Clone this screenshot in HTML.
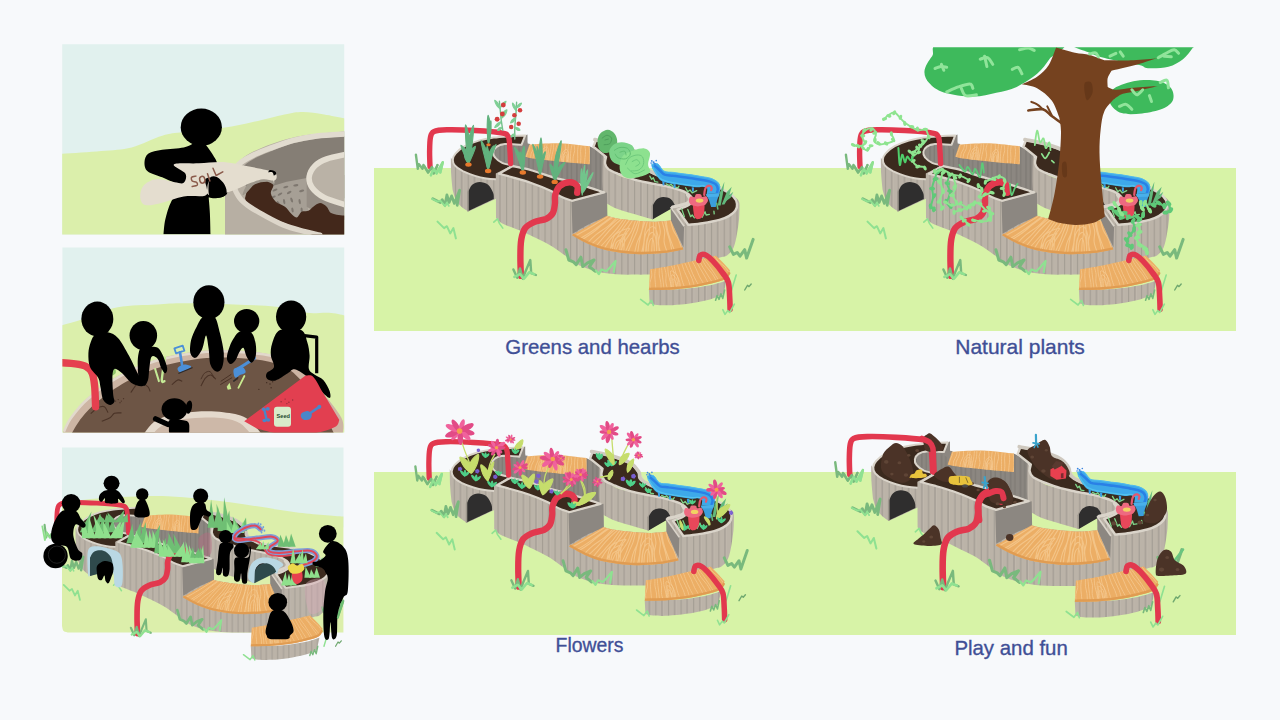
<!DOCTYPE html>
<html><head><meta charset="utf-8"><title>Planter concepts</title>
<style>
html,body{margin:0;padding:0;background:#f7f9fb;}
body{width:1280px;height:720px;overflow:hidden;font-family:"Liberation Sans",sans-serif;}
svg{display:block}
text{font-family:"Liberation Sans",sans-serif;fill:#3f4f96;stroke:#3f4f96;stroke-width:0.35px;}
</style></head><body>
<svg width="1280" height="720" viewBox="0 0 1280 720">
<defs>

<pattern id="st" width="12.8" height="40" patternUnits="userSpaceOnUse">
<rect width="12.8" height="40" fill="#bbb3a8"/>
<rect x="0.5" width="1.0" height="40" fill="#979189"/>
<rect x="1.5" width="1.0" height="40" fill="#cdc6bb" opacity="0.35"/>
<rect x="7" width="1.0" height="40" fill="#979189" opacity="0.75"/>
</pattern>
<pattern id="std" width="9.6" height="40" patternUnits="userSpaceOnUse">
<rect width="9.6" height="40" fill="#8c8781"/>
<rect x="0.4" width="1" height="40" fill="#79756f"/>
<rect x="4.6" width="0.8" height="40" fill="#79756f"/>
</pattern>
<pattern id="wg" width="60" height="60" patternUnits="userSpaceOnUse">
</pattern>

<g id="base0">
<path d="M415.9 154.7L417.8 168.8L418.8 164.1L422.5 168.8L423.4 165.0L428.1 172.5L431.9 166.9L433.8 173.4L437.5 165.0" fill="none" stroke="#79b97d" stroke-width="2.4" stroke-linejoin="round" stroke-linecap="round"/>
<path d="M430.9 175.3L433.8 168.8L436.6 173.4L442.8 162.2L440.3 172.5" fill="none" stroke="#8fe191" stroke-width="2.4" stroke-linejoin="round" stroke-linecap="round"/>
<path d="M450.8 157.5C450.9 160.3 450.9 168.9 451.2 174.4C451.5 179.8 452.4 187.7 452.7 190.3C453.3 192.0 454.7 197.8 456.2 200.6C457.8 203.4 459.8 205.4 461.9 207.2C463.9 209.0 467.3 210.8 468.4 211.5L496.6 198.4L496.6 178.1C493.0 177.2 481.7 175.0 475.0 172.5C468.3 170.0 460.3 165.6 456.2 163.1C452.2 160.6 451.7 158.4 450.8 157.5Z" fill="url(#st)"/>
<path d="M468.4 210.9L468.4 191.2C469.1 190.2 470.3 186.3 472.2 184.7C474.1 183.1 477.0 181.9 479.7 181.9C482.3 181.9 485.9 182.8 488.1 184.7C490.4 186.6 492.3 190.7 493.2 193.1C494.1 195.5 493.7 198.1 493.8 199.1Z" fill="#2f2e2e"/>
<path d="M467.1 211.5L467.1 192.2L468.6 187.5L468.6 211.5Z" fill="#9d978d"/>
<path d="M492.8 146.2L527.5 142.5L527.5 146.2L520.0 150.0L514.4 166.9L497.5 164.1L492.8 155.6Z" fill="url(#std)"/>
<path d="M519.2 145.9L527.9 143.6L530.1 144.0L526.0 157.5L519.2 152.8Z" fill="#8c8781"/>
<path d="M520.9 136.9L527.5 134.6L527.5 144.8L520.0 146.6Z" fill="#8c8781"/>
<path d="M520.0 146.2L529.4 153.8L589.4 161.2L589.4 146.2L603.4 152.8L603.4 192.2L512.5 165.9Z" fill="url(#std)"/>
<path d="M525.2 135.4C523.1 135.5 517.8 135.7 512.5 136.1C507.2 136.5 499.4 136.9 493.8 137.6C488.1 138.4 483.6 139.2 478.8 140.6C473.9 142.1 468.5 144.1 464.7 146.2C460.8 148.4 457.7 151.2 455.7 153.4C453.7 155.6 453.0 157.4 452.9 159.4C452.7 161.4 453.1 163.4 454.8 165.4C456.4 167.3 459.4 169.4 462.8 171.2C466.2 172.9 471.1 174.7 475.0 175.9C478.9 177.1 482.6 177.9 486.2 178.5C489.9 179.1 495.2 179.3 496.9 179.4C497.8 178.3 499.6 174.8 502.2 172.5C504.8 170.2 510.8 166.6 512.5 165.4C510.8 164.9 505.1 164.1 502.2 162.8C499.3 161.4 496.5 159.3 495.1 157.5C493.6 155.7 493.1 153.7 493.4 151.9C493.7 150.1 495.0 147.9 496.9 146.6C498.9 145.3 500.9 144.3 505.0 144.0C509.1 143.7 518.8 144.6 521.5 144.8L525.2 135.4Z" fill="#3b2a1e" stroke="#dad4ca" stroke-width="2" stroke-linejoin="round"/>
<clipPath id="cb1"><path d="M529.4 144.4C534.4 144.2 549.3 142.9 559.4 143.2C569.4 143.6 584.7 145.8 589.8 146.2L589.8 164.2C586.2 163.9 575.4 163.0 568.8 162.4C562.1 161.8 556.2 161.2 550.0 160.5C543.8 159.8 535.4 158.9 531.2 158.2C527.1 157.6 526.2 157.0 525.2 156.8L529.4 144.4Z"/></clipPath><path d="M529.4 144.4C534.4 144.2 549.3 142.9 559.4 143.2C569.4 143.6 584.7 145.8 589.8 146.2L589.8 164.2C586.2 163.9 575.4 163.0 568.8 162.4C562.1 161.8 556.2 161.2 550.0 160.5C543.8 159.8 535.4 158.9 531.2 158.2C527.1 157.6 526.2 157.0 525.2 156.8L529.4 144.4Z" fill="#ecae65"/>
<g clip-path="url(#cb1)"><path d="M530.5 144.3C530.3 145.0 529.8 147.1 529.3 148.5C528.8 149.9 528.0 151.3 527.6 152.7C527.1 154.1 526.6 156.3 526.5 157.1M534.6 144.2C534.5 144.9 534.2 147.2 533.6 148.8C533.0 150.3 531.7 151.8 531.2 153.4C530.7 154.9 530.8 157.3 530.7 158.1M536.8 144.1C536.7 144.9 536.7 147.3 536.2 148.8C535.7 150.4 534.4 152.0 533.8 153.6C533.3 155.2 533.2 157.6 533.0 158.5M540.6 144.0C540.6 144.8 540.8 147.3 540.4 148.9C540.0 150.6 538.8 152.2 538.2 153.9C537.7 155.5 537.3 158.1 537.1 159.0M545.2 143.8C545.0 144.7 544.4 147.3 544.1 149.0C543.8 150.7 543.7 152.4 543.3 154.2C543.0 155.9 542.2 158.6 542.0 159.5M547.2 143.7C547.0 144.6 546.6 147.2 546.4 149.0C546.2 150.8 546.3 152.5 545.9 154.3C545.5 156.1 544.4 158.9 544.1 159.8M551.3 143.6C551.2 144.5 551.1 147.2 550.8 149.1C550.6 150.9 550.2 152.7 549.8 154.6C549.4 156.5 548.7 159.4 548.5 160.3M553.7 143.5C553.6 144.4 553.6 147.2 553.4 149.1C553.1 151.0 552.5 152.9 552.1 154.8C551.8 156.7 551.2 159.6 551.1 160.6M557.5 143.3C557.3 144.3 556.0 147.2 555.8 149.2C555.7 151.1 556.8 153.0 556.7 155.0C556.6 157.0 555.4 160.0 555.2 161.0M561.2 143.4C561.2 144.4 561.1 147.4 561.0 149.4C560.9 151.3 560.9 153.3 560.6 155.3C560.3 157.3 559.4 160.4 559.1 161.4M565.1 143.8C565.1 144.8 565.6 147.8 565.3 149.8C565.1 151.7 564.0 153.7 563.7 155.7C563.3 157.7 563.3 160.8 563.2 161.8M568.6 144.2C568.5 145.2 568.0 148.1 568.0 150.1C567.9 152.1 568.6 154.1 568.4 156.1C568.3 158.1 567.3 161.2 567.0 162.2M572.1 144.5C571.9 145.5 571.1 148.5 570.9 150.5C570.6 152.5 570.5 154.4 570.5 156.4C570.5 158.4 570.7 161.5 570.8 162.6M574.1 144.7C574.2 145.7 574.8 148.7 574.7 150.7C574.5 152.6 573.5 154.6 573.2 156.6C572.9 158.6 573.0 161.7 573.0 162.8M578.3 145.1C578.2 146.1 577.7 149.1 577.6 151.1C577.5 153.1 577.8 155.0 577.7 157.0C577.7 159.0 577.5 162.1 577.4 163.2M581.2 145.4C581.1 146.4 580.7 149.4 580.6 151.3C580.6 153.3 580.9 155.3 580.9 157.3C580.9 159.3 580.6 162.4 580.5 163.4M584.9 145.8C585.0 146.8 585.6 149.7 585.6 151.7C585.6 153.7 585.2 155.6 585.0 157.7C584.8 159.7 584.6 162.8 584.5 163.8M588.9 146.2C589.1 147.2 589.5 150.1 589.6 152.1C589.8 154.1 590.0 156.0 589.9 158.1C589.8 160.1 589.0 163.2 588.9 164.2M540.0 159.3C540.2 157.9 540.5 152.7 541.7 150.6C542.9 148.6 545.8 146.9 546.9 146.9C548.0 147.0 548.1 148.7 548.5 151.0C548.8 153.2 548.9 158.8 549.0 160.4M541.3 159.5C541.5 158.3 541.7 154.3 542.6 152.7C543.4 151.1 545.6 149.7 546.4 149.8C547.2 149.8 547.1 151.2 547.3 152.9C547.5 154.6 547.6 159.0 547.6 160.2M542.7 159.6C542.8 158.8 542.9 155.9 543.5 154.7C544.0 153.5 545.4 152.6 545.8 152.6C546.3 152.6 546.1 153.6 546.2 154.8C546.2 156.1 546.3 159.2 546.3 160.1M561.3 161.6C561.5 160.2 561.7 155.1 562.5 153.1C563.4 151.0 565.4 149.4 566.3 149.4C567.3 149.4 567.9 151.1 568.4 153.3C568.8 155.5 568.9 160.9 569.0 162.4M562.4 161.7C562.6 160.6 562.7 156.6 563.3 155.0C564.0 153.5 565.4 152.1 566.1 152.2C566.8 152.2 567.1 153.5 567.4 155.2C567.7 156.9 567.8 161.1 567.9 162.3M563.6 161.9C563.7 161.1 563.8 158.2 564.2 157.0C564.5 155.9 565.4 154.9 565.8 155.0C566.2 155.0 566.3 155.9 566.5 157.1C566.6 158.3 566.7 161.3 566.7 162.2" fill="none" stroke="#f6cd96" stroke-width="0.9" opacity="0.75" stroke-linecap="round"/></g>
<path d="M602.8 155.0C602.7 160.0 602.0 177.1 602.4 185.0C602.8 192.9 604.6 199.4 605.0 202.2C606.9 203.3 611.2 206.4 616.2 208.4C621.2 210.4 628.9 212.4 635.0 214.2C641.1 216.1 649.8 218.5 652.8 219.3C656.1 217.3 666.1 210.7 672.5 207.5C678.9 204.3 688.4 202.5 691.2 200.0C694.1 197.5 689.7 193.8 689.4 192.5C686.6 191.7 678.4 189.2 672.5 187.8C666.6 186.4 660.0 185.3 653.8 184.1C647.5 182.8 641.2 182.0 635.0 180.3C628.8 178.6 621.6 178.0 616.2 173.8C610.9 169.5 605.0 158.1 602.8 155.0Z" fill="url(#st)"/>
<path d="M652.8 219.3L652.8 205.6C653.4 204.6 654.8 201.1 656.6 199.6C658.3 198.2 660.8 197.1 663.1 197.0C665.5 196.9 668.7 197.6 670.6 198.9C672.6 200.2 674.1 203.7 674.8 204.7L672.5 207.9Z" fill="#2f2e2e"/>
<path d="M651.5 218.9L651.5 206.0L653.0 202.8L653.0 219.5Z" fill="#9d978d"/>
<path d="M495.8 173.6L496.0 217.8C496.6 218.4 497.9 220.4 499.4 221.6C500.9 222.7 501.6 223.2 505.0 224.8C508.4 226.2 515.6 228.7 520.0 230.6C524.4 232.4 526.2 233.4 531.2 235.8C536.2 238.2 545.0 242.4 550.0 245.2C555.0 248.0 558.1 250.5 561.2 252.7C564.4 254.9 565.6 256.1 568.8 258.3C571.9 260.5 575.3 263.6 580.0 265.8C584.7 268.0 590.9 270.0 596.9 271.4C602.8 272.8 609.3 273.7 615.6 274.2C622.0 274.8 629.3 274.6 635.0 274.6C640.7 274.7 647.5 274.6 650.0 274.6C653.8 274.7 665.0 275.6 672.5 275.0C680.0 274.4 687.5 274.0 695.0 271.2C702.5 268.5 712.2 261.1 717.5 258.5C722.8 255.9 723.8 257.4 726.5 255.7C729.2 253.9 731.7 251.7 733.4 248.0C735.2 244.3 736.1 238.6 737.0 233.8C737.9 228.9 738.6 223.4 739.1 218.8C739.5 214.1 739.5 207.8 739.6 205.6C739.4 204.7 739.9 202.2 738.1 200.0C736.3 197.8 730.3 193.8 728.8 192.5L672.5 207.5L671.0 220.6C668.1 220.8 659.8 221.8 653.8 221.8C647.8 221.8 641.2 221.2 635.0 220.6C628.8 220.0 620.9 219.0 616.2 218.2C611.6 217.4 608.4 216.2 606.9 215.8L607.0 192.4L512.5 165.0Z" fill="url(#st)"/>
<path d="M571.6 201.9L607.0 192.4L607.4 216.5C604.4 217.8 595.2 221.1 589.4 224.0C583.6 226.9 575.3 232.1 572.5 233.8Z" fill="#8c8781"/>
<path d="M499.0 173.8L512.5 166.1C515.6 166.8 525.0 168.5 531.2 170.2C537.5 172.0 543.8 174.6 550.0 176.4C556.2 178.3 562.5 179.6 568.8 181.3C575.0 183.1 581.6 185.1 587.5 186.9C593.4 188.8 601.2 191.5 604.0 192.4L572.1 200.8C570.3 200.1 564.9 198.4 561.2 196.7C557.6 195.0 555.0 192.8 550.0 190.5C545.0 188.2 537.5 185.2 531.2 183.0C525.0 180.8 517.9 178.9 512.5 177.4C507.1 175.8 501.2 174.4 499.0 173.8Z" fill="#3b2a1e" stroke="#dad4ca" stroke-width="2.2" stroke-linejoin="round"/>
<path d="M596.0 140.0C599.4 140.8 609.8 142.7 616.2 144.7C622.8 146.7 630.6 149.5 635.0 152.2C639.4 154.8 640.3 157.7 642.5 160.6C644.7 163.6 645.6 167.7 648.1 170.0C650.6 172.3 653.4 173.4 657.5 174.7C661.6 175.9 666.9 176.7 672.5 177.5C678.1 178.3 685.0 178.7 691.2 179.8C697.5 180.8 704.7 182.4 710.0 184.1C715.3 185.7 719.2 187.6 723.1 189.7C727.0 191.8 731.1 194.3 733.4 196.6C735.8 199.0 736.7 201.4 737.0 203.8C737.3 206.1 736.7 208.6 735.3 210.7C733.9 212.8 731.4 214.6 728.8 216.1C726.1 217.7 723.8 218.7 719.4 219.9C715.0 221.1 707.7 222.4 702.5 223.2C697.3 224.1 690.6 224.5 688.2 224.8L677.6 209.6C679.2 208.9 685.1 207.0 687.5 205.6C689.9 204.3 691.2 203.0 691.8 201.5C692.4 200.0 692.3 198.2 691.2 196.6C690.2 195.1 687.8 193.4 685.2 192.1C682.8 190.8 679.6 189.8 676.2 188.8C672.9 187.7 668.8 186.8 665.0 185.9C661.2 185.1 658.8 184.9 653.8 183.9C648.8 182.8 640.9 181.4 635.0 179.8C629.1 178.1 622.6 175.5 618.1 173.8C613.7 172.0 610.6 170.8 608.4 169.1C606.2 167.3 605.4 165.5 605.0 163.4C604.6 161.4 605.9 158.0 606.1 156.9L593.4 146.8Z" fill="#3b2a1e" stroke="#dad4ca" stroke-width="2.4" stroke-linejoin="round"/>
<path d="M594.9 139.6C598.4 140.4 609.6 142.2 616.2 144.1C622.9 146.1 630.6 148.8 635.0 151.4C639.4 154.1 641.4 157.4 642.9 159.9C644.4 162.3 643.1 164.5 644.0 166.2C644.9 168.0 646.2 168.9 648.5 170.4C650.8 171.8 656.3 174.1 657.9 174.9" fill="none" stroke="#cfc9bf" stroke-width="3.6" stroke-linecap="round"/>
<path d="M672.5 207.1C674.1 206.7 679.3 205.7 681.9 204.9C684.5 204.1 686.9 203.4 688.2 202.4C689.6 201.4 690.2 200.2 690.1 198.9C690.0 197.6 687.9 195.4 687.5 194.8" fill="none" stroke="#dad4ca" stroke-width="3.2" stroke-linecap="round"/>
<path d="M670.6 207.1L684.1 226.2L683.4 247.2L671.0 221.0Z" fill="#8c8781"/>
<path d="M670.6 207.1L684.1 226.2" stroke="#dad4ca" stroke-width="1.6" fill="none"/>
<clipPath id="cb2"><path d="M606.9 215.8C608.4 216.2 611.6 217.4 616.2 218.2C620.9 219.0 628.8 220.0 635.0 220.6C641.2 221.2 647.8 221.8 653.8 221.8C659.8 221.8 668.1 220.8 671.0 220.6L683.0 249.3C679.7 249.9 671.1 252.3 663.1 253.1C655.1 253.8 644.4 254.5 635.0 254.0C625.6 253.5 614.7 252.0 606.9 250.2C599.1 248.5 593.9 246.2 588.1 243.7C582.3 241.2 574.7 236.5 572.0 235.1L606.9 215.8Z"/></clipPath><path d="M606.9 215.8C608.4 216.2 611.6 217.4 616.2 218.2C620.9 219.0 628.8 220.0 635.0 220.6C641.2 221.2 647.8 221.8 653.8 221.8C659.8 221.8 668.1 220.8 671.0 220.6L683.0 249.3C679.7 249.9 671.1 252.3 663.1 253.1C655.1 253.8 644.4 254.5 635.0 254.0C625.6 253.5 614.7 252.0 606.9 250.2C599.1 248.5 593.9 246.2 588.1 243.7C582.3 241.2 574.7 236.5 572.0 235.1L606.9 215.8Z" fill="#ecae65"/>
<g clip-path="url(#cb2)"><path d="M608.4 216.1C606.6 217.3 601.4 220.6 597.8 222.8C594.3 225.0 590.7 227.2 586.8 229.5C582.9 231.7 576.5 235.2 574.4 236.4M611.5 216.9C609.8 218.2 604.9 221.8 601.6 224.2C598.3 226.7 595.2 229.1 591.5 231.5C587.8 234.0 581.5 237.8 579.5 239.0M612.7 217.3C610.9 218.5 605.5 222.3 602.2 224.8C599.0 227.3 596.7 229.8 593.2 232.3C589.8 234.9 583.3 238.8 581.4 240.1M616.2 218.2C614.8 219.6 611.1 223.7 607.8 226.4C604.4 229.2 599.4 231.9 596.0 234.7C592.5 237.5 588.6 241.8 587.1 243.2M618.6 218.5C617.0 219.9 611.8 224.3 608.8 227.2C605.8 230.0 603.5 232.9 600.6 235.8C597.6 238.7 592.7 243.2 591.1 244.7M621.5 218.9C619.8 220.4 614.6 224.9 611.7 228.0C608.7 231.0 606.4 234.0 603.8 237.0C601.2 240.1 597.2 244.9 595.9 246.4M623.7 219.2C622.5 220.7 619.4 225.4 616.9 228.6C614.4 231.7 611.4 234.8 608.5 238.0C605.7 241.2 601.1 246.1 599.6 247.7M626.1 219.5C625.1 221.1 622.2 226.0 619.6 229.3C617.0 232.5 613.0 235.8 610.4 239.1C607.8 242.4 604.9 247.5 603.8 249.2M629.5 219.9C628.3 221.6 624.4 226.7 622.0 230.0C619.5 233.4 617.1 236.8 615.1 240.2C613.0 243.6 610.6 248.9 609.7 250.6M632.6 220.3C631.5 222.0 628.1 227.1 626.1 230.6C624.0 234.0 622.1 237.3 620.3 240.8C618.5 244.3 616.0 249.6 615.2 251.4M635.5 220.6C634.8 222.4 633.3 227.6 631.5 231.0C629.7 234.5 626.7 237.9 624.8 241.4C623.0 244.9 621.0 250.3 620.3 252.0M638.1 220.8C637.4 222.6 635.3 227.8 633.9 231.3C632.5 234.8 631.4 238.3 629.9 241.8C628.4 245.4 625.8 250.9 624.9 252.7M639.6 220.9C639.1 222.7 638.1 228.0 636.9 231.5C635.6 235.0 633.7 238.5 632.2 242.1C630.6 245.7 628.3 251.2 627.5 253.0M643.5 221.1C643.2 222.9 642.7 228.3 641.6 232.0C640.5 235.6 638.2 239.1 637.0 242.8C635.8 246.4 634.9 252.1 634.4 253.9M645.2 221.2C644.7 223.0 642.8 228.4 641.7 232.0C640.7 235.6 639.8 239.2 639.1 242.8C638.4 246.5 637.8 252.1 637.5 253.9M647.4 221.4C647.0 223.2 645.5 228.5 644.9 232.1C644.3 235.6 644.3 239.1 643.8 242.8C643.2 246.4 641.8 251.9 641.4 253.8M650.0 221.5C649.9 223.3 649.7 228.6 649.2 232.1C648.7 235.7 647.5 239.1 646.9 242.7C646.4 246.3 646.2 251.8 646.0 253.6M653.2 221.7C653.3 223.5 653.8 228.7 653.6 232.2C653.4 235.7 652.5 239.1 652.2 242.7C651.8 246.2 651.8 251.6 651.7 253.4M655.9 221.6C655.9 223.4 655.9 228.6 656.1 232.1C656.2 235.5 656.8 239.0 656.9 242.5C656.9 246.0 656.6 251.5 656.5 253.3M658.2 221.5C658.5 223.2 660.3 228.4 660.3 231.9C660.3 235.4 658.4 238.8 658.4 242.4C658.4 245.9 660.2 251.4 660.5 253.1M662.0 221.2C662.4 222.9 664.3 228.0 664.7 231.5C665.0 234.9 663.7 238.2 664.1 241.7C664.5 245.2 666.7 250.5 667.2 252.3M664.7 221.0C665.1 222.7 665.9 227.7 666.8 231.0C667.6 234.4 668.9 237.7 669.8 241.1C670.7 244.4 671.7 249.7 672.1 251.4M666.2 220.9C666.4 222.6 666.9 227.5 667.7 230.8C668.4 234.1 669.7 237.4 670.8 240.7C672.0 244.1 673.9 249.2 674.6 250.9M670.4 220.7C670.9 222.2 672.0 227.0 673.3 230.2C674.7 233.4 677.3 236.5 678.7 239.7C680.2 242.9 681.4 247.9 681.9 249.5M610.1 250.7C610.9 248.1 611.7 238.7 614.9 235.0C618.1 231.2 627.7 228.1 629.4 228.2C631.1 228.3 626.1 231.5 625.1 235.5C624.2 239.6 624.0 249.7 623.7 252.5M612.1 250.9C612.7 248.9 613.3 241.6 615.7 238.6C618.2 235.7 625.5 233.3 626.7 233.4C627.8 233.4 623.7 235.9 622.9 239.0C622.1 242.2 621.9 250.0 621.7 252.2M614.2 251.2C614.6 249.7 615.0 244.4 616.6 242.3C618.2 240.2 623.2 238.5 623.9 238.5C624.6 238.5 621.4 240.3 620.7 242.5C620.0 244.8 619.8 250.4 619.6 251.9M643.1 253.7C643.5 250.5 643.9 239.2 645.5 234.6C647.1 230.1 650.7 226.5 652.7 226.5C654.7 226.4 656.5 230.0 657.6 234.5C658.7 238.9 659.0 250.1 659.2 253.2M645.6 253.6C645.8 251.2 646.1 242.3 647.3 238.8C648.4 235.2 650.9 232.4 652.3 232.4C653.8 232.4 655.0 235.2 655.7 238.7C656.4 242.1 656.6 250.8 656.8 253.3M648.0 253.6C648.1 251.8 648.3 245.4 649.0 242.9C649.7 240.4 651.2 238.4 652.0 238.3C652.8 238.3 653.4 240.3 653.8 242.8C654.2 245.3 654.3 251.6 654.4 253.4" fill="none" stroke="#f6cd96" stroke-width="1.1" opacity="0.7" stroke-linecap="round"/></g>
<path d="M683.0 248.4C679.7 249.0 671.1 251.2 663.1 251.9C655.1 252.7 644.4 253.3 635.0 252.9C625.6 252.4 614.7 250.8 606.9 249.1C599.1 247.4 593.8 245.0 588.1 242.6C582.4 240.1 575.3 235.8 572.8 234.5" fill="none" stroke="#e09c52" stroke-width="2.4"/>
<path d="M648.9 289.2L649.6 303.5C650.9 303.8 653.7 304.7 657.5 305.0C661.3 305.3 666.9 305.5 672.5 305.2C678.1 304.9 685.0 304.2 691.2 303.3C697.5 302.4 704.6 301.1 710.0 299.6C715.4 298.0 721.2 295.0 723.5 294.1L726.5 280.6C723.8 281.4 717.4 283.9 710.0 285.3C702.6 286.7 692.0 288.4 681.9 289.1C671.8 289.7 654.7 289.2 649.2 289.2Z" fill="url(#st)"/>
<clipPath id="cb3"><path d="M650.0 269.4C653.8 268.8 664.7 267.2 672.5 265.6C680.3 264.1 689.6 261.7 696.9 260.0C704.1 258.3 712.8 256.4 716.0 255.7C717.2 256.9 720.8 260.3 723.1 262.8C725.5 265.3 728.9 269.2 730.1 270.5C729.3 271.9 728.7 276.9 725.4 279.1C722.0 281.3 715.7 282.4 710.0 283.8C704.3 285.2 697.5 286.6 691.2 287.6C685.0 288.5 679.6 289.0 672.5 289.4C665.4 289.8 652.8 289.9 648.9 290.0L650.0 269.4Z"/></clipPath><path d="M650.0 269.4C653.8 268.8 664.7 267.2 672.5 265.6C680.3 264.1 689.6 261.7 696.9 260.0C704.1 258.3 712.8 256.4 716.0 255.7C717.2 256.9 720.8 260.3 723.1 262.8C725.5 265.3 728.9 269.2 730.1 270.5C729.3 271.9 728.7 276.9 725.4 279.1C722.0 281.3 715.7 282.4 710.0 283.8C704.3 285.2 697.5 286.6 691.2 287.6C685.0 288.5 679.6 289.0 672.5 289.4C665.4 289.8 652.8 289.9 648.9 290.0L650.0 269.4Z" fill="#ecae65"/>
<g clip-path="url(#cb3)"><path d="M651.1 269.2C651.2 270.3 652.0 273.8 651.8 276.0C651.6 278.3 650.1 280.6 649.9 282.9C649.6 285.2 650.3 288.8 650.3 290.0M655.4 268.5C655.3 269.7 654.8 273.2 654.8 275.5C654.7 277.9 655.1 280.2 655.3 282.6C655.5 285.0 655.9 288.6 656.0 289.8M659.3 267.8C659.3 269.0 659.1 272.6 659.3 275.0C659.6 277.5 660.5 279.8 660.8 282.3C661.1 284.7 661.1 288.5 661.1 289.7M661.6 267.4C661.7 268.7 662.0 272.3 662.3 274.8C662.6 277.2 662.9 279.6 663.2 282.1C663.5 284.6 663.9 288.4 664.1 289.6M664.4 267.0C664.6 268.2 665.9 271.9 666.1 274.4C666.4 276.9 665.5 279.4 665.8 281.9C666.0 284.4 667.4 288.3 667.7 289.6M667.8 266.4C667.8 267.7 667.9 271.5 668.3 274.0C668.7 276.5 669.6 279.0 670.2 281.6C670.9 284.2 671.9 288.1 672.2 289.4M671.4 265.8C671.9 267.1 673.5 270.9 674.1 273.5C674.7 276.0 674.4 278.5 674.9 281.1C675.4 283.7 676.7 287.7 677.0 289.0M674.2 265.2C674.4 266.5 674.9 270.4 675.8 273.0C676.7 275.5 678.6 278.1 679.4 280.7C680.2 283.3 680.4 287.3 680.6 288.6M677.3 264.5C677.8 265.8 679.3 269.7 680.1 272.3C680.8 274.9 681.2 277.5 682.0 280.1C682.8 282.8 684.4 286.9 684.8 288.2M681.8 263.5C682.2 264.8 683.4 268.8 684.4 271.4C685.5 274.1 687.0 276.7 688.1 279.4C689.1 282.1 690.3 286.2 690.8 287.6M684.8 262.8C685.4 264.1 687.1 268.1 688.3 270.7C689.5 273.4 691.0 276.0 692.1 278.7C693.1 281.4 694.2 285.5 694.6 286.9M688.2 262.0C688.7 263.3 690.0 267.3 691.1 269.9C692.2 272.6 693.2 275.1 694.6 277.8C695.9 280.5 698.4 284.6 699.1 286.0M692.2 261.1C692.9 262.4 695.0 266.3 696.2 268.9C697.4 271.6 698.3 274.2 699.6 276.8C701.0 279.5 703.6 283.6 704.4 284.9M695.5 260.3C696.3 261.6 698.5 265.5 700.0 268.2C701.5 270.8 703.2 273.3 704.6 276.0C706.1 278.7 708.0 282.7 708.7 284.1M698.7 259.6C699.4 260.9 701.4 264.7 702.9 267.3C704.4 269.9 706.0 272.4 707.6 275.0C709.3 277.6 711.9 281.7 712.7 283.0M701.9 258.9C702.6 260.1 704.4 263.9 706.1 266.4C707.9 268.9 710.5 271.4 712.3 273.9C714.1 276.5 716.1 280.4 716.9 281.7M703.7 258.5C704.6 259.7 707.4 263.4 709.2 265.9C710.9 268.4 712.6 270.8 714.3 273.4C715.9 275.9 718.3 279.8 719.1 281.0M708.7 257.3C709.7 258.5 713.0 262.1 714.9 264.5C716.7 266.9 718.0 269.3 719.7 271.7C721.5 274.1 724.5 277.8 725.4 279.1M710.5 256.9C711.2 258.0 713.3 261.3 715.1 263.5C716.9 265.7 719.2 267.9 721.1 270.2C723.1 272.4 725.6 275.8 726.6 277.0M714.4 256.1C715.0 257.0 716.6 259.7 718.4 261.4C720.1 263.2 723.1 265.0 724.9 266.8C726.6 268.7 728.3 271.5 729.0 272.4M670.7 289.5C670.8 287.3 670.8 279.5 670.8 276.3C670.8 273.2 669.9 270.7 671.0 270.7C672.1 270.6 675.9 273.1 677.3 276.1C678.8 279.1 679.1 286.6 679.5 288.7M672.1 289.5C672.0 287.7 672.0 281.6 672.0 279.2C672.0 276.7 671.1 274.8 671.9 274.7C672.7 274.7 675.5 276.6 676.6 279.0C677.6 281.3 677.9 287.2 678.2 288.9M673.4 289.4C673.3 288.1 673.3 283.7 673.2 282.0C673.1 280.2 672.4 278.8 672.8 278.8C673.2 278.8 675.2 280.2 675.8 281.9C676.5 283.6 676.7 287.8 676.8 289.0" fill="none" stroke="#f6cd96" stroke-width="0.9" opacity="0.75" stroke-linecap="round"/></g>
<path d="M729.7 272.2C728.9 273.2 728.3 276.2 725.0 278.0C721.7 279.8 715.6 281.3 710.0 282.7C704.4 284.1 697.5 285.5 691.2 286.4C685.0 287.4 679.5 287.9 672.5 288.3C665.5 288.7 653.1 288.8 649.2 288.9" fill="none" stroke="#e09c52" stroke-width="2.4"/>
<path d="M432.8 198.8L440.3 202.5L442.2 199.7L445.0 205.3L446.9 195.0L449.1 202.5L451.6 195.9L454.4 203.4L459.6 190.3L457.2 205.3" fill="none" stroke="#79b97d" stroke-width="2.8" stroke-linejoin="round" stroke-linecap="round"/>
<path d="M431.9 198.8L437.5 201.6L440.3 200.6L445.0 206.2L446.9 202.5L448.8 205.9" fill="none" stroke="#8fe191" stroke-width="1.8" stroke-linejoin="round" stroke-linecap="round"/>
<path d="M437.5 221.6L444.1 228.1L446.9 226.2L450.2 233.4L453.4 228.1L455.9 238.4" fill="none" stroke="#8fe191" stroke-width="2.0" stroke-linejoin="round" stroke-linecap="round"/>
<path d="M493.8 222.1L497.5 218.8L499.4 223.4L502.8 228.1" fill="none" stroke="#8fe191" stroke-width="1.6" stroke-linejoin="round" stroke-linecap="round"/>
<path d="M565.9 249.7L568.8 260.0L573.4 261.9L576.2 264.7L580.9 257.2L582.8 266.6L587.5 262.8L594.1 260.0L589.4 266.6L595.0 271.2" fill="none" stroke="#79b97d" stroke-width="3.0" stroke-linejoin="round" stroke-linecap="round"/>
<path d="M595.9 270.3L598.8 274.1L601.6 269.4L606.2 271.2L610.0 267.5L615.6 260.9L613.8 272.2" fill="none" stroke="#8fe191" stroke-width="2.2" stroke-linejoin="round" stroke-linecap="round"/>
<path d="M729.7 246.9L733.4 254.4L737.2 252.5L740.0 256.2L744.7 249.7L746.6 258.1L753.1 239.4" fill="none" stroke="#79b97d" stroke-width="3.0" stroke-linejoin="round" stroke-linecap="round"/>
<path d="M640.6 299.4L648.1 305.0L651.5 300.3L653.4 305.4" fill="none" stroke="#8fe191" stroke-width="1.6" stroke-linejoin="round" stroke-linecap="round"/>
<path d="M744.7 290.0L747.5 285.3L749.0 286.6L751.2 284.0" fill="none" stroke="#6fa86f" stroke-width="1.4" stroke-linejoin="round" stroke-linecap="round"/>
<path d="M715.6 300.3L717.1 295.6L719.0 299.4L720.9 293.8L722.8 298.4L724.6 290.0" fill="none" stroke="#79b97d" stroke-width="1.6" stroke-linejoin="round" stroke-linecap="round"/>
<path d="M731.6 290.0L736.2 275.0" fill="none" stroke="#8fe191" stroke-width="1.6" stroke-linejoin="round" stroke-linecap="round"/>
<path d="M430.0 166.5C429.9 164.1 429.6 156.7 429.6 151.9C429.7 147.1 429.7 141.2 430.4 137.8C431.1 134.4 431.0 133.0 433.8 131.6C436.5 130.3 440.0 129.9 446.9 129.8C453.8 129.6 465.9 130.0 475.0 130.5C484.1 131.0 495.7 131.7 501.2 132.8C506.8 133.8 506.9 134.0 508.4 136.9C509.8 139.8 509.5 145.6 509.9 150.0C510.3 154.4 510.5 161.2 510.6 163.5" fill="none" stroke="#e2384e" stroke-width="5.4" stroke-linecap="round" stroke-linejoin="round"/>
<path d="M577.2 192.8C577.2 191.6 578.4 187.8 577.2 186.0C575.9 184.2 572.6 182.2 569.7 182.2C566.8 182.2 562.2 183.9 559.8 186.0C557.3 188.1 556.1 192.0 555.2 195.0C554.4 198.0 555.3 200.7 554.9 203.8C554.5 206.8 554.2 210.6 552.8 213.1C551.4 215.6 549.4 217.2 546.2 218.8C543.1 220.2 537.6 220.6 534.1 222.1C530.6 223.7 527.4 225.2 525.2 228.1C523.1 231.0 522.1 234.7 521.3 239.4C520.5 244.1 520.4 250.2 520.4 256.2C520.3 262.3 520.8 272.7 520.9 275.9" fill="none" stroke="#e2384e" stroke-width="6.4" stroke-linecap="round" stroke-linejoin="round"/>
<path d="M424.4 165.9L428.1 172.5L431.9 166.9L433.8 173.4L437.5 165.0" fill="none" stroke="#79b97d" stroke-width="2.0" stroke-linejoin="round" stroke-linecap="round"/>
<path d="M430.9 175.3L433.8 168.8L436.6 173.4L442.8 162.2L440.3 172.5" fill="none" stroke="#8fe191" stroke-width="2.2" stroke-linejoin="round" stroke-linecap="round"/>
<path d="M513.4 269.4L517.2 277.8L520.0 268.4L522.8 278.8L525.6 271.2L530.3 260.0L531.2 273.1L535.9 275.0" fill="none" stroke="#79b97d" stroke-width="2.4" stroke-linejoin="round" stroke-linecap="round"/>
<path d="M514.4 276.9L520.0 274.1L523.8 278.8L529.4 272.2L534.1 274.1" fill="none" stroke="#8fe191" stroke-width="2.6" stroke-linejoin="round" stroke-linecap="round"/>
</g>
<g id="chan">
<path d="M649.8 176.1L651.7 179.4L653.3 177.8L655.0 181.7L657.8 182.2" fill="none" stroke="#7fd58a" stroke-width="1.3" stroke-linejoin="round" stroke-linecap="round"/>
<path d="M666.1 183.9L669.4 185.6L671.1 184.2L673.3 186.7L677.8 187.8L678.9 186.1" fill="none" stroke="#7fd58a" stroke-width="1.3" stroke-linejoin="round" stroke-linecap="round"/>
<path d="M685.6 187.8L687.8 191.7L690.0 190.0L692.2 192.8L696.7 190.6" fill="none" stroke="#7fd58a" stroke-width="1.3" stroke-linejoin="round" stroke-linecap="round"/>
<path d="M681.7 208.9L684.4 216.7" fill="none" stroke="#7fd58a" stroke-width="1.3" stroke-linejoin="round" stroke-linecap="round"/>
<path d="M687.8 209.4L690.6 216.7L692.2 215.0L694.4 217.8" fill="none" stroke="#7fd58a" stroke-width="1.3" stroke-linejoin="round" stroke-linecap="round"/>
<path d="M702.2 217.2L705.0 211.7L706.1 215.0L709.4 214.4" fill="none" stroke="#7fd58a" stroke-width="1.3" stroke-linejoin="round" stroke-linecap="round"/>
<path d="M713.9 211.1L714.2 213.9" fill="none" stroke="#7fd58a" stroke-width="1.3" stroke-linejoin="round" stroke-linecap="round"/>
<path d="M651.1 164.2C652.2 164.1 655.6 162.7 657.8 163.8C659.9 164.9 661.3 169.5 663.9 170.9C666.5 172.3 669.9 171.7 673.3 172.2C676.8 172.7 681.1 173.3 684.4 173.8C687.8 174.2 690.4 174.4 693.3 174.9C696.3 175.3 699.3 175.9 702.2 176.4C705.2 177.0 708.5 177.3 711.1 178.2C713.7 179.1 716.3 180.6 717.8 182.0C719.3 183.4 719.9 184.7 720.2 186.7C720.5 188.6 719.7 192.4 719.6 193.6L706.7 194.0C706.7 193.1 707.7 189.5 707.1 188.3C706.6 187.1 704.9 187.1 703.3 186.9C701.8 186.7 700.2 187.4 697.8 187.3C695.4 187.2 692.0 186.7 688.9 186.2C685.7 185.8 682.2 185.2 678.9 184.7C675.6 184.2 671.9 184.0 668.9 183.3C665.9 182.7 663.1 181.9 661.1 180.7C659.1 179.4 658.2 177.9 656.7 175.8C655.2 173.6 652.8 169.1 652.0 167.8L651.1 164.2Z" fill="#3ea9e9"/>
<path d="M654.2 165.6C655.1 166.3 657.7 168.5 659.4 170.0C661.2 171.5 662.4 173.7 664.7 174.7C667.0 175.6 670.0 175.3 673.3 175.8C676.6 176.2 681.1 176.9 684.4 177.3C687.8 177.8 690.4 178.0 693.3 178.4C696.3 178.9 699.4 179.5 702.2 180.0C705.0 180.5 707.8 180.9 710.0 181.6C712.2 182.3 714.3 183.0 715.6 184.2C716.9 185.4 717.6 187.3 717.8 188.9C718.0 190.4 716.9 192.8 716.7 193.6" fill="none" stroke="#2a80e6" stroke-width="2.5" stroke-linejoin="round"/>
<path d="M652.4 167.3C653.3 168.7 656.0 173.3 657.6 175.3C659.2 177.4 659.9 178.4 662.0 179.6C664.1 180.7 667.2 181.6 670.0 182.2C672.8 182.9 675.7 183.1 678.9 183.6C682.0 184.0 685.7 184.7 688.9 185.1C692.0 185.6 695.3 186.1 697.8 186.2C700.3 186.3 702.3 185.6 703.9 185.8C705.5 186.0 706.8 187.3 707.3 187.6" fill="none" stroke="#52c2ee" stroke-width="1.3"/>
<path d="M652.0 164.2C653.0 164.2 655.8 162.9 657.8 164.0C659.8 165.1 661.3 169.7 663.9 171.1C666.5 172.5 669.9 172.0 673.3 172.4C676.8 172.9 681.1 173.6 684.4 174.0C687.8 174.4 690.4 174.7 693.3 175.1C696.3 175.6 699.3 176.1 702.2 176.7C705.2 177.2 708.6 177.5 711.1 178.4C713.7 179.4 716.1 180.8 717.6 182.2C719.0 183.6 719.6 186.1 720.0 186.9" fill="none" stroke="#4fbbee" stroke-width="1.0"/>
<path d="M691.7 187.2L694.1 187.6L693.7 191.7L692.1 191.4Z" fill="#3aa0e6"/>
<path d="M673.3 183.9L675.8 184.2L675.3 188.3L673.8 188.1Z" fill="#3aa0e6"/>
<path d="M662.2 181.1L664.7 181.4L664.2 185.6L662.7 185.3Z" fill="#3aa0e6"/>
<circle cx="651.78" cy="160.89" r="0.9" fill="#3a86e0"/>
<circle cx="653.56" cy="162.22" r="1.0" fill="#3a86e0"/>
<circle cx="656.22" cy="160.67" r="0.8" fill="#3a86e0"/>
<circle cx="654.67" cy="163.78" r="1.1" fill="#3a86e0"/>
<circle cx="651.11" cy="163.11" r="0.8" fill="#3a86e0"/>
<path d="M706.0 194.2L719.6 193.3L717.1 200.2L715.8 206.9L711.1 207.1L709.1 200.2Z" fill="#3b9fdc"/>
<path d="M706.0 194.2L719.6 193.3L718.4 196.7L706.9 197.1Z" fill="#49b0ea"/>
<path d="M704.2 195.0C704.3 194.2 704.5 191.4 704.9 190.0C705.3 188.6 705.9 187.4 706.7 186.7C707.5 186.0 708.9 185.6 709.8 185.8C710.6 186.0 711.6 187.0 711.8 187.8C712.0 188.5 711.2 189.8 711.1 190.2" fill="none" stroke="#e4586f" stroke-width="2.2" stroke-linecap="round"/>
<path d="M693.8 202.2C695.4 200.6 701.6 200.9 703.3 202.2C705.1 203.5 704.6 207.6 704.4 210.0C704.3 212.4 703.5 215.2 702.4 216.7C701.4 218.2 699.6 218.9 698.3 219.1C697.1 219.3 695.8 218.9 695.0 217.8C694.2 216.6 693.8 214.8 693.6 212.2C693.4 209.6 692.2 203.9 693.8 202.2Z" fill="#e8475a"/>
<path d="M688.9 200.6C688.9 199.3 689.3 197.2 690.2 196.7C691.1 196.1 693.5 197.6 694.4 197.2C695.4 196.8 695.0 194.7 696.1 194.2C697.2 193.8 699.9 194.0 700.9 194.4C701.9 194.9 701.3 196.6 702.2 196.9C703.1 197.2 705.5 195.8 706.4 196.4C707.4 197.1 708.1 199.2 708.0 200.6C707.9 201.9 706.5 203.6 705.6 204.4C704.6 205.3 703.5 205.2 702.2 205.6C700.9 205.9 699.3 206.4 697.8 206.4C696.3 206.4 694.6 205.9 693.3 205.6C692.1 205.2 691.0 205.1 690.2 204.2C689.5 203.4 688.9 201.8 688.9 200.6Z" fill="#ee6a80"/>
<ellipse cx="699.56" cy="200.56" rx="3.8" ry="2.1" fill="#f1d262"/>
<path d="M717.8 205.6L720.0 192.2L724.4 181.7L722.8 194.4L720.6 205.6Z" fill="#62b97c"/>
<path d="M721.7 204.4L726.7 192.2L731.7 186.7L728.9 196.7L724.4 204.4Z" fill="#62b97c"/>
<path d="M724.4 202.2L730.0 194.4L733.3 191.7L730.6 197.8Z" fill="#62b97c"/>
<path d="M716.7 203.3L717.8 208.9" fill="none" stroke="#62b97c" stroke-width="1.6" stroke-linejoin="round" stroke-linecap="round"/>
</g>
<g id="h3">
<path d="M698.8 260.4C699.0 259.5 699.2 256.2 700.2 255.3C701.3 254.4 703.2 253.8 705.3 254.8C707.4 255.7 709.8 257.8 712.8 260.9C715.8 264.1 720.5 269.9 723.1 273.5C725.7 277.1 727.3 278.5 728.4 282.5C729.5 286.5 729.4 293.1 729.7 297.5C730.0 301.9 730.0 307.2 730.1 309.1" fill="none" stroke="#e2384e" stroke-width="5.6" stroke-linecap="round" stroke-linejoin="round"/>
<path d="M722.8 309.7L725.0 314.4L727.8 310.6L729.7 312.5L734.4 304.1" fill="none" stroke="#8fe191" stroke-width="1.6" stroke-linejoin="round" stroke-linecap="round"/>
</g>
<g id="base"><use href="#base0"/><use href="#chan"/><use href="#h3"/></g>
</defs>
<rect width="1280" height="720" fill="#f7f9fb"/>
<rect x="374" y="168" width="862" height="163" fill="#d7f3a7"/>
<rect x="374" y="472" width="862" height="163" fill="#d7f3a7"/>

<use href="#base"/>
<use href="#base" transform="translate(430,0)"/>
<use href="#base" transform="translate(6.0,313.0) scale(0.9843,0.992)"/>
<use href="#base" transform="translate(407.7,302.8) scale(1.028,1.031)"/>
<clipPath id="cp1"><rect x="62.2" y="44.2" width="282" height="190.2"/></clipPath>
<g clip-path="url(#cp1)">
<rect x="62" y="44" width="283" height="191" fill="#e1f1ee"/>
<path d="M58.3 154.1C65.5 153.6 88.9 152.2 101.1 151.0C113.4 149.9 121.5 149.9 131.7 147.4C141.9 144.8 153.6 138.3 162.2 135.8C170.9 133.2 173.5 133.4 183.7 132.1C193.8 130.8 211.7 129.5 223.4 127.8C235.1 126.1 243.8 123.9 253.9 121.7C264.1 119.5 276.4 116.0 284.5 114.4C292.7 112.7 296.2 111.9 302.9 111.9C309.5 111.9 316.6 113.1 324.2 114.4C331.9 115.6 344.6 118.4 348.7 119.2L348.7 243.9L58.3 243.9Z" fill="#dbefab"/>
<path d="M225.0 236.7L225.0 193.3C226.4 189.4 229.2 176.7 233.3 170.0C237.5 163.3 240.0 158.7 250.0 153.3C260.0 147.9 277.5 141.2 293.3 137.5C309.2 133.8 336.4 132.4 345.0 131.3L345.0 236.7Z" fill="#b7afa3"/>
<path d="M345.0 136.3C340.3 136.7 325.3 137.5 316.7 138.7C308.1 139.8 301.1 141.2 293.3 143.3C285.6 145.5 276.7 149.0 270.0 151.7C263.3 154.3 257.9 156.5 253.3 159.2C248.7 161.8 244.4 164.6 242.5 167.5C240.6 170.4 240.4 172.9 241.7 176.7C242.9 180.4 245.3 186.4 250.0 190.0C254.7 193.6 266.7 196.9 270.0 198.3L345.0 198.3Z" fill="#857e75"/>
<path d="M345.0 134.0C340.3 134.3 325.3 134.9 316.7 136.0C308.1 137.1 301.1 138.3 293.3 140.3C285.6 142.4 276.9 145.7 270.0 148.3C263.1 150.9 256.9 153.3 251.7 156.0C246.4 158.7 241.6 161.7 238.7 164.3C235.8 166.9 234.9 170.4 234.2 171.7" fill="none" stroke="#e1dbcf" stroke-width="5.4" stroke-linecap="round"/>
<path d="M270.0 186.7L286.7 181.7L306.7 178.0L308.3 213.3L293.3 220.0L271.7 198.3Z" fill="#a69f95"/>
<ellipse cx="275.0" cy="190.0" rx="2.6" ry="1.1" fill="#7e776f" transform="rotate(-20 275.0 190.0)"/>
<ellipse cx="285.83" cy="187.0" rx="2.6" ry="1.1" fill="#7e776f" transform="rotate(-15 285.83 187.0)"/>
<ellipse cx="295.83" cy="185.33" rx="2.6" ry="1.1" fill="#7e776f" transform="rotate(-10 295.83 185.33)"/>
<ellipse cx="301.67" cy="190.83" rx="2.6" ry="1.1" fill="#7e776f" transform="rotate(-15 301.67 190.83)"/>
<ellipse cx="289.17" cy="192.5" rx="2.6" ry="1.1" fill="#7e776f" transform="rotate(-30 289.17 192.5)"/>
<ellipse cx="280.0" cy="194.17" rx="2.6" ry="1.1" fill="#7e776f" transform="rotate(-30 280.0 194.17)"/>
<ellipse cx="273.33" cy="197.0" rx="2.6" ry="1.1" fill="#7e776f" transform="rotate(-20 273.33 197.0)"/>
<ellipse cx="284.17" cy="201.67" rx="2.6" ry="1.1" fill="#7e776f" transform="rotate(80 284.17 201.67)"/>
<ellipse cx="291.67" cy="200.0" rx="2.6" ry="1.1" fill="#7e776f" transform="rotate(70 291.67 200.0)"/>
<ellipse cx="299.67" cy="201.67" rx="2.6" ry="1.1" fill="#7e776f" transform="rotate(80 299.67 201.67)"/>
<ellipse cx="292.5" cy="210.0" rx="2.6" ry="1.1" fill="#7e776f" transform="rotate(80 292.5 210.0)"/>
<ellipse cx="301.67" cy="210.0" rx="2.6" ry="1.1" fill="#7e776f" transform="rotate(85 301.67 210.0)"/>
<ellipse cx="278.33" cy="203.33" rx="2.6" ry="1.1" fill="#7e776f" transform="rotate(60 278.33 203.33)"/>
<path d="M306.7 175.0L306.7 206.7C308.9 207.8 313.6 211.1 320.0 213.3C326.4 215.6 340.8 218.9 345.0 220.0L345.0 175.0Z" fill="#958d84"/>
<path d="M346.7 154.2C343.3 155.0 331.9 157.1 326.7 159.0C321.4 160.9 317.9 162.9 315.0 165.8C312.1 168.8 309.7 173.1 309.2 176.7C308.7 180.3 309.5 184.0 312.0 187.5C314.5 191.0 318.4 194.5 324.2 197.5C329.9 200.5 342.9 204.0 346.7 205.3" fill="#bab2a6" stroke="#e4ded2" stroke-width="5.6"/>
<path d="M245.0 198.3C245.6 196.7 246.4 191.0 248.3 188.3C250.3 185.7 253.6 183.7 256.7 182.5C259.7 181.3 263.9 180.9 266.7 181.3C269.4 181.8 272.6 183.3 273.3 185.3C274.0 187.3 270.4 190.6 270.8 193.3C271.2 196.1 273.5 199.4 275.8 201.7C278.2 203.9 282.5 204.7 285.0 206.7C287.5 208.6 288.9 211.5 290.8 213.3C292.8 215.1 294.9 217.8 296.7 217.5C298.5 217.2 299.7 212.8 301.7 211.7C303.6 210.6 306.4 211.7 308.3 210.8C310.3 210.0 311.4 208.0 313.3 206.7C315.3 205.4 317.8 203.0 320.0 203.0C322.2 203.0 324.7 204.9 326.7 206.7C328.6 208.4 328.6 211.8 331.7 213.3C334.7 214.9 342.8 215.4 345.0 215.8L345.0 236.7L316.7 236.7C312.8 235.0 301.1 230.0 293.3 226.7C285.6 223.3 277.2 220.0 270.0 216.7C262.8 213.3 254.2 209.7 250.0 206.7C245.8 203.6 245.8 199.7 245.0 198.3Z" fill="#43281b"/>
<path d="M234.2 171.7C234.2 174.2 233.2 182.2 234.2 186.7C235.1 191.1 237.4 194.9 240.0 198.3C242.6 201.7 245.6 203.9 250.0 207.0C254.4 210.1 261.1 213.7 266.7 216.7C272.2 219.7 277.8 222.7 283.3 225.0C288.9 227.3 293.9 228.7 300.0 230.3C306.1 232.0 316.7 234.2 320.0 235.0" fill="none" stroke="#ddd6ca" stroke-width="5.2" stroke-linecap="round"/>
<path d="M242.5 195.0C242.6 193.6 245.1 186.5 248.3 183.3C251.5 180.1 257.8 176.8 261.7 175.8C265.6 174.9 269.6 176.1 271.7 177.5C273.8 178.9 275.0 183.5 274.2 184.2C273.3 184.9 269.9 181.7 266.7 181.7C263.5 181.7 258.2 182.5 255.0 184.2C251.8 185.8 249.6 189.9 247.5 191.7C245.4 193.5 242.4 196.4 242.5 195.0Z" fill="#9d968b"/>
<ellipse cx="201.3" cy="127.2" rx="20.6" ry="18.6" fill="#000"/>
<path d="M192.8 143.7C191.3 144.3 188.7 146.3 183.7 147.4C178.6 148.4 168.1 148.8 162.2 149.8C156.4 150.8 151.5 151.4 148.5 153.5C145.5 155.5 144.7 159.1 144.5 162.0C144.4 165.0 144.6 168.7 147.6 171.2C150.5 173.7 157.8 175.4 162.2 177.3C166.7 179.3 170.9 181.5 174.5 182.8C178.0 184.1 182.1 184.9 183.7 185.3C181.6 187.9 174.5 195.5 171.4 201.2C168.4 206.9 166.6 214.0 165.3 219.5C164.0 225.0 163.8 231.7 163.5 234.2L210.5 234.2C210.4 230.7 210.2 219.5 209.9 213.4C209.6 207.3 208.9 200.1 208.7 197.5C210.6 197.5 217.3 198.2 220.3 197.5C223.4 196.8 226.2 195.7 227.1 193.5C227.9 191.3 226.8 187.2 225.2 184.3C223.6 181.5 219.6 178.1 217.3 176.7C214.9 175.3 212.2 176.2 211.2 176.1C212.2 174.2 217.3 168.5 217.3 164.5C217.3 160.5 213.2 155.7 211.2 152.2C209.1 148.8 206.1 145.1 205.0 143.7Z" fill="#000"/>
<path d="M173.9 164.5C176.1 162.7 190.7 163.7 198.9 163.3C207.2 162.9 215.2 161.5 223.4 162.0C231.5 162.5 240.7 165.0 247.8 166.3C255.0 167.6 261.5 168.8 266.2 170.0C270.9 171.2 274.5 171.9 275.9 173.7C277.4 175.4 276.9 179.5 274.7 180.4C272.6 181.3 267.1 178.7 263.1 179.2C259.1 179.6 255.5 181.1 250.9 182.8C246.3 184.6 240.2 187.8 235.6 189.5C231.0 191.3 227.9 192.3 223.4 193.2C218.9 194.1 211.4 196.3 208.7 195.0C206.1 193.8 207.3 188.7 207.5 185.9C207.7 183.0 210.3 178.9 209.9 177.9C209.5 176.9 205.5 177.9 205.0 179.8C204.5 181.6 206.9 186.3 206.9 188.9C206.9 191.6 208.9 194.4 205.0 195.7C201.2 196.9 190.8 195.4 183.7 196.6C176.5 197.7 168.6 201.3 162.2 202.7C155.9 204.1 149.1 206.0 145.4 205.1C141.8 204.3 140.6 200.7 140.2 197.5C139.9 194.3 140.7 188.9 143.3 185.9C145.9 182.8 150.9 179.8 156.1 179.2C161.3 178.5 169.9 181.6 174.5 182.2C179.1 182.8 181.8 184.2 183.7 182.8C185.5 181.4 187.1 176.7 185.5 173.7C183.8 170.6 171.6 166.2 173.9 164.5Z" fill="#e4ddcf"/>
<path d="M208.7 182.8C208.9 179.5 209.7 177.6 211.2 176.7C212.6 175.8 215.0 176.0 217.3 177.3C219.5 178.6 223.1 182.0 224.6 184.7C226.1 187.3 227.2 191.1 226.4 193.2C225.7 195.4 223.1 196.9 220.3 197.5C217.6 198.1 211.9 199.3 209.9 196.9C208.0 194.4 208.5 186.2 208.7 182.8Z" fill="#000"/>
<ellipse cx="272.28" cy="172.73" rx="4" ry="2.4" fill="#000" transform="rotate(20 272.28 172.73)"/>
<path d="M263.3 175.0C263.1 174.1 268.3 172.2 270.0 172.0C271.7 171.8 272.6 171.8 273.3 173.7C274.0 175.6 274.4 182.7 274.2 183.3C273.9 184.0 273.5 178.9 271.7 177.5C269.9 176.1 263.6 175.9 263.3 175.0Z" fill="#e4ddcf"/>
<path d="M195.9 176.1C195.2 176.3 192.2 176.5 191.6 177.3C191.0 178.1 191.4 180.2 192.2 181.0C193.0 181.8 195.7 181.5 196.5 182.2C197.3 182.9 197.8 184.5 197.1 185.3C196.4 186.0 193.0 186.3 192.2 186.5" fill="none" stroke="#8b5b4c" stroke-width="1.5" stroke-linecap="round" stroke-linejoin="round"/>
<ellipse cx="202.29" cy="179.76" rx="2.6" ry="3.4" fill="none" stroke="#8b5b4c" stroke-width="1.5" transform="rotate(-15 202.29 179.76)"/>
<path d="M207.5 173.7L209.9 181.0" stroke="#8b5b4c" stroke-width="1.5" stroke-linecap="round" fill="none"/>
<path d="M213.0 168.2L216.1 175.5L222.8 171.8" stroke="#8b5b4c" stroke-width="1.5" stroke-linecap="round" stroke-linejoin="round" fill="none"/>
</g>
<clipPath id="cp2"><rect x="62.4" y="247.5" width="281.8" height="185"/></clipPath>
<g clip-path="url(#cp2)">
<rect x="62" y="247" width="283" height="186" fill="#e1f1ee"/>
<path d="M56.7 326.7C60.8 325.5 71.5 322.7 81.7 319.4C91.9 316.2 105.3 309.7 117.8 307.2C130.3 304.7 145.6 305.1 156.7 304.4C167.8 303.8 171.5 303.3 184.4 303.3C197.4 303.3 219.2 303.9 234.4 304.4C249.7 305.0 264.1 305.3 276.1 306.7C288.1 308.1 297.9 311.8 306.7 312.8C315.5 313.8 322.4 312.3 328.9 312.8C335.4 313.2 342.8 315.1 345.6 315.6L345.6 440.0L56.7 440.0Z" fill="#dbefab"/>
<path d="M62.2 434.4C63.6 431.7 66.4 423.8 70.6 417.8C74.7 411.8 79.3 405.3 87.2 398.3C95.1 391.4 106.2 382.6 117.8 376.1C129.4 369.6 141.9 363.7 156.7 359.4C171.5 355.2 190.9 351.9 206.7 350.6C222.4 349.3 238.1 350.4 251.1 351.7C264.1 352.9 275.6 354.9 284.4 358.1C293.2 361.2 297.9 365.2 303.9 370.6C309.9 375.9 314.3 382.1 320.6 390.0C326.8 397.9 337.7 410.4 341.4 417.8C345.1 425.2 342.5 431.7 342.8 434.4L62.2 434.4Z" fill="#cdb5a4"/>
<path d="M63.9 431.7C65.1 429.4 67.1 423.2 71.1 417.8C75.1 412.3 79.9 405.6 87.8 398.9C95.7 392.1 106.8 383.6 118.3 377.2C129.9 370.8 142.5 364.8 157.2 360.6C171.9 356.3 191.0 353.0 206.7 351.7C222.3 350.4 238.2 351.6 251.1 352.8C264.0 354.0 275.2 355.7 283.9 358.9C292.6 362.0 300.1 369.5 303.3 371.7" fill="none" stroke="#e2d9cc" stroke-width="2.6"/>
<path d="M71.1 434.4C72.9 431.7 77.1 423.3 81.7 417.8C86.2 412.2 90.9 407.1 98.3 401.1C105.7 395.1 115.5 387.5 126.1 381.7C136.8 375.9 148.8 370.3 162.2 366.4C175.6 362.5 191.9 359.3 206.7 358.1C221.5 356.8 238.6 357.6 251.1 358.9C263.6 360.1 273.6 362.2 281.7 365.6C289.8 368.9 293.7 373.0 299.7 378.9C305.7 384.8 312.0 391.9 317.8 401.1C323.6 410.4 331.7 428.9 334.4 434.4L71.1 434.4Z" fill="#6d5545"/>
<path d="M107.8 368.9C108.5 367.6 113.1 367.0 114.4 367.8C115.7 368.5 116.3 372.0 115.6 373.3C114.8 374.6 111.3 376.3 110.0 375.6C108.7 374.8 107.0 370.2 107.8 368.9Z" fill="#8fc46a"/>
<path d="M143.3 434.4C145.1 432.4 149.4 425.2 153.9 421.9C158.4 418.7 163.6 416.7 170.6 415.0C177.5 413.3 186.8 412.1 195.6 411.7C204.4 411.2 215.0 411.2 223.3 412.2C231.7 413.2 239.1 414.1 245.6 417.8C252.0 421.5 259.4 431.7 262.2 434.4L143.3 434.4Z" fill="#e4d9cc"/>
<path d="M152.5 434.4C154.1 433.0 157.8 428.0 162.2 425.6C166.6 423.2 172.4 421.3 178.9 420.0C185.4 418.7 193.7 418.1 201.1 417.8C208.5 417.5 216.8 417.4 223.3 418.3C229.8 419.3 235.4 420.6 240.0 423.3C244.6 426.0 249.3 432.6 251.1 434.4L152.5 434.4Z" fill="#cdb8a8"/>
<path d="M131.1 392.2C132.0 390.9 135.0 386.0 136.7 384.4C138.3 382.8 139.3 382.3 141.1 382.7C143.0 383.0 146.3 385.3 147.8 386.7C149.3 388.1 149.6 390.4 150.0 391.1" fill="none" stroke="#4a3327" stroke-width="1.1" stroke-linecap="round" stroke-linejoin="round" />
<path d="M172.2 384.4C173.1 383.7 176.2 380.6 177.8 380.0C179.4 379.4 181.1 380.9 181.8 381.1" fill="none" stroke="#4a3327" stroke-width="1.1" stroke-linecap="round" stroke-linejoin="round" />
<path d="M201.1 385.6C201.9 384.3 203.9 379.5 205.6 377.8C207.2 376.0 209.4 374.9 211.1 375.1C212.8 375.3 214.8 378.3 215.6 378.9" fill="none" stroke="#4a3327" stroke-width="1.1" stroke-linecap="round" stroke-linejoin="round" />
<path d="M91.1 413.3C92.2 412.4 95.6 408.9 97.8 407.8C100.0 406.7 102.8 405.9 104.4 406.7C106.1 407.4 107.2 411.3 107.8 412.2" fill="none" stroke="#4a3327" stroke-width="1.1" stroke-linecap="round" stroke-linejoin="round" />
<path d="M102.2 421.1C103.5 420.6 108.0 419.1 110.0 417.8C112.0 416.5 112.6 414.1 114.4 413.3C116.3 412.5 120.0 413.0 121.1 412.9" fill="none" stroke="#4a3327" stroke-width="1.1" stroke-linecap="round" stroke-linejoin="round" />
<path d="M201.1 378.9C201.7 378.0 203.0 374.6 204.4 373.3C205.9 372.1 208.4 370.8 210.0 371.6C211.6 372.3 213.3 376.7 214.0 377.8" fill="none" stroke="#4a3327" stroke-width="1.0" stroke-linecap="round" stroke-linejoin="round" />
<path d="M221.1 381.1L231.1 374.4" fill="none" stroke="#4a3327" stroke-width="1.0" stroke-linecap="round" stroke-linejoin="round" />
<path d="M220.7 384.4L231.8 377.8" fill="none" stroke="#4a3327" stroke-width="1.0" stroke-linecap="round" stroke-linejoin="round" />
<path d="M234.4 381.1L237.8 378.9" fill="none" stroke="#4a3327" stroke-width="1.0" stroke-linecap="round" stroke-linejoin="round" />
<ellipse cx="115.56" cy="401.11" rx="0.67" ry="0.67" fill="#4a3327"/>
<ellipse cx="118.22" cy="399.56" rx="0.67" ry="0.67" fill="#4a3327"/>
<ellipse cx="121.33" cy="401.11" rx="0.67" ry="0.67" fill="#4a3327"/>
<ellipse cx="123.56" cy="398.67" rx="0.67" ry="0.67" fill="#4a3327"/>
<ellipse cx="120.0" cy="402.67" rx="0.67" ry="0.67" fill="#4a3327"/>
<ellipse cx="266.67" cy="382.67" rx="0.67" ry="0.67" fill="#3f2a20"/>
<ellipse cx="270.0" cy="384.0" rx="0.67" ry="0.67" fill="#3f2a20"/>
<ellipse cx="272.67" cy="381.78" rx="0.67" ry="0.67" fill="#3f2a20"/>
<ellipse cx="258.89" cy="389.33" rx="0.67" ry="0.67" fill="#3f2a20"/>
<ellipse cx="271.11" cy="387.78" rx="0.67" ry="0.67" fill="#3f2a20"/>
<path d="M60.0 362.7C62.2 362.8 69.1 363.0 73.3 363.6C77.6 364.2 82.4 364.6 85.6 366.2C88.7 367.8 90.7 369.9 92.2 373.3C93.7 376.7 94.1 381.1 94.7 386.7C95.2 392.2 95.4 403.3 95.6 406.7" fill="none" stroke="#e5404f" stroke-width="7.4" stroke-linecap="round" stroke-linejoin="round" />
<path d="M155.1 368.9L158.9 381.1" fill="none" stroke="#c4ea96" stroke-width="2.0" stroke-linecap="round" stroke-linejoin="round" />
<path d="M164.9 357.8C164.4 361.5 161.9 376.1 161.8 380.0C161.7 383.9 164.0 380.9 164.4 381.1" fill="none" stroke="#c4ea96" stroke-width="2.4" stroke-linecap="round" stroke-linejoin="round" />
<path d="M226.7 386.7L229.6 382.7L231.3 388.9L227.8 389.8Z" fill="#c8ea8f"/>
<path d="M238.4 387.8L244.4 376.0" fill="none" stroke="#c8ea8f" stroke-width="1.8" stroke-linecap="round" stroke-linejoin="round" />
<path d="M174.4 348.4L182.7 345.6L184.4 350.7L176.0 353.3Z" fill="none" stroke="#4b8fd8" stroke-width="1.8" stroke-linejoin="round"/>
<path d="M180.0 352.2L182.2 365.6" fill="none" stroke="#4b8fd8" stroke-width="2.6" stroke-linecap="round" stroke-linejoin="round" />
<path d="M177.8 367.8C178.5 366.5 182.2 364.7 184.4 364.4C186.7 364.2 190.6 365.4 191.1 366.2C191.7 367.0 189.6 368.3 187.8 369.3C185.9 370.3 181.7 372.5 180.0 372.2C178.3 372.0 177.0 369.1 177.8 367.8Z" fill="#4b8fd8"/>
<path d="M178.9 373.3L192.2 367.8" fill="none" stroke="#2f2a2a" stroke-width="1.2" stroke-linecap="round" stroke-linejoin="round" />
<path d="M254.4 358.2C253.0 359.2 248.3 362.2 245.6 364.0C242.8 365.8 239.1 368.1 237.8 368.9" fill="none" stroke="#4b8fd8" stroke-width="3.0" stroke-linecap="round" stroke-linejoin="round" />
<path d="M234.4 368.4C235.9 367.4 240.4 366.5 242.2 367.1C244.1 367.7 245.9 370.9 245.6 372.2C245.2 373.6 241.7 374.2 240.0 375.1C238.3 376.0 236.6 378.1 235.6 377.8C234.5 377.5 233.7 374.9 233.6 373.3C233.4 371.8 233.0 369.5 234.4 368.4Z" fill="#4b8fd8"/>
<path d="M233.6 381.1L237.8 377.8" fill="none" stroke="#2f2a2a" stroke-width="1.4" stroke-linecap="round" stroke-linejoin="round" />
<ellipse cx="97.33" cy="318.89" rx="16.0" ry="17.33" fill="#000"/>
<path d="M95.6 334.4C98.4 332.8 104.0 331.6 107.8 332.2C111.6 332.9 114.7 334.3 118.2 338.2C121.7 342.1 125.4 349.3 128.9 355.6C132.3 361.8 136.1 371.0 138.9 375.6C141.7 380.1 145.2 380.9 145.6 382.7C145.9 384.4 143.5 386.2 141.1 386.2C138.7 386.2 134.3 384.8 131.1 382.7C128.0 380.5 125.0 375.6 122.2 373.3C119.4 371.0 116.1 368.1 114.4 368.9C112.8 369.6 112.6 373.3 112.4 377.8C112.3 382.2 113.0 391.6 113.3 395.6C113.7 399.6 115.0 400.2 114.4 401.8C113.9 403.3 111.9 405.2 110.0 404.9C108.1 404.6 104.9 403.0 103.3 400.0C101.7 397.0 101.3 390.4 100.4 386.7C99.6 383.0 100.0 381.0 98.2 377.8C96.5 374.5 91.6 371.2 90.0 367.1C88.4 363.0 88.3 357.5 88.4 353.3C88.6 349.2 89.5 345.4 90.7 342.2C91.9 339.1 92.7 336.1 95.6 334.4Z" fill="#000"/>
<ellipse cx="143.33" cy="335.56" rx="13.78" ry="14.44" fill="#000"/>
<path d="M141.1 347.8C143.1 346.3 147.2 346.7 150.0 346.7C152.8 346.7 155.7 346.4 157.8 347.8C159.9 349.2 161.1 351.8 162.7 355.1C164.2 358.4 166.7 364.7 167.1 367.8C167.6 370.8 166.3 373.3 165.3 373.3C164.3 373.3 162.4 370.2 161.1 367.8C159.9 365.4 159.4 360.7 157.8 358.9C156.2 357.0 153.0 355.0 151.6 356.7C150.2 358.3 149.9 365.0 149.3 368.9C148.7 372.8 148.9 377.2 148.0 380.0C147.1 382.8 145.5 385.9 144.0 385.8C142.5 385.7 140.1 382.7 139.1 379.6C138.1 376.4 137.9 370.7 137.8 366.7C137.6 362.7 137.7 358.7 138.2 355.6C138.8 352.4 139.1 349.3 141.1 347.8Z" fill="#000"/>
<ellipse cx="208.89" cy="302.22" rx="15.56" ry="16.89" fill="#000"/>
<path d="M203.3 316.7C206.3 315.0 211.7 313.9 214.4 316.7C217.2 319.4 218.4 327.2 220.0 333.3C221.6 339.4 223.4 347.6 223.8 353.3C224.1 359.1 223.3 364.7 222.0 367.8C220.7 370.8 218.1 372.1 216.2 371.6C214.3 371.0 211.7 368.2 210.4 364.4C209.2 360.7 209.4 353.7 208.7 348.9C207.9 344.1 207.1 335.6 206.0 335.6C204.9 335.6 204.0 345.2 202.2 348.9C200.5 352.6 197.5 357.0 195.6 357.8C193.6 358.5 191.2 356.3 190.4 353.3C189.7 350.4 190.1 344.4 191.1 340.0C192.1 335.6 194.6 330.6 196.7 326.7C198.7 322.8 200.4 318.3 203.3 316.7Z" fill="#000"/>
<ellipse cx="246.67" cy="321.11" rx="12.67" ry="12.22" fill="#000"/>
<path d="M240.0 331.6C242.8 330.7 248.5 330.5 251.1 332.4C253.7 334.4 254.8 339.5 255.6 343.3C256.3 347.2 256.4 352.3 255.8 355.6C255.2 358.8 253.3 362.5 251.8 362.7C250.3 362.9 248.1 359.2 246.7 356.7C245.3 354.2 244.6 348.5 243.3 347.8C242.1 347.0 240.6 350.2 239.3 352.2C238.0 354.3 237.0 358.0 235.6 360.0C234.1 362.0 231.9 364.3 230.4 364.0C229.0 363.7 227.0 361.1 226.9 358.2C226.7 355.3 228.3 350.2 229.6 346.7C230.8 343.2 232.7 339.8 234.4 337.3C236.2 334.8 237.2 332.4 240.0 331.6Z" fill="#000"/>
<ellipse cx="291.11" cy="316.67" rx="15.11" ry="16.22" fill="#000"/>
<path d="M280.0 330.0C284.8 327.8 296.6 328.0 301.1 330.0C305.7 332.0 305.9 338.0 307.3 342.2C308.7 346.5 309.3 351.1 309.6 355.6C309.8 360.0 308.1 365.7 308.9 368.9C309.7 372.0 312.0 372.6 314.4 374.4C316.8 376.3 320.8 377.2 323.3 380.0C325.8 382.8 328.6 388.1 329.6 391.1C330.5 394.1 331.4 398.9 328.9 397.8C326.4 396.7 318.3 388.1 314.4 384.4C310.6 380.7 308.9 378.1 305.6 375.6C302.2 373.0 297.4 369.7 294.4 369.3C291.5 369.0 290.9 371.5 287.8 373.3C284.6 375.2 279.0 379.5 275.6 380.4C272.2 381.4 268.8 380.1 267.3 378.9C265.8 377.7 265.6 375.3 266.7 373.3C267.8 371.4 273.3 370.1 274.0 367.1C274.7 364.1 271.2 359.5 270.9 355.6C270.6 351.6 270.7 347.6 272.2 343.3C273.7 339.1 275.2 332.2 280.0 330.0Z" fill="#000"/>
<path d="M304.4 335.6L316.7 337.1L316.7 373.3" fill="none" stroke="#000" stroke-width="3.2" stroke-linejoin="round"/>
<ellipse cx="174.44" cy="409.33" rx="12.89" ry="11.11" fill="#000"/>
<ellipse cx="188.89" cy="407.11" rx="3.11" ry="6.67" fill="#000" transform="rotate(10 188.89 407.11)"/>
<path d="M170.0 420.0C173.0 418.9 183.4 419.6 186.7 421.1C189.9 422.6 189.3 426.7 189.3 428.9C189.3 431.1 189.7 433.5 186.7 434.4C183.6 435.4 174.1 435.6 171.1 434.4C168.1 433.3 169.1 430.2 168.9 427.8C168.7 425.4 167.0 421.1 170.0 420.0Z" fill="#000"/>
<path d="M155.6 418.9L167.8 424.4" fill="none" stroke="#000" stroke-width="5.4" stroke-linecap="round" stroke-linejoin="round" />
<path d="M244.2 421.3L305.6 375.6C306.9 375.8 310.4 373.9 313.3 376.9C316.3 379.9 319.0 386.1 323.3 393.3C327.7 400.5 336.7 415.6 339.3 420.0C338.6 421.2 339.0 424.9 334.9 427.1C330.7 429.3 322.7 432.0 314.4 433.3C306.2 434.6 295.2 435.7 285.6 434.9C275.9 434.1 261.5 429.5 256.7 428.4Z" fill="#e23f50"/>
<rect x="274.0" y="406.67" width="17" height="20" rx="3" fill="#d8ebc9"/>
<text x="276.6" y="418.27000000000004" font-size="5.6" font-weight="bold" style="fill:#234a2e;stroke:none">Seed</text>
<ellipse cx="281.11" cy="401.78" rx="0.67" ry="0.67" fill="#8e2f38"/>
<ellipse cx="285.11" cy="399.11" rx="0.67" ry="0.67" fill="#8e2f38"/>
<ellipse cx="288.89" cy="402.22" rx="0.67" ry="0.67" fill="#8e2f38"/>
<ellipse cx="292.67" cy="400.0" rx="0.67" ry="0.67" fill="#8e2f38"/>
<ellipse cx="286.89" cy="403.56" rx="0.67" ry="0.67" fill="#8e2f38"/>
<path d="M264.4 410.0L266.7 420.0" fill="none" stroke="#4a86c8" stroke-width="2.4" stroke-linecap="round" stroke-linejoin="round" />
<ellipse cx="263.78" cy="409.33" rx="2.0" ry="1.78" fill="#4a86c8"/>
<ellipse cx="267.78" cy="408.89" rx="2.0" ry="1.78" fill="#4a86c8"/>
<ellipse cx="264.44" cy="420.44" rx="2.0" ry="1.78" fill="#4a86c8"/>
<ellipse cx="268.22" cy="420.0" rx="2.0" ry="1.78" fill="#4a86c8"/>
<path d="M301.6 413.3C302.7 412.3 306.1 410.9 307.8 411.1C309.5 411.3 311.4 413.1 311.8 414.4C312.1 415.7 311.2 418.0 310.0 418.9C308.8 419.8 305.9 420.3 304.4 420.0C303.0 419.7 301.6 418.4 301.1 417.3C300.6 416.2 300.4 414.4 301.6 413.3Z" fill="#4a86c8"/>
<path d="M310.0 413.3L318.9 407.1" fill="none" stroke="#4a86c8" stroke-width="2.6" stroke-linecap="round" stroke-linejoin="round" />
<ellipse cx="319.33" cy="406.67" rx="2.0" ry="2.0" fill="#4a86c8"/>
</g>
<rect x="62" y="447.5" width="281.5" height="80" fill="#e1f1ee"/>
<path d="M62.0 502.6C69.0 501.8 86.3 499.2 103.9 498.1C121.5 497.1 146.4 495.5 167.7 496.2C189.0 497.0 210.3 499.9 231.6 502.6C252.9 505.3 276.9 509.8 295.5 512.2C314.1 514.5 335.4 515.9 343.4 516.6L343.4 632.6L68.7 632.6C67.9 632.3 64.7 632.1 63.6 631.0C62.5 629.9 62.3 626.7 62.0 625.9Z" fill="#dcefab"/>
<use href="#base0" transform="translate(-323.5,386.1) scale(0.885,0.897)"/>
<path d="M88.0 550.7C89.3 546.2 91.7 546.4 95.6 546.2C99.4 546.0 106.8 547.6 111.1 549.3C115.4 551.1 119.5 550.9 121.3 556.7C123.2 562.4 123.3 579.1 122.2 584.0C121.2 588.9 116.6 587.6 115.1 585.8C113.6 584.0 114.7 578.2 113.3 573.3C111.9 568.5 109.4 560.2 106.7 556.7C103.9 553.2 99.3 552.1 96.7 552.2C94.0 552.3 91.8 553.5 90.7 557.3C89.5 561.1 90.2 572.4 89.8 575.1C89.3 577.8 88.3 577.4 88.0 573.3C87.7 569.3 86.7 555.2 88.0 550.7Z" fill="#b9d8e4"/>
<path d="M90.0 576.0L90.0 557.8C90.7 556.7 92.2 552.7 94.4 551.6C96.7 550.4 100.6 549.8 103.3 550.7C106.0 551.5 109.0 553.8 110.7 556.7C112.3 559.5 112.9 565.9 113.3 567.8L113.3 570.0Z" fill="#2f4a4c"/>
<path d="M248.2 577.8C247.7 574.7 249.0 567.8 251.1 564.4C253.3 561.1 257.2 558.7 261.1 557.8C265.0 556.9 270.7 557.8 274.4 558.9C278.1 560.0 282.6 562.8 283.3 564.4C284.1 566.1 280.2 567.4 278.9 568.9C277.6 570.4 278.2 574.3 275.6 573.3C273.0 572.4 266.7 564.1 263.3 563.3C260.0 562.6 257.0 565.7 255.6 568.9C254.1 572.1 255.7 581.2 254.4 582.7C253.2 584.2 248.8 580.8 248.2 577.8Z" fill="#b9d8e4"/>
<path d="M254.4 583.3L254.9 571.1C255.6 570.2 256.9 566.9 258.9 565.6C260.9 564.3 264.3 563.1 266.7 563.3C269.1 563.5 271.7 565.3 273.3 566.7C274.9 568.0 275.7 570.7 276.2 571.6L274.4 573.3Z" fill="#2f4a4c"/>
<path d="M305.6 584.4C307.8 578.9 320.0 576.7 323.3 580.0C326.7 583.3 327.8 598.9 325.6 604.4C323.3 610.0 313.3 616.7 310.0 613.3C306.7 610.0 303.3 590.0 305.6 584.4Z" fill="#d9a9b8" opacity="0.4"/>
<path d="M198.9 537.8C200.4 534.1 208.0 530.7 210.0 533.3C212.0 535.9 212.6 549.6 211.1 553.3C209.6 557.0 203.1 558.2 201.1 555.6C199.1 553.0 197.4 541.5 198.9 537.8Z" fill="#b56a80" opacity="0.45"/>
<path d="M79.7 532.2L91.5 511.6L88.1 532.2Z" fill="#6fbf74"/><path d="M85.3 532.2L82.0 519.8L93.6 532.2Z" fill="#6fbf74"/><path d="M90.8 532.2L100.6 513.6L99.2 532.2Z" fill="#6fbf74"/><path d="M96.4 532.2L103.4 517.7L104.7 532.2Z" fill="#6fbf74"/><path d="M101.9 532.2L107.9 514.9L110.3 532.2Z" fill="#6fbf74"/><path d="M107.5 532.2L113.0 519.1L115.8 532.2Z" fill="#6fbf74"/>
<path d="M82.0 538.2L81.1 517.0L90.1 538.2Z" fill="#8fe08c"/><path d="M87.4 538.2L89.0 516.3L95.5 538.2Z" fill="#8fe08c"/><path d="M92.8 538.2L99.2 522.8L100.9 538.2Z" fill="#8fe08c"/><path d="M98.2 538.2L93.0 513.5L106.3 538.2Z" fill="#8fe08c"/><path d="M103.6 538.2L103.1 520.7L111.7 538.2Z" fill="#8fe08c"/><path d="M109.0 538.2L122.4 517.9L117.1 538.2Z" fill="#8fe08c"/><path d="M114.4 538.2L124.8 517.8L122.5 538.2Z" fill="#8fe08c"/>
<path d="M98.7 522.2L99.2 514.3L106.7 522.2Z" fill="#6fbf74"/><path d="M104.0 522.2L106.6 514.0L112.0 522.2Z" fill="#6fbf74"/><path d="M109.3 522.2L107.5 512.5L117.3 522.2Z" fill="#6fbf74"/><path d="M114.7 522.2L124.2 510.1L122.7 522.2Z" fill="#6fbf74"/><path d="M120.0 522.2L127.5 513.6L128.0 522.2Z" fill="#6fbf74"/>
<path d="M126.3 543.3L132.4 523.7L135.0 543.3Z" fill="#6fbf74"/><path d="M132.1 543.3L140.7 521.7L140.8 543.3Z" fill="#6fbf74"/><path d="M137.9 543.3L145.7 521.9L146.6 543.3Z" fill="#6fbf74"/><path d="M143.7 543.3L141.2 526.5L152.3 543.3Z" fill="#6fbf74"/><path d="M149.4 543.3L160.2 524.6L158.1 543.3Z" fill="#6fbf74"/>
<path d="M130.0 547.8L137.2 529.4L136.7 547.8Z" fill="#8fe08c"/><path d="M134.4 547.8L137.6 534.4L141.1 547.8Z" fill="#8fe08c"/><path d="M138.9 547.8L135.6 530.8L145.6 547.8Z" fill="#8fe08c"/><path d="M143.3 547.8L146.3 529.9L150.0 547.8Z" fill="#8fe08c"/><path d="M147.8 547.8L149.4 529.9L154.4 547.8Z" fill="#8fe08c"/><path d="M152.2 547.8L152.5 529.6L158.9 547.8Z" fill="#8fe08c"/>
<path d="M154.2 553.3L155.9 536.9L162.2 553.3Z" fill="#6fbf74"/><path d="M159.6 553.3L165.6 537.8L167.6 553.3Z" fill="#6fbf74"/><path d="M164.9 553.3L169.4 534.3L172.9 553.3Z" fill="#6fbf74"/><path d="M170.2 553.3L168.3 532.6L178.2 553.3Z" fill="#6fbf74"/><path d="M175.6 553.3L173.4 533.5L183.6 553.3Z" fill="#6fbf74"/>
<path d="M158.8 556.7L159.1 537.0L166.1 556.7Z" fill="#8fe08c"/><path d="M163.7 556.7L162.8 539.3L171.0 556.7Z" fill="#8fe08c"/><path d="M168.6 556.7L167.2 543.4L175.9 556.7Z" fill="#8fe08c"/><path d="M173.4 556.7L183.2 543.8L180.8 556.7Z" fill="#8fe08c"/><path d="M178.3 556.7L183.7 541.5L185.7 556.7Z" fill="#8fe08c"/>
<path d="M181.1 562.2L184.1 546.3L187.8 562.2Z" fill="#8fe08c"/><path d="M185.6 562.2L185.7 541.3L192.2 562.2Z" fill="#8fe08c"/><path d="M190.0 562.2L188.9 545.0L196.7 562.2Z" fill="#8fe08c"/><path d="M194.4 562.2L201.3 549.2L201.1 562.2Z" fill="#8fe08c"/>
<path d="M188.9 563.3L192.7 548.5L195.6 563.3Z" fill="#8fe08c"/><path d="M193.3 563.3L197.2 550.5L200.0 563.3Z" fill="#8fe08c"/><path d="M197.8 563.3L203.2 544.9L204.4 563.3Z" fill="#8fe08c"/>
<path d="M190.2 557.8L192.7 547.1L195.7 557.8Z" fill="#6fbf74"/><path d="M193.9 557.8L199.0 547.6L199.4 557.8Z" fill="#6fbf74"/><path d="M197.6 557.8L200.4 546.9L203.2 557.8Z" fill="#6fbf74"/>
<path d="M207.6 527.8L211.1 499.6L215.1 527.8Z" fill="#6fbf74"/><path d="M212.6 527.8L218.1 507.3L220.1 527.8Z" fill="#6fbf74"/><path d="M217.6 527.8L216.5 503.8L225.1 527.8Z" fill="#6fbf74"/><path d="M222.6 527.8L224.1 497.3L230.1 527.8Z" fill="#6fbf74"/>
<path d="M217.6 531.1L218.3 512.0L225.6 531.1Z" fill="#6fbf74"/><path d="M222.9 531.1L229.3 510.4L230.9 531.1Z" fill="#6fbf74"/><path d="M228.2 531.1L228.0 516.6L236.2 531.1Z" fill="#6fbf74"/><path d="M233.6 531.1L232.8 516.6L241.6 531.1Z" fill="#6fbf74"/><path d="M238.9 531.1L246.0 517.6L246.9 531.1Z" fill="#6fbf74"/>
<path d="M226.8 532.9L226.7 521.3L232.6 532.9Z" fill="#8fe08c"/><path d="M230.7 532.9L234.8 519.9L236.5 532.9Z" fill="#8fe08c"/><path d="M234.6 532.9L235.7 524.0L240.4 532.9Z" fill="#8fe08c"/><path d="M238.5 532.9L243.2 521.6L244.3 532.9Z" fill="#8fe08c"/>
<path d="M260.7 529.3C259.6 528.7 257.7 525.4 254.4 525.6C251.2 525.7 244.4 528.1 241.1 530.0C237.8 531.9 235.0 534.9 234.4 536.7C233.9 538.4 234.1 540.2 237.8 540.4C241.5 540.7 250.9 538.8 256.7 538.2C262.4 537.6 268.7 536.2 272.2 536.7C275.7 537.2 278.1 539.4 277.8 541.1C277.4 542.8 271.5 545.0 270.0 546.7C268.5 548.3 267.4 550.1 268.9 551.1C270.4 552.1 274.6 552.8 278.9 552.9C283.1 553.0 289.3 551.9 294.4 551.6C299.6 551.2 306.3 550.0 310.0 550.7C313.7 551.3 316.1 553.8 316.7 555.6C317.2 557.3 315.9 559.4 313.3 561.1C310.7 562.8 303.1 564.8 301.1 565.6" fill="none" stroke="#7f9fd8" stroke-width="5.2" stroke-linecap="round" stroke-linejoin="round" />
<path d="M260.7 529.3C259.6 528.7 257.7 525.4 254.4 525.6C251.2 525.7 244.4 528.1 241.1 530.0C237.8 531.9 235.0 534.9 234.4 536.7C233.9 538.4 234.1 540.2 237.8 540.4C241.5 540.7 250.9 538.8 256.7 538.2C262.4 537.6 268.7 536.2 272.2 536.7C275.7 537.2 278.1 539.4 277.8 541.1C277.4 542.8 271.5 545.0 270.0 546.7C268.5 548.3 267.4 550.1 268.9 551.1C270.4 552.1 274.6 552.8 278.9 552.9C283.1 553.0 289.3 551.9 294.4 551.6C299.6 551.2 306.3 550.0 310.0 550.7C313.7 551.3 316.1 553.8 316.7 555.6C317.2 557.3 315.9 559.4 313.3 561.1C310.7 562.8 303.1 564.8 301.1 565.6" fill="none" stroke="#e0485a" stroke-width="2.0" stroke-linecap="round" stroke-linejoin="round" />
<path d="M235.6 538.2C239.1 538.7 252.0 539.7 256.7 541.1C261.3 542.5 261.5 544.6 263.3 546.7C265.2 548.8 265.2 552.2 267.8 553.8C270.4 555.3 274.4 555.9 278.9 556.0C283.3 556.1 291.8 554.9 294.4 554.7" fill="none" stroke="#e0485a" stroke-width="1.8" stroke-linecap="round" stroke-linejoin="round" />
<ellipse cx="260.67" cy="524.44" rx="0.89" ry="1.11" fill="#6fa0e0"/>
<ellipse cx="263.33" cy="527.11" rx="0.89" ry="1.11" fill="#6fa0e0"/>
<ellipse cx="264.44" cy="530.67" rx="0.89" ry="1.11" fill="#6fa0e0"/>
<ellipse cx="261.56" cy="532.44" rx="0.89" ry="1.11" fill="#6fa0e0"/>
<ellipse cx="258.44" cy="523.56" rx="0.89" ry="1.11" fill="#6fa0e0"/>
<path d="M255.7 549.3L261.1 541.9L261.3 549.3Z" fill="#8fe08c"/><path d="M259.4 549.3L263.5 541.0L265.0 549.3Z" fill="#8fe08c"/><path d="M263.1 549.3L268.6 541.9L268.7 549.3Z" fill="#8fe08c"/>
<path d="M277.6 546.7L280.4 534.8L285.4 546.7Z" fill="#6fbf74"/><path d="M282.8 546.7L286.0 535.0L290.6 546.7Z" fill="#6fbf74"/><path d="M288.0 546.7L291.1 533.5L295.7 546.7Z" fill="#6fbf74"/>
<path d="M290.1 563.3L293.2 548.1L296.0 563.3Z" fill="#8fe08c"/><path d="M294.0 563.3L300.5 552.0L299.9 563.3Z" fill="#8fe08c"/><path d="M297.9 563.3L302.9 548.9L303.8 563.3Z" fill="#8fe08c"/><path d="M301.8 563.3L306.0 553.3L307.6 563.3Z" fill="#8fe08c"/>
<path d="M304.4 577.8L305.6 566.5L311.1 577.8Z" fill="#8fe08c"/><path d="M308.9 577.8L311.1 569.3L315.6 577.8Z" fill="#8fe08c"/><path d="M313.3 577.8L316.6 567.5L320.0 577.8Z" fill="#8fe08c"/>
<path d="M281.1 585.6L285.6 571.5L287.8 585.6Z" fill="#8fe08c"/><path d="M285.6 585.6L289.0 573.4L292.2 585.6Z" fill="#8fe08c"/><path d="M290.0 585.6L292.6 570.0L296.7 585.6Z" fill="#8fe08c"/>
<path d="M315.4 566.7L322.4 557.1L323.1 566.7Z" fill="#8fe08c"/><path d="M320.6 566.7L326.5 556.0L328.3 566.7Z" fill="#8fe08c"/><path d="M325.7 566.7L327.8 557.4L333.5 566.7Z" fill="#8fe08c"/>
<path d="M292.7 572.2C294.1 570.6 299.5 568.7 301.1 570.0C302.7 571.3 303.0 577.7 302.2 580.0C301.5 582.3 298.3 584.0 296.7 584.0C295.1 584.0 293.3 582.0 292.7 580.0C292.0 578.0 291.3 573.9 292.7 572.2Z" fill="#e8424f"/>
<path d="M287.8 567.1C288.2 565.6 291.2 563.6 292.7 563.3C294.2 563.1 295.1 565.4 296.7 565.6C298.3 565.7 300.9 563.5 302.2 564.0C303.5 564.5 304.6 567.1 304.4 568.4C304.3 569.8 302.8 571.3 301.1 572.2C299.4 573.1 296.3 573.8 294.4 573.8C292.6 573.8 291.1 573.3 290.0 572.2C288.9 571.1 287.3 568.6 287.8 567.1Z" fill="#ecd84c"/>
<path d="M42.2 525.6L44.9 540.0L46.7 532.2L50.0 538.2" fill="none" stroke="#8fe08c" stroke-width="1.8" stroke-linejoin="round"/>
<ellipse cx="71.11" cy="503.33" rx="9.33" ry="9.33" fill="#000"/>
<path d="M62.2 511.1C65.9 508.9 72.4 509.8 75.6 511.1C78.7 512.4 79.4 516.7 81.1 518.9C82.8 521.1 85.2 523.0 85.6 524.4C85.9 525.9 85.0 527.8 83.3 527.8C81.7 527.8 77.2 523.1 75.6 524.4C73.9 525.7 73.0 531.5 73.3 535.6C73.7 539.6 76.3 545.9 77.8 548.9C79.3 551.9 81.8 551.5 82.2 553.3C82.6 555.2 81.9 559.1 80.0 560.0C78.1 560.9 73.3 561.1 71.1 558.9C68.9 556.7 69.3 549.1 66.7 546.7C64.1 544.3 58.2 545.9 55.6 544.4C53.0 543.0 51.5 541.1 51.1 537.8C50.7 534.4 51.5 528.9 53.3 524.4C55.2 520.0 58.5 513.3 62.2 511.1Z" fill="#000"/>
<circle cx="55.56" cy="556.0" r="12.2" fill="#000"/>
<circle cx="56.89" cy="554.67" r="8.6" fill="none" stroke="#2a2a2a" stroke-width="0.8"/>
<ellipse cx="111.56" cy="483.33" rx="8.0" ry="7.56" fill="#000"/>
<path d="M106.7 490.2C108.9 490.0 114.2 489.3 116.7 490.2C119.2 491.1 120.4 493.6 121.8 495.6C123.2 497.5 124.7 500.5 124.9 501.8C125.0 503.0 123.8 503.6 122.7 503.1C121.6 502.6 119.1 498.7 118.2 498.7C117.3 498.7 119.4 502.4 117.3 503.1C115.3 503.9 107.9 503.9 105.8 503.1C103.7 502.3 105.6 498.4 104.9 498.2C104.2 498.0 102.7 501.5 101.8 501.8C100.8 502.1 99.5 501.1 99.1 500.0C98.7 498.9 98.9 496.5 99.6 495.1C100.2 493.7 101.9 492.4 103.1 491.6C104.3 490.7 104.4 490.4 106.7 490.2Z" fill="#000"/>
<ellipse cx="142.22" cy="494.44" rx="6.22" ry="6.22" fill="#000"/>
<path d="M138.9 500.4C140.6 499.0 143.8 497.9 145.6 500.4C147.3 503.0 151.0 512.9 149.3 515.6C147.7 518.3 137.9 517.8 135.6 516.7C133.2 515.6 134.6 511.6 135.1 508.9C135.7 506.2 137.1 501.8 138.9 500.4Z" fill="#000"/>
<ellipse cx="200.67" cy="496.0" rx="7.56" ry="7.56" fill="#000"/>
<path d="M195.6 503.3C197.8 502.4 202.6 502.2 204.4 503.3C206.3 504.4 205.6 508.3 206.7 510.0C207.8 511.7 210.7 512.2 211.1 513.3C211.5 514.4 210.2 516.3 208.9 516.7C207.6 517.0 204.8 514.6 203.3 515.6C201.8 516.5 201.1 520.0 200.0 522.2C198.9 524.4 198.2 527.8 196.7 528.9C195.2 530.0 192.2 530.7 191.1 528.9C190.0 527.0 190.0 521.1 190.0 517.8C190.0 514.4 190.2 511.3 191.1 508.9C192.0 506.5 193.3 504.3 195.6 503.3Z" fill="#000"/>
<ellipse cx="225.56" cy="536.67" rx="6.67" ry="6.67" fill="#000"/>
<path d="M221.1 543.3C223.1 542.4 229.0 542.8 231.1 543.3C233.2 543.9 233.7 545.0 233.6 546.7C233.4 548.3 230.7 549.6 230.0 553.3C229.3 557.0 229.9 565.1 229.6 568.9C229.2 572.7 228.8 574.9 227.8 576.0C226.7 577.1 224.1 576.9 223.3 575.6C222.5 574.2 223.3 568.0 222.9 567.8C222.4 567.6 221.8 573.5 220.7 574.4C219.6 575.4 216.7 575.7 216.2 573.3C215.7 570.9 217.3 564.1 217.8 560.0C218.2 555.9 218.3 551.7 218.9 548.9C219.4 546.1 219.1 544.3 221.1 543.3Z" fill="#000"/>
<ellipse cx="241.56" cy="550.67" rx="7.56" ry="7.56" fill="#000"/>
<path d="M235.6 557.8C237.9 555.9 245.9 559.2 248.2 557.3C250.6 555.5 249.1 548.1 249.6 546.7C250.0 545.3 251.1 546.7 251.1 548.9C251.1 551.1 250.2 555.9 249.6 560.0C248.9 564.1 247.8 569.6 247.3 573.3C246.9 577.1 247.7 581.1 246.9 582.7C246.1 584.2 243.4 584.2 242.4 582.7C241.5 581.1 241.6 573.6 241.1 573.3C240.6 573.1 240.4 580.0 239.3 581.1C238.2 582.2 235.3 582.0 234.4 580.0C233.6 578.0 234.3 572.6 234.4 568.9C234.6 565.2 233.3 559.7 235.6 557.8Z" fill="#000"/>
<path d="M97.3 565.6C98.6 563.7 102.0 561.5 104.4 561.1C106.9 560.7 110.7 561.7 112.2 563.3C113.7 565.0 113.5 568.7 113.3 571.1C113.1 573.5 111.9 575.7 111.1 577.8C110.3 579.8 109.4 582.8 108.4 583.3C107.5 583.9 106.2 582.4 105.6 581.1C104.9 579.8 105.1 575.7 104.4 575.6C103.8 575.4 102.8 579.4 101.8 580.0C100.7 580.6 99.0 580.2 98.2 578.9C97.4 577.6 97.0 574.4 96.9 572.2C96.7 570.0 96.1 567.4 97.3 565.6Z" fill="#000"/>
<ellipse cx="277.78" cy="602.22" rx="9.33" ry="9.33" fill="#000"/>
<path d="M272.2 611.1C274.8 609.3 280.2 609.3 283.3 611.1C286.5 613.0 289.4 618.9 291.1 622.2C292.8 625.6 293.7 628.9 293.6 631.1C293.4 633.3 291.0 634.3 290.0 635.6C289.0 636.9 291.1 638.3 287.8 638.9C284.4 639.4 273.5 639.4 270.0 638.9C266.5 638.3 267.4 636.9 266.7 635.6C265.9 634.3 265.4 633.3 265.6 631.1C265.7 628.9 266.7 625.6 267.8 622.2C268.9 618.9 269.6 613.0 272.2 611.1Z" fill="#000"/>
<ellipse cx="327.78" cy="533.78" rx="8.89" ry="8.89" fill="#000"/>
<path d="M332.2 541.1C335.6 540.4 340.7 543.5 343.3 546.7C346.0 549.8 347.5 552.6 348.2 560.0C349.0 567.4 348.6 584.8 347.8 591.1C347.0 597.4 345.0 594.1 343.3 597.8C341.7 601.5 338.9 607.0 337.8 613.3C336.7 619.6 337.6 631.4 336.7 635.6C335.7 639.7 333.3 640.4 332.2 638.2C331.2 636.0 331.0 622.2 330.4 622.2C329.9 622.2 329.9 635.8 328.9 638.2C327.9 640.6 325.4 640.8 324.4 636.7C323.5 632.5 323.2 620.9 323.3 613.3C323.4 605.7 324.4 597.0 325.1 591.1C325.9 585.2 328.1 581.5 327.8 577.8C327.5 574.1 325.6 570.9 323.3 568.9C321.1 566.9 316.2 566.7 314.4 565.6C312.7 564.4 311.9 563.0 312.7 562.2C313.4 561.5 316.7 562.2 318.9 561.1C321.0 560.0 324.8 557.2 325.6 555.6C326.3 553.9 322.2 553.5 323.3 551.1C324.4 548.7 328.9 541.9 332.2 541.1Z" fill="#000"/>
<ellipse cx="331.33" cy="568.89" rx="6.67" ry="7.56" fill="#000"/>
<path d="M341.1 604.4L343.3 601.1L337.8 617.8" fill="none" stroke="#6fbf74" stroke-width="2" stroke-linecap="round"/>
<clipPath id="cpt"><rect x="900" y="47.3" width="340" height="300"/></clipPath>
<path d="M1034.8 145.2C1035.2 142.8 1036.2 131.1 1037.1 130.6C1038.0 130.2 1039.0 141.0 1040.0 142.3C1041.1 143.6 1042.5 137.5 1043.5 138.5C1044.5 139.5 1044.9 147.5 1045.8 148.1C1046.8 148.8 1048.6 142.0 1049.3 142.3C1050.1 142.7 1050.3 148.9 1050.5 150.2" fill="none" stroke="#8ee48f" stroke-width="1.8" stroke-linecap="round" stroke-linejoin="round" />
<path d="M1041.8 154.0C1042.4 154.7 1044.0 158.6 1045.3 158.3C1046.5 158.1 1048.7 153.5 1049.3 152.5" fill="none" stroke="#8ee48f" stroke-width="1.8" stroke-linecap="round" stroke-linejoin="round" />
<path d="M1051.7 160.7L1054.0 162.7" fill="none" stroke="#8ee48f" stroke-width="1.6" stroke-linecap="round" stroke-linejoin="round" />
<g clip-path="url(#cpt)">
<path d="M946.7 41.7C925.5 44.1 935.8 51.4 932.1 56.2C928.4 61.1 925.0 66.4 924.5 70.8C924.0 75.3 926.0 79.5 929.2 83.1C932.4 86.7 936.5 90.2 943.8 92.4C951.1 94.7 964.2 96.5 972.9 96.5C981.7 96.6 989.0 94.3 996.3 92.7C1003.6 91.1 1009.9 90.0 1016.7 86.9C1023.5 83.7 1031.7 78.4 1037.1 73.8C1042.5 69.1 1045.7 64.5 1049.3 59.2C1053.0 53.8 1076.1 44.6 1059.0 41.7C1041.9 38.8 967.8 39.2 946.7 41.7Z" fill="#3eba5c"/>
<path d="M1075.0 41.7C1058.0 43.7 1086.7 51.0 1092.5 53.9C1098.4 56.8 1102.3 57.3 1110.0 59.2C1117.8 61.0 1132.9 63.5 1139.2 65.0C1145.5 66.5 1143.1 67.9 1148.0 68.2C1152.8 68.5 1162.5 68.3 1168.4 66.8C1174.2 65.2 1178.9 62.3 1183.0 59.2C1187.0 56.1 1190.6 51.0 1192.6 48.1C1194.5 45.2 1214.2 42.7 1194.6 41.7C1175.0 40.6 1092.0 39.6 1075.0 41.7Z" fill="#3eba5c"/>
<path d="M1110.0 102.9C1108.5 99.0 1108.5 93.4 1112.4 89.8C1116.2 86.2 1126.0 82.8 1133.4 81.3C1140.8 79.8 1150.5 79.7 1156.7 80.8C1162.9 81.8 1168.0 84.6 1170.7 87.8C1173.4 91.0 1174.4 96.5 1173.0 100.0C1171.7 103.5 1167.7 106.5 1162.5 108.8C1157.4 111.0 1148.9 112.7 1142.1 113.4C1135.3 114.2 1127.0 114.9 1121.7 113.1C1116.4 111.4 1111.6 106.8 1110.0 102.9Z" fill="#3eba5c"/>
<path d="M1048.2 219.0C1049.3 214.7 1052.8 203.0 1054.6 193.3C1056.4 183.7 1058.2 171.5 1059.3 161.3C1060.3 151.1 1061.0 139.4 1061.0 132.1C1061.0 124.8 1059.6 119.9 1059.3 117.5C1058.0 114.7 1055.4 105.5 1051.7 100.6C1048.0 95.7 1042.1 91.1 1037.1 88.3C1032.1 85.6 1024.5 84.9 1021.9 84.3C1024.5 83.0 1032.6 79.9 1037.1 76.7C1041.6 73.5 1045.6 69.9 1048.8 65.0C1051.9 60.1 1054.8 50.4 1056.1 47.5C1059.2 48.4 1069.4 51.5 1075.0 52.8C1080.6 54.0 1084.7 53.8 1089.6 55.1C1094.5 56.4 1101.8 59.5 1104.2 60.3C1109.1 60.3 1124.5 60.7 1133.4 60.3C1142.2 60.0 1153.3 58.6 1157.3 58.3C1153.3 59.5 1141.0 63.5 1133.4 65.6C1125.7 67.7 1115.1 70.0 1111.5 70.8C1110.9 72.1 1108.3 75.5 1107.7 78.1C1107.1 80.8 1107.7 85.4 1107.7 86.9C1109.1 87.4 1111.6 89.7 1115.9 89.8C1120.1 89.9 1126.4 88.4 1133.4 87.8C1140.4 87.1 1153.8 86.3 1157.9 86.0C1153.8 87.0 1139.4 90.5 1133.4 91.8C1127.3 93.2 1125.1 92.8 1121.7 94.2C1118.3 95.5 1114.4 99.0 1112.9 100.0C1111.5 102.0 1106.2 106.8 1104.2 111.7C1102.1 116.5 1101.5 122.4 1100.7 129.2C1099.9 136.0 1099.4 143.8 1099.5 152.5C1099.6 161.3 1100.4 171.0 1101.3 181.7C1102.2 192.4 1104.2 210.9 1104.8 216.7C1102.7 217.8 1097.5 221.7 1092.5 223.1C1087.6 224.5 1080.9 225.0 1075.0 224.9C1069.2 224.8 1060.4 222.9 1057.5 222.5Z" fill="#75421f"/>
<path d="M1061.0 122.8C1059.5 121.6 1054.7 118.3 1051.7 116.0C1048.7 113.8 1046.8 110.3 1042.9 109.3C1039.0 108.4 1030.8 110.3 1028.3 110.5" fill="none" stroke="#75421f" stroke-width="2.6" stroke-linecap="round" stroke-linejoin="round" />
<path d="M1042.9 109.3C1042.0 108.5 1039.0 105.6 1037.1 104.4C1035.2 103.1 1032.2 102.2 1031.3 101.8" fill="none" stroke="#75421f" stroke-width="2.0" stroke-linecap="round" stroke-linejoin="round" />
<path d="M1051.7 115.2L1047.3 106.4" fill="none" stroke="#75421f" stroke-width="2.0" stroke-linecap="round" stroke-linejoin="round" />
<path d="M1084.4 84.0C1085.1 81.1 1089.7 81.1 1091.1 82.5C1092.4 84.0 1093.3 89.8 1092.5 92.7C1091.8 95.6 1088.1 101.5 1086.7 100.0C1085.3 98.6 1083.6 86.9 1084.4 84.0Z" fill="#663819"/>
<path d="M1062.2 163.6C1062.8 161.4 1065.5 160.7 1066.3 162.7C1067.0 164.8 1067.4 173.7 1066.9 175.8C1066.3 178.0 1063.5 177.9 1062.8 175.8C1062.0 173.8 1061.6 165.8 1062.2 163.6Z" fill="#663819"/>
<path d="M935.0 68.5C936.0 68.2 938.9 66.7 940.8 66.5C942.8 66.3 945.7 67.2 946.7 67.3" fill="none" stroke="#90e49a" stroke-width="3.0" stroke-linecap="round" stroke-linejoin="round" /><path d="M941.4 64.4L943.8 70.3" fill="none" stroke="#90e49a" stroke-width="3.0" stroke-linecap="round" stroke-linejoin="round" /><path d="M980.2 59.2C981.4 58.9 985.4 56.8 987.5 57.7C989.6 58.6 991.9 63.3 992.8 64.4" fill="none" stroke="#90e49a" stroke-width="3.0" stroke-linecap="round" stroke-linejoin="round" /><path d="M984.6 56.2L986.9 66.5" fill="none" stroke="#90e49a" stroke-width="3.0" stroke-linecap="round" stroke-linejoin="round" /><path d="M1012.3 69.4C1013.3 69.0 1016.5 66.6 1018.1 67.3C1019.7 68.1 1021.3 72.7 1021.9 73.8" fill="none" stroke="#90e49a" stroke-width="3.0" stroke-linecap="round" stroke-linejoin="round" /><path d="M946.7 91.8C948.6 91.0 954.5 88.2 958.3 86.9C962.2 85.6 967.6 83.7 970.0 84.0C972.4 84.2 972.4 87.6 972.9 88.3" fill="none" stroke="#90e49a" stroke-width="3.0" stroke-linecap="round" stroke-linejoin="round" /><path d="M961.3 88.3C962.0 89.6 963.1 94.6 965.6 95.6C968.2 96.7 974.6 94.9 976.4 94.8" fill="none" stroke="#90e49a" stroke-width="3.0" stroke-linecap="round" stroke-linejoin="round" /><path d="M1019.6 49.8C1021.1 49.5 1025.9 48.0 1028.3 48.1C1030.8 48.2 1033.2 50.0 1034.2 50.4" fill="none" stroke="#90e49a" stroke-width="3.0" stroke-linecap="round" stroke-linejoin="round" /><path d="M1089.6 53.9C1090.6 53.7 1094.0 52.3 1095.4 52.8C1096.9 53.2 1097.9 56.2 1098.4 56.8" fill="none" stroke="#90e49a" stroke-width="3.0" stroke-linecap="round" stroke-linejoin="round" /><path d="M1110.0 56.2L1115.9 53.3" fill="none" stroke="#90e49a" stroke-width="3.0" stroke-linecap="round" stroke-linejoin="round" /><path d="M1120.2 51.9L1123.2 56.2" fill="none" stroke="#90e49a" stroke-width="3.0" stroke-linecap="round" stroke-linejoin="round" /><path d="M1158.2 57.7C1159.6 56.9 1164.2 54.1 1166.9 52.8C1169.6 51.4 1172.3 49.7 1174.2 49.8C1176.1 49.9 1177.8 52.8 1178.6 53.3" fill="none" stroke="#90e49a" stroke-width="3.0" stroke-linecap="round" stroke-linejoin="round" /><path d="M1164.0 56.2L1171.3 56.8" fill="none" stroke="#90e49a" stroke-width="3.0" stroke-linecap="round" stroke-linejoin="round" /><path d="M1131.9 89.8C1132.7 90.6 1135.1 94.8 1136.9 94.8C1138.7 94.8 1141.7 90.6 1142.7 89.8" fill="none" stroke="#90e49a" stroke-width="3.0" stroke-linecap="round" stroke-linejoin="round" /><path d="M1149.4 95.6L1151.5 101.5" fill="none" stroke="#90e49a" stroke-width="3.0" stroke-linecap="round" stroke-linejoin="round" /><path d="M1119.4 106.4C1120.5 106.1 1124.0 103.9 1126.1 104.4C1128.2 104.9 1130.9 108.5 1131.9 109.3" fill="none" stroke="#90e49a" stroke-width="3.0" stroke-linecap="round" stroke-linejoin="round" /><path d="M1160.2 82.5C1161.3 82.1 1165.5 79.3 1166.9 80.2C1168.3 81.0 1168.1 86.5 1168.4 87.8" fill="none" stroke="#90e49a" stroke-width="3.0" stroke-linecap="round" stroke-linejoin="round" />
</g>
<path d="M852.5 144.4C853.4 144.7 856.1 146.4 858.1 146.2C860.2 146.1 864.1 145.2 864.7 143.4C865.3 141.7 861.7 138.1 861.9 135.9C862.0 133.8 863.9 131.6 865.6 130.3C867.3 129.1 870.5 127.8 872.2 128.4C873.9 129.1 875.6 132.0 875.9 134.1C876.3 136.1 873.6 138.9 874.1 140.6C874.5 142.3 876.7 143.9 878.8 144.4C880.8 144.8 883.8 144.1 886.2 143.4C888.8 142.8 892.8 142.0 893.8 140.6C894.7 139.2 892.2 135.9 891.9 135.0" fill="none" stroke="#8ee48f" stroke-width="1.875" stroke-linecap="round" stroke-linejoin="round" /><ellipse cx="853.3" cy="145.0" rx="2.64" ry="1.61" fill="#8ee48f" transform="rotate(24 853.3 145.0)"/><ellipse cx="858.1" cy="146.1" rx="2.64" ry="1.61" fill="#8ee48f" transform="rotate(46 858.1 146.1)"/><ellipse cx="865.4" cy="142.5" rx="2.64" ry="1.61" fill="#8ee48f" transform="rotate(117 865.4 142.5)"/><ellipse cx="862.7" cy="135.8" rx="2.64" ry="1.61" fill="#8ee48f" transform="rotate(5 862.7 135.8)"/><ellipse cx="864.4" cy="130.2" rx="2.64" ry="1.61" fill="#8ee48f" transform="rotate(137 864.4 130.2)"/><ellipse cx="871.5" cy="129.5" rx="2.64" ry="1.61" fill="#8ee48f" transform="rotate(130 871.5 129.5)"/><ellipse cx="874.8" cy="132.9" rx="2.64" ry="1.61" fill="#8ee48f" transform="rotate(162 874.8 132.9)"/><ellipse cx="875.1" cy="140.3" rx="2.64" ry="1.61" fill="#8ee48f" transform="rotate(97 875.1 140.3)"/><ellipse cx="878.6" cy="143.2" rx="2.64" ry="1.61" fill="#8ee48f" transform="rotate(39 878.6 143.2)"/><ellipse cx="886.1" cy="143.4" rx="2.64" ry="1.61" fill="#8ee48f" transform="rotate(40 886.1 143.4)"/><ellipse cx="893.1" cy="139.9" rx="2.64" ry="1.61" fill="#8ee48f" transform="rotate(42 893.1 139.9)"/><ellipse cx="891.4" cy="133.9" rx="2.64" ry="1.61" fill="#8ee48f" transform="rotate(83 891.4 133.9)"/>
<path d="M883.4 120.0C884.2 119.2 886.2 116.6 888.1 115.3C890.0 114.1 892.7 112.0 894.7 112.5C896.7 113.0 898.6 116.4 900.3 118.1C902.0 119.8 903.3 121.4 905.0 122.8C906.7 124.2 908.4 125.3 910.6 126.6C912.8 127.8 915.6 129.8 918.1 130.3C920.6 130.8 924.0 128.7 925.6 129.8C927.2 130.8 928.2 134.6 927.9 136.9C927.6 139.2 925.4 141.6 923.8 143.4C922.1 145.3 919.8 146.6 918.1 148.1C916.4 149.7 914.4 150.8 913.4 152.8C912.5 154.8 911.9 158.1 912.5 160.3C913.1 162.5 915.3 164.8 917.2 165.9C919.1 167.0 922.7 166.7 923.8 166.9" fill="none" stroke="#8ee48f" stroke-width="1.875" stroke-linecap="round" stroke-linejoin="round" /><ellipse cx="884.5" cy="118.9" rx="2.64" ry="1.61" fill="#8ee48f" transform="rotate(172 884.5 118.9)"/><ellipse cx="888.9" cy="115.9" rx="2.64" ry="1.61" fill="#8ee48f" transform="rotate(15 888.9 115.9)"/><ellipse cx="894.2" cy="112.8" rx="2.64" ry="1.61" fill="#8ee48f" transform="rotate(121 894.2 112.8)"/><ellipse cx="900.5" cy="117.3" rx="2.64" ry="1.61" fill="#8ee48f" transform="rotate(109 900.5 117.3)"/><ellipse cx="904.7" cy="123.3" rx="2.64" ry="1.61" fill="#8ee48f" transform="rotate(78 904.7 123.3)"/><ellipse cx="911.7" cy="126.7" rx="2.64" ry="1.61" fill="#8ee48f" transform="rotate(179 911.7 126.7)"/><ellipse cx="917.6" cy="129.2" rx="2.64" ry="1.61" fill="#8ee48f" transform="rotate(80 917.6 129.2)"/><ellipse cx="925.5" cy="129.3" rx="2.64" ry="1.61" fill="#8ee48f" transform="rotate(5 925.5 129.3)"/><ellipse cx="928.8" cy="136.9" rx="2.64" ry="1.61" fill="#8ee48f" transform="rotate(68 928.8 136.9)"/><ellipse cx="923.1" cy="142.3" rx="2.64" ry="1.61" fill="#8ee48f" transform="rotate(101 923.1 142.3)"/><ellipse cx="917.2" cy="148.1" rx="2.64" ry="1.61" fill="#8ee48f" transform="rotate(59 917.2 148.1)"/><ellipse cx="913.9" cy="152.0" rx="2.64" ry="1.61" fill="#8ee48f" transform="rotate(180 913.9 152.0)"/><ellipse cx="913.2" cy="160.9" rx="2.64" ry="1.61" fill="#8ee48f" transform="rotate(161 913.2 160.9)"/><ellipse cx="917.8" cy="166.6" rx="2.64" ry="1.61" fill="#8ee48f" transform="rotate(163 917.8 166.6)"/><ellipse cx="924.9" cy="168.0" rx="2.64" ry="1.61" fill="#8ee48f" transform="rotate(64 924.9 168.0)"/>
<path d="M862.8 148.1C863.6 148.5 866.2 150.7 867.5 150.4C868.8 150.1 869.8 146.9 870.3 146.2" fill="none" stroke="#8ee48f" stroke-width="1.75" stroke-linecap="round" stroke-linejoin="round" /><ellipse cx="862.9" cy="147.8" rx="2.53" ry="1.54" fill="#8ee48f" transform="rotate(43 862.9 147.8)"/><ellipse cx="867.8" cy="149.3" rx="2.53" ry="1.54" fill="#8ee48f" transform="rotate(109 867.8 149.3)"/><ellipse cx="871.1" cy="145.7" rx="2.53" ry="1.54" fill="#8ee48f" transform="rotate(2 871.1 145.7)"/>
<path d="M898.4 148.1C898.7 150.9 899.1 163.9 899.8 165.0C900.4 166.1 901.3 155.2 902.2 154.7C903.1 154.2 904.2 161.9 905.0 162.2C905.8 162.5 906.3 156.9 907.2 156.6C908.2 156.2 909.6 160.5 910.6 160.3C911.7 160.2 913.0 156.4 913.4 155.6" fill="none" stroke="#4fd06b" stroke-width="2.0" stroke-linecap="round" stroke-linejoin="round" />
<path d="M910.6 151.9C911.2 152.3 913.1 154.7 914.4 154.7C915.6 154.7 917.2 153.3 918.1 151.9C919.1 150.5 919.1 148.0 920.0 146.2C920.9 144.5 923.1 142.3 923.8 141.6" fill="none" stroke="#8ee48f" stroke-width="1.75" stroke-linecap="round" stroke-linejoin="round" /><ellipse cx="909.7" cy="151.6" rx="2.53" ry="1.54" fill="#8ee48f" transform="rotate(42 909.7 151.6)"/><ellipse cx="913.3" cy="154.5" rx="2.53" ry="1.54" fill="#8ee48f" transform="rotate(28 913.3 154.5)"/><ellipse cx="918.8" cy="152.5" rx="2.53" ry="1.54" fill="#8ee48f" transform="rotate(165 918.8 152.5)"/><ellipse cx="920.1" cy="145.7" rx="2.53" ry="1.54" fill="#8ee48f" transform="rotate(40 920.1 145.7)"/><ellipse cx="922.8" cy="140.9" rx="2.53" ry="1.54" fill="#8ee48f" transform="rotate(31 922.8 140.9)"/>
<path d="M937.8 170.6C937.3 171.9 935.9 175.3 935.0 178.1C934.1 180.9 932.5 184.4 932.2 187.5C931.9 190.6 933.3 193.8 933.1 196.9C933.0 200.0 930.9 204.1 931.2 206.2C931.6 208.4 934.4 209.4 935.0 210.0" fill="none" stroke="#5fc978" stroke-width="2.0" stroke-linecap="round" stroke-linejoin="round" /><ellipse cx="938.4" cy="171.3" rx="2.99" ry="1.82" fill="#5fc978" transform="rotate(112 938.4 171.3)"/><ellipse cx="935.6" cy="179.1" rx="2.99" ry="1.82" fill="#5fc978" transform="rotate(170 935.6 179.1)"/><ellipse cx="932.1" cy="188.6" rx="2.99" ry="1.82" fill="#5fc978" transform="rotate(5 932.1 188.6)"/><ellipse cx="934.1" cy="196.0" rx="2.99" ry="1.82" fill="#5fc978" transform="rotate(117 934.1 196.0)"/><ellipse cx="930.6" cy="206.4" rx="2.99" ry="1.82" fill="#5fc978" transform="rotate(84 930.6 206.4)"/><ellipse cx="933.8" cy="209.3" rx="2.99" ry="1.82" fill="#5fc978" transform="rotate(103 933.8 209.3)"/>
<path d="M942.5 172.5C942.2 174.1 940.6 178.8 940.6 181.9C940.6 185.0 942.7 188.1 942.5 191.2C942.3 194.4 939.7 197.8 939.7 200.6C939.7 203.4 942.0 206.9 942.5 208.1" fill="none" stroke="#8ee48f" stroke-width="2.0" stroke-linecap="round" stroke-linejoin="round" /><ellipse cx="943.3" cy="172.5" rx="2.99" ry="1.82" fill="#8ee48f" transform="rotate(143 943.3 172.5)"/><ellipse cx="939.4" cy="182.3" rx="2.99" ry="1.82" fill="#8ee48f" transform="rotate(47 939.4 182.3)"/><ellipse cx="943.1" cy="190.9" rx="2.99" ry="1.82" fill="#8ee48f" transform="rotate(85 943.1 190.9)"/><ellipse cx="939.1" cy="201.3" rx="2.99" ry="1.82" fill="#8ee48f" transform="rotate(139 939.1 201.3)"/><ellipse cx="942.3" cy="208.2" rx="2.99" ry="1.82" fill="#8ee48f" transform="rotate(131 942.3 208.2)"/>
<path d="M950.0 174.4C949.5 175.9 947.2 180.8 947.2 183.8C947.2 186.7 950.0 189.1 950.0 192.2C950.0 195.3 947.2 200.0 947.2 202.5C947.2 205.0 949.5 206.4 950.0 207.2" fill="none" stroke="#5fc978" stroke-width="1.875" stroke-linecap="round" stroke-linejoin="round" /><ellipse cx="949.2" cy="174.7" rx="2.88" ry="1.75" fill="#5fc978" transform="rotate(58 949.2 174.7)"/><ellipse cx="947.3" cy="183.4" rx="2.88" ry="1.75" fill="#5fc978" transform="rotate(13 947.3 183.4)"/><ellipse cx="950.0" cy="191.1" rx="2.88" ry="1.75" fill="#5fc978" transform="rotate(10 950.0 191.1)"/><ellipse cx="946.2" cy="201.5" rx="2.88" ry="1.75" fill="#5fc978" transform="rotate(78 946.2 201.5)"/><ellipse cx="950.8" cy="206.3" rx="2.88" ry="1.75" fill="#5fc978" transform="rotate(76 950.8 206.3)"/>
<path d="M953.8 178.1C954.1 179.7 955.8 184.7 955.6 187.5C955.5 190.3 952.7 192.5 952.8 195.0C953.0 197.5 955.9 201.2 956.6 202.5" fill="none" stroke="#8ee48f" stroke-width="1.875" stroke-linecap="round" stroke-linejoin="round" /><ellipse cx="954.9" cy="177.2" rx="2.88" ry="1.75" fill="#8ee48f" transform="rotate(41 954.9 177.2)"/><ellipse cx="954.6" cy="186.9" rx="2.88" ry="1.75" fill="#8ee48f" transform="rotate(127 954.6 186.9)"/><ellipse cx="952.1" cy="195.3" rx="2.88" ry="1.75" fill="#8ee48f" transform="rotate(180 952.1 195.3)"/><ellipse cx="956.4" cy="202.5" rx="2.88" ry="1.75" fill="#8ee48f" transform="rotate(83 956.4 202.5)"/>
<path d="M935.0 172.5C936.2 172.0 939.7 169.4 942.5 169.7C945.3 170.0 948.8 173.3 951.9 174.4C955.0 175.5 958.4 175.3 961.2 176.2C964.1 177.2 967.5 179.4 968.8 180.0" fill="none" stroke="#8ee48f" stroke-width="1.875" stroke-linecap="round" stroke-linejoin="round" /><ellipse cx="934.7" cy="171.6" rx="2.76" ry="1.68" fill="#8ee48f" transform="rotate(83 934.7 171.6)"/><ellipse cx="941.3" cy="169.7" rx="2.76" ry="1.68" fill="#8ee48f" transform="rotate(156 941.3 169.7)"/><ellipse cx="950.9" cy="174.5" rx="2.76" ry="1.68" fill="#8ee48f" transform="rotate(162 950.9 174.5)"/><ellipse cx="960.1" cy="176.0" rx="2.76" ry="1.68" fill="#8ee48f" transform="rotate(111 960.1 176.0)"/><ellipse cx="968.6" cy="180.5" rx="2.76" ry="1.68" fill="#8ee48f" transform="rotate(127 968.6 180.5)"/>
<path d="M959.4 165.0C960.3 166.1 963.6 171.2 965.0 171.6C966.4 171.9 966.6 166.4 967.8 166.9C969.1 167.3 971.2 174.1 972.5 174.4C973.8 174.7 974.1 168.3 975.3 168.8C976.6 169.2 978.8 178.1 980.0 177.2C981.2 176.3 981.6 163.9 982.2 163.1C982.9 162.3 983.5 170.9 983.8 172.5" fill="none" stroke="#5fc978" stroke-width="1.8" stroke-linecap="round" stroke-linejoin="round" />
<path d="M985.6 181.9C986.9 181.3 990.8 179.0 993.1 178.1C995.5 177.2 997.7 176.3 999.7 176.6C1001.7 176.9 1004.7 178.2 1005.3 180.0C1005.9 181.8 1003.6 185.0 1003.4 187.5C1003.3 190.0 1004.2 193.8 1004.4 195.0" fill="none" stroke="#8ee48f" stroke-width="1.875" stroke-linecap="round" stroke-linejoin="round" /><ellipse cx="985.4" cy="182.1" rx="2.64" ry="1.61" fill="#8ee48f" transform="rotate(103 985.4 182.1)"/><ellipse cx="993.9" cy="178.9" rx="2.64" ry="1.61" fill="#8ee48f" transform="rotate(37 993.9 178.9)"/><ellipse cx="998.9" cy="176.7" rx="2.64" ry="1.61" fill="#8ee48f" transform="rotate(118 998.9 176.7)"/><ellipse cx="1004.7" cy="181.1" rx="2.64" ry="1.61" fill="#8ee48f" transform="rotate(59 1004.7 181.1)"/><ellipse cx="1002.3" cy="188.4" rx="2.64" ry="1.61" fill="#8ee48f" transform="rotate(179 1002.3 188.4)"/><ellipse cx="1004.1" cy="194.5" rx="2.64" ry="1.61" fill="#8ee48f" transform="rotate(109 1004.1 194.5)"/>
<path d="M1010.0 183.8C1010.2 185.6 1010.7 194.2 1011.5 195.0C1012.3 195.8 1013.7 190.3 1014.7 188.4C1015.7 186.6 1017.0 184.5 1017.5 183.8" fill="none" stroke="#5fc978" stroke-width="1.8" stroke-linecap="round" stroke-linejoin="round" />
<path d="M978.1 184.7C978.7 185.5 981.6 187.3 981.9 189.4C982.2 191.4 979.4 195.9 980.0 196.9C980.6 197.8 983.7 195.8 985.6 195.0C987.5 194.2 990.3 192.7 991.2 192.2" fill="none" stroke="#8ee48f" stroke-width="1.875" stroke-linecap="round" stroke-linejoin="round" /><ellipse cx="978.3" cy="185.7" rx="2.76" ry="1.68" fill="#8ee48f" transform="rotate(81 978.3 185.7)"/><ellipse cx="981.9" cy="189.6" rx="2.76" ry="1.68" fill="#8ee48f" transform="rotate(84 981.9 189.6)"/><ellipse cx="980.0" cy="197.2" rx="2.76" ry="1.68" fill="#8ee48f" transform="rotate(33 980.0 197.2)"/><ellipse cx="984.6" cy="194.5" rx="2.76" ry="1.68" fill="#8ee48f" transform="rotate(143 984.6 194.5)"/><ellipse cx="992.0" cy="192.7" rx="2.76" ry="1.68" fill="#8ee48f" transform="rotate(16 992.0 192.7)"/>
<path d="M953.8 211.9C955.0 211.6 958.8 210.9 961.2 210.0C963.8 209.1 966.6 207.5 968.8 206.2C970.9 205.0 972.5 202.8 974.4 202.5C976.3 202.2 978.1 203.1 980.0 204.4C981.9 205.6 983.7 208.4 985.6 210.0C987.5 211.6 990.6 212.0 991.2 213.8C991.9 215.5 991.3 219.1 989.4 220.3C987.5 221.6 982.8 221.4 980.0 221.2C977.2 221.1 973.8 219.7 972.5 219.4" fill="none" stroke="#8ee48f" stroke-width="1.875" stroke-linecap="round" stroke-linejoin="round" /><ellipse cx="954.1" cy="212.3" rx="2.76" ry="1.68" fill="#8ee48f" transform="rotate(85 954.1 212.3)"/><ellipse cx="960.1" cy="209.7" rx="2.76" ry="1.68" fill="#8ee48f" transform="rotate(26 960.1 209.7)"/><ellipse cx="969.5" cy="206.7" rx="2.76" ry="1.68" fill="#8ee48f" transform="rotate(49 969.5 206.7)"/><ellipse cx="974.5" cy="202.9" rx="2.76" ry="1.68" fill="#8ee48f" transform="rotate(108 974.5 202.9)"/><ellipse cx="979.9" cy="203.6" rx="2.76" ry="1.68" fill="#8ee48f" transform="rotate(26 979.9 203.6)"/><ellipse cx="984.6" cy="210.8" rx="2.76" ry="1.68" fill="#8ee48f" transform="rotate(163 984.6 210.8)"/><ellipse cx="991.7" cy="213.4" rx="2.76" ry="1.68" fill="#8ee48f" transform="rotate(13 991.7 213.4)"/><ellipse cx="990.2" cy="219.2" rx="2.76" ry="1.68" fill="#8ee48f" transform="rotate(73 990.2 219.2)"/><ellipse cx="981.0" cy="221.3" rx="2.76" ry="1.68" fill="#8ee48f" transform="rotate(11 981.0 221.3)"/><ellipse cx="973.7" cy="220.5" rx="2.76" ry="1.68" fill="#8ee48f" transform="rotate(16 973.7 220.5)"/>
<path d="M961.2 217.5C961.9 218.1 963.8 220.2 965.0 221.2C966.2 222.3 968.1 223.6 968.8 224.1" fill="none" stroke="#8ee48f" stroke-width="1.875" stroke-linecap="round" stroke-linejoin="round" /><ellipse cx="961.7" cy="217.9" rx="2.76" ry="1.68" fill="#8ee48f" transform="rotate(47 961.7 217.9)"/><ellipse cx="964.2" cy="220.6" rx="2.76" ry="1.68" fill="#8ee48f" transform="rotate(153 964.2 220.6)"/><ellipse cx="968.1" cy="224.6" rx="2.76" ry="1.68" fill="#8ee48f" transform="rotate(26 968.1 224.6)"/>
<path d="M945.0 201.9C946.2 202.5 950.0 205.3 952.5 205.6C955.0 205.9 957.5 203.4 960.0 203.8C962.5 204.1 965.3 207.5 967.5 207.5C969.7 207.5 972.2 204.4 973.1 203.8" fill="none" stroke="#8ee48f" stroke-width="1.75" stroke-linecap="round" stroke-linejoin="round" /><ellipse cx="945.5" cy="202.2" rx="2.53" ry="1.54" fill="#8ee48f" transform="rotate(19 945.5 202.2)"/><ellipse cx="952.0" cy="205.0" rx="2.53" ry="1.54" fill="#8ee48f" transform="rotate(169 952.0 205.0)"/><ellipse cx="960.4" cy="203.3" rx="2.53" ry="1.54" fill="#8ee48f" transform="rotate(132 960.4 203.3)"/><ellipse cx="967.3" cy="208.2" rx="2.53" ry="1.54" fill="#8ee48f" transform="rotate(123 967.3 208.2)"/><ellipse cx="972.5" cy="204.7" rx="2.53" ry="1.54" fill="#8ee48f" transform="rotate(21 972.5 204.7)"/>
<path d="M1111.9 207.5C1112.5 208.4 1114.1 211.6 1115.6 213.1C1117.2 214.7 1119.7 216.9 1121.2 216.9C1122.8 216.9 1123.8 213.0 1125.0 213.1C1126.2 213.3 1126.9 217.3 1128.8 217.8C1130.6 218.3 1134.4 215.8 1136.2 215.9C1138.1 216.1 1138.8 218.9 1140.0 218.8C1141.2 218.6 1143.1 215.6 1143.8 215.0" fill="none" stroke="#5fc978" stroke-width="2.25" stroke-linecap="round" stroke-linejoin="round" /><ellipse cx="1110.7" cy="208.1" rx="3.22" ry="1.96" fill="#5fc978" transform="rotate(174 1110.7 208.1)"/><ellipse cx="1116.8" cy="212.0" rx="3.22" ry="1.96" fill="#5fc978" transform="rotate(28 1116.8 212.0)"/><ellipse cx="1121.7" cy="217.7" rx="3.22" ry="1.96" fill="#5fc978" transform="rotate(158 1121.7 217.7)"/><ellipse cx="1124.4" cy="212.7" rx="3.22" ry="1.96" fill="#5fc978" transform="rotate(180 1124.4 212.7)"/><ellipse cx="1128.2" cy="217.2" rx="3.22" ry="1.96" fill="#5fc978" transform="rotate(127 1128.2 217.2)"/><ellipse cx="1137.1" cy="216.8" rx="3.22" ry="1.96" fill="#5fc978" transform="rotate(41 1137.1 216.8)"/><ellipse cx="1139.3" cy="219.8" rx="3.22" ry="1.96" fill="#5fc978" transform="rotate(144 1139.3 219.8)"/><ellipse cx="1143.1" cy="214.9" rx="3.22" ry="1.96" fill="#5fc978" transform="rotate(92 1143.1 214.9)"/>
<path d="M1114.7 203.8C1115.5 204.7 1118.3 207.5 1119.4 209.4C1120.5 211.3 1120.9 214.1 1121.2 215.0" fill="none" stroke="#8ee48f" stroke-width="2.25" stroke-linecap="round" stroke-linejoin="round" /><ellipse cx="1114.6" cy="203.6" rx="2.99" ry="1.82" fill="#8ee48f" transform="rotate(65 1114.6 203.6)"/><ellipse cx="1119.2" cy="209.8" rx="2.99" ry="1.82" fill="#8ee48f" transform="rotate(80 1119.2 209.8)"/><ellipse cx="1121.6" cy="213.8" rx="2.99" ry="1.82" fill="#8ee48f" transform="rotate(47 1121.6 213.8)"/>
<path d="M1140.0 201.9C1140.3 203.0 1140.9 208.1 1141.9 208.4C1142.8 208.8 1144.4 203.3 1145.6 203.8C1146.9 204.2 1148.8 210.0 1149.4 211.2" fill="none" stroke="#8ee48f" stroke-width="2.25" stroke-linecap="round" stroke-linejoin="round" /><ellipse cx="1140.7" cy="203.0" rx="2.99" ry="1.82" fill="#8ee48f" transform="rotate(94 1140.7 203.0)"/><ellipse cx="1142.5" cy="208.9" rx="2.99" ry="1.82" fill="#8ee48f" transform="rotate(52 1142.5 208.9)"/><ellipse cx="1144.7" cy="202.6" rx="2.99" ry="1.82" fill="#8ee48f" transform="rotate(119 1144.7 202.6)"/><ellipse cx="1150.0" cy="210.7" rx="2.99" ry="1.82" fill="#8ee48f" transform="rotate(69 1150.0 210.7)"/>
<path d="M1153.1 205.6C1154.1 205.2 1156.9 202.7 1158.8 202.8C1160.6 203.0 1162.8 206.4 1164.4 206.6C1165.9 206.7 1167.2 203.3 1168.1 203.8C1169.1 204.2 1170.3 207.8 1170.0 209.4C1169.7 210.9 1166.9 212.5 1166.2 213.1" fill="none" stroke="#5fc978" stroke-width="2.25" stroke-linecap="round" stroke-linejoin="round" /><ellipse cx="1153.5" cy="205.2" rx="3.22" ry="1.96" fill="#5fc978" transform="rotate(33 1153.5 205.2)"/><ellipse cx="1158.7" cy="202.8" rx="3.22" ry="1.96" fill="#5fc978" transform="rotate(36 1158.7 202.8)"/><ellipse cx="1164.3" cy="206.0" rx="3.22" ry="1.96" fill="#5fc978" transform="rotate(86 1164.3 206.0)"/><ellipse cx="1168.6" cy="203.3" rx="3.22" ry="1.96" fill="#5fc978" transform="rotate(46 1168.6 203.3)"/><ellipse cx="1170.7" cy="210.3" rx="3.22" ry="1.96" fill="#5fc978" transform="rotate(121 1170.7 210.3)"/><ellipse cx="1165.6" cy="212.5" rx="3.22" ry="1.96" fill="#5fc978" transform="rotate(170 1165.6 212.5)"/>
<path d="M1132.5 220.6C1132.8 221.9 1134.7 225.8 1134.4 228.1C1134.1 230.5 1131.9 232.7 1130.6 234.7C1129.4 236.7 1127.2 238.4 1126.9 240.3C1126.6 242.2 1127.8 244.7 1128.8 245.9C1129.7 247.2 1131.9 247.5 1132.5 247.8" fill="none" stroke="#5fc978" stroke-width="2.125" stroke-linecap="round" stroke-linejoin="round" /><ellipse cx="1133.2" cy="220.7" rx="3.22" ry="1.96" fill="#5fc978" transform="rotate(122 1133.2 220.7)"/><ellipse cx="1134.1" cy="229.3" rx="3.22" ry="1.96" fill="#5fc978" transform="rotate(92 1134.1 229.3)"/><ellipse cx="1129.8" cy="234.1" rx="3.22" ry="1.96" fill="#5fc978" transform="rotate(52 1129.8 234.1)"/><ellipse cx="1126.5" cy="239.8" rx="3.22" ry="1.96" fill="#5fc978" transform="rotate(47 1126.5 239.8)"/><ellipse cx="1128.3" cy="245.5" rx="3.22" ry="1.96" fill="#5fc978" transform="rotate(19 1128.3 245.5)"/><ellipse cx="1131.8" cy="246.8" rx="3.22" ry="1.96" fill="#5fc978" transform="rotate(102 1131.8 246.8)"/>
<path d="M1138.1 224.4C1138.4 225.6 1140.3 229.7 1140.0 231.9C1139.7 234.1 1136.2 235.5 1136.2 237.5C1136.2 239.5 1138.4 242.3 1140.0 244.1C1141.6 245.8 1144.4 246.4 1145.6 247.8C1146.9 249.2 1147.2 251.7 1147.5 252.5" fill="none" stroke="#8ee48f" stroke-width="2.125" stroke-linecap="round" stroke-linejoin="round" /><ellipse cx="1138.6" cy="225.0" rx="3.22" ry="1.96" fill="#8ee48f" transform="rotate(163 1138.6 225.0)"/><ellipse cx="1139.4" cy="232.2" rx="3.22" ry="1.96" fill="#8ee48f" transform="rotate(163 1139.4 232.2)"/><ellipse cx="1137.1" cy="237.7" rx="3.22" ry="1.96" fill="#8ee48f" transform="rotate(163 1137.1 237.7)"/><ellipse cx="1139.8" cy="245.2" rx="3.22" ry="1.96" fill="#8ee48f" transform="rotate(30 1139.8 245.2)"/><ellipse cx="1145.2" cy="248.9" rx="3.22" ry="1.96" fill="#8ee48f" transform="rotate(19 1145.2 248.9)"/><ellipse cx="1146.8" cy="252.1" rx="3.22" ry="1.96" fill="#8ee48f" transform="rotate(81 1146.8 252.1)"/>
<path d="M988.1 207.5C988.6 208.4 990.8 211.2 990.9 213.1C991.1 215.0 989.4 217.8 989.1 218.8" fill="none" stroke="#8ee48f" stroke-width="1.875" stroke-linecap="round" stroke-linejoin="round" /><ellipse cx="988.6" cy="207.8" rx="2.76" ry="1.68" fill="#8ee48f" transform="rotate(30 988.6 207.8)"/><ellipse cx="990.3" cy="213.8" rx="2.76" ry="1.68" fill="#8ee48f" transform="rotate(86 990.3 213.8)"/><ellipse cx="989.1" cy="218.8" rx="2.76" ry="1.68" fill="#8ee48f" transform="rotate(145 989.1 218.8)"/>
<path d="M502.8 130.3C502.5 128.6 501.7 123.3 501.2 120.0C500.8 116.7 500.6 113.7 500.3 110.6C500.0 107.5 499.5 102.8 499.4 101.2" fill="none" stroke="#74c08c" stroke-width="1.4" stroke-linecap="round" stroke-linejoin="round" />
<path d="M500.3 108.8C500.6 108.5 499.4 105.3 498.4 103.9C497.5 102.5 495.0 100.1 494.7 100.3C494.4 100.5 495.6 103.8 496.6 105.2C497.5 106.6 500.0 109.0 500.3 108.8Z" fill="#7fcf95" stroke="#7fcf95" stroke-width="1.1" stroke-linejoin="round"/>
<path d="M500.9 106.9C501.1 107.1 503.3 105.6 504.1 104.7C504.9 103.8 506.2 101.5 505.9 101.2C505.7 101.0 503.6 102.5 502.7 103.4C501.9 104.4 500.6 106.7 500.9 106.9Z" fill="#7fcf95" stroke="#7fcf95" stroke-width="1.1" stroke-linejoin="round"/>
<path d="M501.2 118.1C501.7 118.4 504.4 116.1 505.3 114.7C506.2 113.3 507.3 110.0 506.9 109.7C506.5 109.4 503.7 111.7 502.8 113.1C501.9 114.5 500.8 117.8 501.2 118.1Z" fill="#7fcf95" stroke="#7fcf95" stroke-width="1.1" stroke-linejoin="round"/>
<path d="M500.9 121.9C500.6 121.6 498.1 122.9 497.0 123.9C496.0 124.8 494.4 127.2 494.7 127.5C494.9 127.8 497.5 126.5 498.5 125.5C499.6 124.6 501.1 122.2 500.9 121.9Z" fill="#7fcf95" stroke="#7fcf95" stroke-width="1.1" stroke-linejoin="round"/>
<path d="M501.6 127.5C501.4 127.2 499.7 127.7 499.0 128.1C498.3 128.6 497.3 130.1 497.5 130.3C497.7 130.6 499.4 130.1 500.1 129.7C500.8 129.2 501.8 127.8 501.6 127.5Z" fill="#7fcf95" stroke="#7fcf95" stroke-width="1.1" stroke-linejoin="round"/>
<ellipse cx="503.31" cy="105.0" rx="2.44" ry="2.44" fill="#d43d3d"/>
<ellipse cx="497.12" cy="119.25" rx="2.44" ry="2.44" fill="#d43d3d"/>
<ellipse cx="502.38" cy="114.0" rx="2.44" ry="2.44" fill="#d43d3d"/>
<path d="M514.8 139.1C514.8 137.2 514.6 131.6 514.8 127.5C514.9 123.4 515.6 118.6 515.9 114.4C516.2 110.2 516.5 104.2 516.6 102.2" fill="none" stroke="#74c08c" stroke-width="1.4" stroke-linecap="round" stroke-linejoin="round" />
<path d="M516.2 110.6C516.6 110.5 515.9 107.7 515.3 106.4C514.7 105.2 512.8 103.0 512.5 103.1C512.2 103.3 512.8 106.1 513.5 107.3C514.1 108.6 515.9 110.8 516.2 110.6Z" fill="#7fcf95" stroke="#7fcf95" stroke-width="1.1" stroke-linejoin="round"/>
<path d="M516.6 107.8C516.8 108.0 518.9 106.9 519.7 106.1C520.5 105.4 521.7 103.3 521.5 103.1C521.3 102.9 519.2 104.0 518.4 104.8C517.6 105.6 516.4 107.6 516.6 107.8Z" fill="#7fcf95" stroke="#7fcf95" stroke-width="1.1" stroke-linejoin="round"/>
<path d="M515.5 118.1C515.2 117.9 513.1 118.9 512.3 119.7C511.5 120.4 510.4 122.5 510.6 122.8C510.9 123.1 513.0 122.1 513.8 121.3C514.7 120.5 515.8 118.4 515.5 118.1Z" fill="#7fcf95" stroke="#7fcf95" stroke-width="1.1" stroke-linejoin="round"/>
<path d="M515.1 127.5C514.9 127.8 516.2 129.4 517.0 129.9C517.8 130.3 519.8 130.6 520.0 130.3C520.2 130.0 518.9 128.4 518.1 127.9C517.3 127.5 515.3 127.2 515.1 127.5Z" fill="#7fcf95" stroke="#7fcf95" stroke-width="1.1" stroke-linejoin="round"/>
<path d="M514.8 134.1C514.6 133.8 512.9 134.2 512.3 134.7C511.7 135.2 510.8 136.6 511.0 136.9C511.2 137.1 512.8 136.7 513.4 136.2C514.1 135.8 514.9 134.3 514.8 134.1Z" fill="#7fcf95" stroke="#7fcf95" stroke-width="1.1" stroke-linejoin="round"/>
<ellipse cx="520.0" cy="110.25" rx="2.25" ry="2.25" fill="#d43d3d"/>
<ellipse cx="511.19" cy="127.12" rx="2.25" ry="2.25" fill="#d43d3d"/>
<ellipse cx="518.69" cy="123.75" rx="2.25" ry="2.25" fill="#d43d3d"/>
<ellipse cx="514.38" cy="115.31" rx="2.25" ry="2.25" fill="#d43d3d"/>
<path d="M468.4 163.1C469.1 163.1 470.7 150.1 470.2 143.7C469.7 137.3 466.3 124.6 465.6 124.7C464.9 124.7 465.6 137.6 466.1 144.0C466.6 150.4 467.8 163.2 468.4 163.1Z" fill="#62b27e" stroke="#62b27e" stroke-width="1.1" stroke-linejoin="round"/><path d="M468.4 163.1C469.2 163.2 471.2 150.7 472.1 144.3C472.9 138.0 474.2 125.3 473.5 125.2C472.8 125.2 468.5 137.4 467.6 143.7C466.8 150.1 467.7 163.0 468.4 163.1Z" fill="#62b27e" stroke="#62b27e" stroke-width="1.1" stroke-linejoin="round"/><path d="M468.4 163.1C469.1 162.9 469.2 155.8 468.0 152.8C466.7 149.9 461.6 145.0 460.9 145.3C460.3 145.6 462.9 151.5 464.2 154.4C465.4 157.4 467.8 163.4 468.4 163.1Z" fill="#62b27e" stroke="#62b27e" stroke-width="1.1" stroke-linejoin="round"/><path d="M468.4 163.1C469.1 163.4 471.4 157.8 472.6 155.0C473.8 152.2 476.1 146.5 475.4 146.2C474.7 146.0 469.6 150.4 468.4 153.3C467.3 156.1 467.7 162.8 468.4 163.1Z" fill="#62b27e" stroke="#62b27e" stroke-width="1.1" stroke-linejoin="round"/><path d="M468.4 163.1C469.0 162.9 468.8 158.8 468.2 157.0C467.5 155.1 465.2 151.7 464.7 151.9C464.2 152.1 464.3 156.2 465.0 158.0C465.6 159.9 467.9 163.3 468.4 163.1Z" fill="#62b27e" stroke="#62b27e" stroke-width="1.1" stroke-linejoin="round"/><ellipse cx="468.44" cy="164.62" rx="3.2" ry="2.2" fill="#e8792c"/>
<path d="M488.5 143.2C489.1 143.2 491.0 133.9 490.9 129.2C490.9 124.6 488.7 115.3 488.1 115.3C487.5 115.3 487.1 124.6 487.2 129.3C487.3 134.0 487.9 143.3 488.5 143.2Z" fill="#62b27e" stroke="#62b27e" stroke-width="1.1" stroke-linejoin="round"/><path d="M488.5 143.2C488.9 143.3 490.1 135.9 490.5 132.2C490.9 128.5 491.4 121.0 490.9 120.9C490.5 120.9 488.3 128.2 487.9 131.9C487.4 135.6 488.1 143.2 488.5 143.2Z" fill="#62b27e" stroke="#62b27e" stroke-width="1.1" stroke-linejoin="round"/><ellipse cx="488.5" cy="144.75" rx="2.2399999999999998" ry="1.54" fill="#e8792c"/>
<path d="M488.1 169.5C488.7 169.3 489.0 159.1 487.8 154.2C486.7 149.4 481.6 140.5 481.0 140.6C480.4 140.8 483.0 150.3 484.2 155.2C485.4 160.0 487.5 169.7 488.1 169.5Z" fill="#62b27e" stroke="#62b27e" stroke-width="1.1" stroke-linejoin="round"/><path d="M488.1 169.5C488.8 169.7 490.5 161.8 491.5 157.8C492.4 153.9 494.4 146.0 493.8 145.9C493.1 145.7 488.4 152.9 487.5 156.9C486.5 160.8 487.5 169.3 488.1 169.5Z" fill="#62b27e" stroke="#62b27e" stroke-width="1.1" stroke-linejoin="round"/><path d="M488.1 169.5C488.6 169.5 489.3 161.7 489.2 157.8C489.0 153.9 487.7 146.2 487.2 146.2C486.7 146.3 486.0 154.1 486.2 157.9C486.3 161.8 487.6 169.5 488.1 169.5Z" fill="#62b27e" stroke="#62b27e" stroke-width="1.1" stroke-linejoin="round"/><path d="M488.1 169.5C488.5 169.6 490.2 161.0 491.5 156.8C492.8 152.6 496.4 144.5 496.0 144.4C495.6 144.2 490.3 151.8 489.0 156.0C487.7 160.2 487.7 169.4 488.1 169.5Z" fill="#62b27e" stroke="#62b27e" stroke-width="1.1" stroke-linejoin="round"/><ellipse cx="488.12" cy="171.0" rx="3.2" ry="2.2" fill="#e8792c"/>
<path d="M522.8 171.0C523.3 170.8 523.0 162.0 521.6 158.0C520.2 154.1 514.9 147.0 514.4 147.2C513.9 147.4 517.0 155.2 518.4 159.2C519.8 163.1 522.3 171.2 522.8 171.0Z" fill="#62b27e" stroke="#62b27e" stroke-width="1.1" stroke-linejoin="round"/><path d="M522.8 171.0C523.4 171.0 524.4 162.8 524.6 158.7C524.8 154.6 524.7 146.3 524.1 146.2C523.5 146.2 521.1 154.4 520.9 158.5C520.6 162.6 522.2 171.0 522.8 171.0Z" fill="#62b27e" stroke="#62b27e" stroke-width="1.1" stroke-linejoin="round"/><path d="M522.8 171.0C523.2 170.9 523.2 164.4 522.7 161.2C522.2 158.1 520.4 151.8 520.0 151.9C519.6 151.9 519.6 158.4 520.1 161.6C520.6 164.8 522.4 171.1 522.8 171.0Z" fill="#62b27e" stroke="#62b27e" stroke-width="1.1" stroke-linejoin="round"/><ellipse cx="522.81" cy="172.5" rx="3.2" ry="2.2" fill="#e8792c"/>
<path d="M540.1 175.1C540.5 175.0 540.5 164.2 539.3 159.1C538.1 153.9 533.2 144.3 532.8 144.4C532.3 144.5 535.2 154.6 536.4 159.8C537.6 164.9 539.6 175.2 540.1 175.1Z" fill="#62b27e" stroke="#62b27e" stroke-width="1.1" stroke-linejoin="round"/><path d="M540.1 175.1C540.6 175.1 542.1 162.7 542.2 156.5C542.4 150.3 541.6 137.8 541.0 137.8C540.4 137.8 539.0 150.2 538.8 156.4C538.7 162.6 539.5 175.1 540.1 175.1Z" fill="#62b27e" stroke="#62b27e" stroke-width="1.1" stroke-linejoin="round"/><path d="M540.1 175.1C540.6 175.2 542.0 167.4 542.9 163.5C543.7 159.7 545.9 152.0 545.3 151.9C544.8 151.8 540.5 158.9 539.6 162.8C538.7 166.7 539.5 175.0 540.1 175.1Z" fill="#62b27e" stroke="#62b27e" stroke-width="1.1" stroke-linejoin="round"/><path d="M540.1 175.1C540.4 175.1 541.0 165.3 540.5 160.5C540.0 155.6 537.3 146.2 536.9 146.2C536.5 146.3 537.8 155.9 538.3 160.7C538.8 165.5 539.7 175.2 540.1 175.1Z" fill="#62b27e" stroke="#62b27e" stroke-width="1.1" stroke-linejoin="round"/><ellipse cx="540.06" cy="176.62" rx="3.2" ry="2.2" fill="#e8792c"/>
<path d="M554.7 180.4C555.2 180.2 555.8 174.2 555.0 171.4C554.3 168.7 550.5 163.9 550.0 164.1C549.5 164.2 551.0 169.7 551.8 172.4C552.6 175.1 554.1 180.5 554.7 180.4Z" fill="#62b27e" stroke="#62b27e" stroke-width="1.1" stroke-linejoin="round"/><path d="M554.7 180.4C555.3 180.5 557.6 167.2 558.7 160.6C559.8 154.0 561.9 140.7 561.2 140.6C560.6 140.5 556.1 153.4 555.0 160.0C553.9 166.6 554.1 180.3 554.7 180.4Z" fill="#62b27e" stroke="#62b27e" stroke-width="1.1" stroke-linejoin="round"/><path d="M554.7 180.4C555.2 180.7 558.3 174.4 560.0 171.4C561.7 168.3 565.5 162.5 565.0 162.2C564.5 161.9 558.8 166.7 557.1 169.7C555.4 172.7 554.2 180.1 554.7 180.4Z" fill="#62b27e" stroke="#62b27e" stroke-width="1.1" stroke-linejoin="round"/><path d="M554.7 180.4C555.1 180.4 556.8 171.0 557.2 166.2C557.6 161.5 557.6 151.9 557.1 151.9C556.7 151.8 555.0 161.3 554.6 166.0C554.2 170.8 554.3 180.3 554.7 180.4Z" fill="#62b27e" stroke="#62b27e" stroke-width="1.1" stroke-linejoin="round"/><ellipse cx="554.69" cy="181.88" rx="3.2" ry="2.2" fill="#e8792c"/>
<path d="M582.2 193.1C582.6 193.1 583.1 185.0 583.0 180.9C582.9 176.8 581.9 168.7 581.5 168.8C581.1 168.8 580.6 176.9 580.8 181.0C580.9 185.0 581.9 193.1 582.2 193.1Z" fill="#72c58c" stroke="#72c58c" stroke-width="1.1" stroke-linejoin="round"/>
<path d="M582.2 193.1C582.6 193.2 585.1 185.6 586.0 181.7C586.8 177.7 587.9 169.8 587.5 169.7C587.1 169.6 584.7 177.3 583.8 181.2C582.9 185.1 581.9 193.0 582.2 193.1Z" fill="#72c58c" stroke="#72c58c" stroke-width="1.1" stroke-linejoin="round"/>
<path d="M582.2 193.1C582.6 193.3 586.9 186.8 588.7 183.3C590.5 179.9 593.5 172.7 593.1 172.5C592.8 172.3 588.5 178.9 586.7 182.3C584.9 185.7 581.9 192.9 582.2 193.1Z" fill="#72c58c" stroke="#72c58c" stroke-width="1.1" stroke-linejoin="round"/>
<path d="M582.2 193.1C582.5 193.1 583.8 183.8 584.2 179.1C584.6 174.4 584.9 165.0 584.7 165.0C584.4 165.0 583.1 174.3 582.7 179.0C582.3 183.7 582.0 193.1 582.2 193.1Z" fill="#72c58c" stroke="#72c58c" stroke-width="1.1" stroke-linejoin="round"/>
<path d="M582.2 195.0L582.8 183.8" fill="none" stroke="#72c58c" stroke-width="1.2" stroke-linecap="round" stroke-linejoin="round" />
<path d="M597.5 140.9C597.7 138.3 598.6 135.3 600.3 133.4C602.0 131.6 605.5 129.7 607.8 129.7C610.2 129.7 612.8 131.6 614.4 133.4C615.9 135.3 617.2 138.4 617.2 140.9C617.2 143.4 616.3 146.4 614.4 148.4C612.5 150.5 608.4 153.0 605.9 153.1C603.4 153.3 600.8 151.4 599.4 149.4C598.0 147.3 597.3 143.6 597.5 140.9Z" fill="#62b66c"/>
<path d="M609.1 152.2C609.3 149.4 611.3 146.3 613.4 144.7C615.6 143.0 618.8 142.1 621.9 142.2C625.0 142.4 630.0 143.5 632.2 145.6C634.4 147.7 635.2 152.2 635.0 155.0C634.8 157.8 633.4 160.8 631.2 162.5C629.1 164.2 625.0 165.5 621.9 165.3C618.8 165.2 614.6 163.7 612.5 161.6C610.4 159.4 609.0 155.0 609.1 152.2Z" fill="#7cd389"/>
<path d="M619.6 166.2C619.8 163.1 620.4 158.6 622.8 155.9C625.2 153.3 630.5 151.6 634.1 150.3C637.7 149.1 641.7 148.0 644.4 148.4C647.0 148.9 649.4 150.5 650.0 153.1C650.6 155.8 648.1 161.3 648.1 164.4C648.1 167.5 651.2 169.8 650.0 171.9C648.8 173.9 644.1 175.5 640.6 176.6C637.2 177.7 632.5 178.8 629.4 178.4C626.3 178.1 623.5 176.7 621.9 174.7C620.3 172.7 619.5 169.4 619.6 166.2Z" fill="#8de18f"/>
<path d="M602.2 138.1C603.0 137.7 605.3 135.3 606.9 135.3C608.4 135.3 611.1 136.7 611.6 138.1C612.0 139.5 610.9 142.7 609.7 143.8C608.4 144.8 605.0 144.5 604.1 144.7" fill="none" stroke="#4f9f5c" stroke-width="1.0" stroke-linecap="round" stroke-linejoin="round" />
<path d="M605.0 140.0L608.4 139.1" fill="none" stroke="#4f9f5c" stroke-width="1.0" stroke-linecap="round" stroke-linejoin="round" />
<path d="M614.4 150.3C615.3 149.8 617.8 147.8 620.0 147.5C622.2 147.2 625.8 147.3 627.5 148.4C629.2 149.5 630.6 152.3 630.3 154.1C630.0 155.8 627.7 158.1 625.6 158.8C623.6 159.4 619.8 158.6 618.1 157.8C616.4 157.0 615.8 154.7 615.3 154.1" fill="none" stroke="#62bf72" stroke-width="1.0" stroke-linecap="round" stroke-linejoin="round" />
<path d="M620.0 152.2C620.8 152.0 623.7 150.8 624.7 151.2C625.7 151.7 625.8 154.4 626.0 155.0" fill="none" stroke="#62bf72" stroke-width="1.0" stroke-linecap="round" stroke-linejoin="round" />
<path d="M625.6 164.4C626.2 163.3 627.5 159.4 629.4 157.8C631.3 156.2 634.7 155.2 636.9 155.0C639.1 154.8 641.4 155.3 642.5 156.9C643.6 158.4 644.1 162.2 643.4 164.4C642.8 166.6 640.8 168.9 638.8 170.0C636.7 171.1 632.5 170.8 631.2 170.9" fill="none" stroke="#6fca7d" stroke-width="1.0" stroke-linecap="round" stroke-linejoin="round" />
<path d="M632.2 161.6C633.0 161.2 635.6 159.4 636.9 159.7C638.1 160.0 639.8 162.3 639.7 163.4C639.5 164.5 636.6 165.8 635.9 166.2" fill="none" stroke="#6fca7d" stroke-width="1.0" stroke-linecap="round" stroke-linejoin="round" />
<path d="M627.5 168.1C628.8 169.1 632.2 173.4 635.0 173.8C637.8 174.1 642.8 170.6 644.4 170.0" fill="none" stroke="#6fca7d" stroke-width="1.0" stroke-linecap="round" stroke-linejoin="round" />
<circle cx="461.2" cy="469.0" r="1.1" fill="#7a5fd2"/><circle cx="460.4" cy="470.1" r="1.1" fill="#7a5fd2"/><circle cx="459.0" cy="469.7" r="1.1" fill="#7a5fd2"/><circle cx="459.0" cy="468.3" r="1.1" fill="#7a5fd2"/><circle cx="460.4" cy="467.9" r="1.1" fill="#7a5fd2"/>
<circle cx="478.4" cy="471.2" r="1.1" fill="#7a5fd2"/><circle cx="477.6" cy="472.4" r="1.1" fill="#7a5fd2"/><circle cx="476.3" cy="472.0" r="1.1" fill="#7a5fd2"/><circle cx="476.3" cy="470.5" r="1.1" fill="#7a5fd2"/><circle cx="477.6" cy="470.1" r="1.1" fill="#7a5fd2"/>
<circle cx="496.4" cy="476.9" r="1.1" fill="#7a5fd2"/><circle cx="495.6" cy="478.0" r="1.1" fill="#7a5fd2"/><circle cx="494.3" cy="477.6" r="1.1" fill="#7a5fd2"/><circle cx="494.3" cy="476.2" r="1.1" fill="#7a5fd2"/><circle cx="495.6" cy="475.7" r="1.1" fill="#7a5fd2"/>
<circle cx="479.3" cy="450.2" r="0.9" fill="#7a5fd2"/><circle cx="478.7" cy="451.2" r="0.9" fill="#7a5fd2"/><circle cx="477.6" cy="450.8" r="0.9" fill="#7a5fd2"/><circle cx="477.6" cy="449.7" r="0.9" fill="#7a5fd2"/><circle cx="478.7" cy="449.3" r="0.9" fill="#7a5fd2"/>
<path d="M464.7 475.9C464.9 475.8 464.0 473.7 463.3 472.8C462.6 471.9 460.8 470.5 460.6 470.7C460.3 470.9 461.3 473.0 462.0 473.8C462.6 474.7 464.5 476.1 464.7 475.9Z" fill="#4fd089" stroke="#4fd089" stroke-width="1.1" stroke-linejoin="round"/><path d="M464.7 475.9C464.9 476.1 466.8 475.2 467.5 474.5C468.3 473.8 469.4 472.0 469.2 471.8C469.0 471.6 467.1 472.6 466.4 473.2C465.6 473.9 464.5 475.7 464.7 475.9Z" fill="#4fd089" stroke="#4fd089" stroke-width="1.1" stroke-linejoin="round"/><path d="M464.7 475.9C464.9 476.0 465.6 474.1 465.6 473.2C465.7 472.2 465.3 470.3 465.1 470.3C464.8 470.3 464.2 472.1 464.1 473.1C464.1 474.0 464.4 475.9 464.7 475.9Z" fill="#4fd089" stroke="#4fd089" stroke-width="1.1" stroke-linejoin="round"/>
<path d="M475.9 480.6C476.2 480.4 475.2 478.4 474.5 477.5C473.9 476.6 472.0 475.2 471.8 475.4C471.6 475.6 472.5 477.6 473.2 478.5C473.9 479.4 475.7 480.8 475.9 480.6Z" fill="#4fd089" stroke="#4fd089" stroke-width="1.1" stroke-linejoin="round"/><path d="M475.9 480.6C476.1 480.8 478.0 479.9 478.8 479.2C479.5 478.5 480.6 476.7 480.4 476.5C480.2 476.3 478.4 477.3 477.6 477.9C476.9 478.6 475.8 480.4 475.9 480.6Z" fill="#4fd089" stroke="#4fd089" stroke-width="1.1" stroke-linejoin="round"/><path d="M475.9 480.6C476.2 480.6 476.8 478.8 476.9 477.9C476.9 476.9 476.6 475.0 476.3 475.0C476.1 475.0 475.4 476.8 475.4 477.8C475.3 478.7 475.7 480.6 475.9 480.6Z" fill="#4fd089" stroke="#4fd089" stroke-width="1.1" stroke-linejoin="round"/>
<path d="M491.9 486.6C492.1 486.4 491.2 484.4 490.5 483.5C489.8 482.6 488.0 481.2 487.8 481.4C487.5 481.6 488.5 483.6 489.1 484.5C489.8 485.4 491.7 486.8 491.9 486.6Z" fill="#4fd089" stroke="#4fd089" stroke-width="1.1" stroke-linejoin="round"/><path d="M491.9 486.6C492.1 486.8 493.9 485.9 494.7 485.2C495.4 484.5 496.6 482.7 496.4 482.5C496.2 482.3 494.3 483.3 493.6 483.9C492.8 484.6 491.7 486.4 491.9 486.6Z" fill="#4fd089" stroke="#4fd089" stroke-width="1.1" stroke-linejoin="round"/><path d="M491.9 486.6C492.1 486.6 492.7 484.8 492.8 483.9C492.9 482.9 492.5 481.0 492.2 481.0C492.0 481.0 491.4 482.8 491.3 483.8C491.2 484.7 491.6 486.6 491.9 486.6Z" fill="#4fd089" stroke="#4fd089" stroke-width="1.1" stroke-linejoin="round"/>
<path d="M485.3 457.2C485.5 457.1 484.7 455.4 484.2 454.7C483.6 454.0 482.2 452.9 482.0 453.0C481.8 453.1 482.6 454.8 483.1 455.5C483.7 456.2 485.1 457.3 485.3 457.2Z" fill="#4fd089" stroke="#4fd089" stroke-width="1.1" stroke-linejoin="round"/><path d="M485.3 457.2C485.5 457.4 487.0 456.6 487.6 456.0C488.2 455.5 489.1 454.1 488.9 453.9C488.8 453.7 487.3 454.5 486.7 455.0C486.1 455.6 485.2 457.0 485.3 457.2Z" fill="#4fd089" stroke="#4fd089" stroke-width="1.1" stroke-linejoin="round"/><path d="M485.3 457.2C485.5 457.2 486.0 455.7 486.1 455.0C486.1 454.2 485.8 452.7 485.6 452.7C485.4 452.7 484.9 454.1 484.9 454.9C484.8 455.6 485.1 457.2 485.3 457.2Z" fill="#4fd089" stroke="#4fd089" stroke-width="1.1" stroke-linejoin="round"/>
<path d="M498.4 475.0C498.6 474.9 497.9 473.4 497.5 472.8C497.0 472.2 495.7 471.2 495.6 471.3C495.4 471.4 496.0 472.9 496.5 473.5C497.0 474.1 498.3 475.1 498.4 475.0Z" fill="#4fd089" stroke="#4fd089" stroke-width="1.1" stroke-linejoin="round"/><path d="M498.4 475.0C498.6 475.1 499.9 474.5 500.4 474.0C500.9 473.5 501.7 472.3 501.6 472.1C501.5 472.0 500.1 472.6 499.6 473.1C499.1 473.6 498.3 474.9 498.4 475.0Z" fill="#4fd089" stroke="#4fd089" stroke-width="1.1" stroke-linejoin="round"/><path d="M498.4 475.0C498.6 475.0 499.0 473.7 499.1 473.1C499.1 472.4 498.9 471.1 498.7 471.1C498.5 471.0 498.1 472.3 498.0 473.0C498.0 473.7 498.3 475.0 498.4 475.0Z" fill="#4fd089" stroke="#4fd089" stroke-width="1.1" stroke-linejoin="round"/>
<path d="M460.4 437.5C461.1 439.7 463.1 446.2 464.7 450.6C466.3 455.0 468.7 460.3 469.8 463.8C470.8 467.2 471.0 470.0 471.2 471.2" fill="none" stroke="#c6dd6c" stroke-width="1.3" stroke-linecap="round" stroke-linejoin="round" />
<path d="M471.2 473.1C472.1 472.5 471.0 465.3 469.1 462.7C467.3 460.0 460.9 456.6 460.0 457.2C459.1 457.8 462.1 463.7 463.9 466.4C465.8 469.0 470.4 473.7 471.2 473.1Z" fill="#c6dd6c" stroke="#c6dd6c" stroke-width="1.1" stroke-linejoin="round"/>
<path d="M471.2 473.1C472.3 473.5 475.7 467.7 476.9 464.6C478.1 461.4 479.4 454.8 478.4 454.4C477.3 454.0 471.8 459.0 470.6 462.1C469.4 465.3 470.2 472.7 471.2 473.1Z" fill="#c6dd6c" stroke="#c6dd6c" stroke-width="1.1" stroke-linejoin="round"/>
<path d="M494.7 454.4C493.9 455.9 491.2 460.3 490.0 463.8C488.8 467.2 488.1 473.1 487.8 475.0" fill="none" stroke="#c6dd6c" stroke-width="1.3" stroke-linecap="round" stroke-linejoin="round" />
<path d="M487.8 480.6C488.6 480.3 489.0 473.8 487.8 471.2C486.7 468.5 481.9 464.3 481.0 464.7C480.1 465.1 481.5 470.7 482.6 473.4C483.8 476.0 486.9 481.0 487.8 480.6Z" fill="#c6dd6c" stroke="#c6dd6c" stroke-width="1.1" stroke-linejoin="round"/>
<path d="M487.8 480.6C488.3 480.8 490.6 474.7 491.6 471.5C492.6 468.4 494.3 462.1 493.8 461.9C493.2 461.7 489.1 467.3 488.1 470.4C487.1 473.5 487.2 480.4 487.8 480.6Z" fill="#c6dd6c" stroke="#c6dd6c" stroke-width="1.1" stroke-linejoin="round"/>
<path d="M514.4 449.7C515.0 450.2 519.6 448.4 521.0 446.8C522.4 445.1 523.4 440.3 522.8 439.8C522.2 439.2 518.7 442.0 517.3 443.6C515.9 445.3 513.8 449.2 514.4 449.7Z" fill="#c6dd6c" stroke="#c6dd6c" stroke-width="1.1" stroke-linejoin="round"/>
<path d="M515.3 453.4C515.5 453.3 514.7 451.6 514.2 450.9C513.6 450.2 512.2 449.1 512.0 449.2C511.8 449.4 512.6 451.1 513.1 451.8C513.7 452.4 515.1 453.6 515.3 453.4Z" fill="#4fd089" stroke="#4fd089" stroke-width="1.1" stroke-linejoin="round"/><path d="M515.3 453.4C515.5 453.6 517.0 452.8 517.6 452.3C518.2 451.7 519.1 450.3 518.9 450.1C518.8 450.0 517.3 450.7 516.7 451.3C516.1 451.8 515.2 453.3 515.3 453.4Z" fill="#4fd089" stroke="#4fd089" stroke-width="1.1" stroke-linejoin="round"/><path d="M515.3 453.4C515.5 453.5 516.0 452.0 516.1 451.2C516.1 450.5 515.8 449.0 515.6 448.9C515.4 448.9 514.9 450.4 514.9 451.1C514.8 451.9 515.1 453.4 515.3 453.4Z" fill="#4fd089" stroke="#4fd089" stroke-width="1.1" stroke-linejoin="round"/>
<ellipse cx="467.3" cy="432.3" rx="7.4" ry="2.9" fill="#e24b86" transform="rotate(11 467.3 432.3)"/><ellipse cx="465.1" cy="435.3" rx="6.9" ry="2.6" fill="#f0629c" transform="rotate(41 465.1 435.3)"/><ellipse cx="460.3" cy="437.7" rx="7.2" ry="2.8" fill="#e24b86" transform="rotate(85 460.3 437.7)"/><ellipse cx="455.5" cy="435.3" rx="6.0" ry="2.3" fill="#f0629c" transform="rotate(130 455.5 435.3)"/><ellipse cx="452.2" cy="433.7" rx="7.6" ry="2.9" fill="#e24b86" transform="rotate(158 452.2 433.7)"/><ellipse cx="452.5" cy="428.0" rx="7.4" ry="2.9" fill="#f0629c" transform="rotate(204 452.5 428.0)"/><ellipse cx="455.8" cy="425.5" rx="6.8" ry="2.6" fill="#e24b86" transform="rotate(237 455.8 425.5)"/><ellipse cx="461.8" cy="425.3" rx="6.3" ry="2.4" fill="#f0629c" transform="rotate(289 461.8 425.3)"/><ellipse cx="466.8" cy="427.6" rx="7.7" ry="3.0" fill="#e24b86" transform="rotate(332 466.8 427.6)"/><circle cx="459.62" cy="430.94" r="2.8" fill="#f3a24e"/>
<ellipse cx="499.4" cy="450.4" rx="3.8" ry="1.5" fill="#e24b86" transform="rotate(45 499.4 450.4)"/><ellipse cx="498.2" cy="452.2" rx="4.8" ry="1.9" fill="#f0629c" transform="rotate(72 498.2 452.2)"/><ellipse cx="494.0" cy="451.5" rx="4.6" ry="1.8" fill="#e24b86" transform="rotate(122 494.0 451.5)"/><ellipse cx="492.2" cy="449.6" rx="4.5" ry="1.7" fill="#f0629c" transform="rotate(155 492.2 449.6)"/><ellipse cx="492.1" cy="446.3" rx="4.5" ry="1.7" fill="#e24b86" transform="rotate(200 492.1 446.3)"/><ellipse cx="493.8" cy="444.5" rx="4.3" ry="1.7" fill="#f0629c" transform="rotate(233 493.8 444.5)"/><ellipse cx="497.1" cy="443.4" rx="4.7" ry="1.8" fill="#e24b86" transform="rotate(277 497.1 443.4)"/><ellipse cx="500.9" cy="445.2" rx="5.0" ry="1.9" fill="#f0629c" transform="rotate(326 500.9 445.2)"/><ellipse cx="501.1" cy="447.7" rx="4.3" ry="1.7" fill="#e24b86" transform="rotate(359 501.1 447.7)"/><circle cx="496.56" cy="447.81" r="1.8" fill="#f3a24e"/>
<ellipse cx="513.1" cy="439.8" rx="2.4" ry="0.9" fill="#e24b86" transform="rotate(10 513.1 439.8)"/><ellipse cx="512.3" cy="441.3" rx="2.6" ry="1.0" fill="#f0629c" transform="rotate(51 512.3 441.3)"/><ellipse cx="510.9" cy="441.4" rx="2.1" ry="0.8" fill="#e24b86" transform="rotate(83 510.9 441.4)"/><ellipse cx="508.9" cy="440.9" rx="2.3" ry="0.9" fill="#f0629c" transform="rotate(135 508.9 440.9)"/><ellipse cx="507.7" cy="440.1" rx="2.8" ry="1.1" fill="#e24b86" transform="rotate(165 507.7 440.1)"/><ellipse cx="508.1" cy="438.1" rx="2.7" ry="1.0" fill="#f0629c" transform="rotate(209 508.1 438.1)"/><ellipse cx="509.6" cy="437.1" rx="2.6" ry="1.0" fill="#e24b86" transform="rotate(249 509.6 437.1)"/><ellipse cx="511.3" cy="437.0" rx="2.6" ry="1.0" fill="#f0629c" transform="rotate(284 511.3 437.0)"/><ellipse cx="513.0" cy="438.4" rx="2.5" ry="1.0" fill="#e24b86" transform="rotate(335 513.0 438.4)"/><circle cx="510.62" cy="439.38" r="1.0" fill="#f3a24e"/>
<circle cx="539.6" cy="475.9" r="1.1" fill="#7a5fd2"/><circle cx="538.8" cy="477.1" r="1.1" fill="#7a5fd2"/><circle cx="537.4" cy="476.6" r="1.1" fill="#7a5fd2"/><circle cx="537.4" cy="475.2" r="1.1" fill="#7a5fd2"/><circle cx="538.8" cy="474.8" r="1.1" fill="#7a5fd2"/>
<circle cx="537.7" cy="481.6" r="1.1" fill="#7a5fd2"/><circle cx="536.9" cy="482.7" r="1.1" fill="#7a5fd2"/><circle cx="535.5" cy="482.3" r="1.1" fill="#7a5fd2"/><circle cx="535.5" cy="480.9" r="1.1" fill="#7a5fd2"/><circle cx="536.9" cy="480.4" r="1.1" fill="#7a5fd2"/>
<circle cx="552.7" cy="491.5" r="1.1" fill="#7a5fd2"/><circle cx="551.9" cy="492.6" r="1.1" fill="#7a5fd2"/><circle cx="550.5" cy="492.2" r="1.1" fill="#7a5fd2"/><circle cx="550.5" cy="490.8" r="1.1" fill="#7a5fd2"/><circle cx="551.9" cy="490.4" r="1.1" fill="#7a5fd2"/>
<path d="M521.9 488.1C522.1 487.9 521.2 485.9 520.5 485.0C519.8 484.1 518.0 482.7 517.8 482.9C517.5 483.1 518.5 485.1 519.1 486.0C519.8 486.9 521.7 488.3 521.9 488.1Z" fill="#4fd089" stroke="#4fd089" stroke-width="1.1" stroke-linejoin="round"/><path d="M521.9 488.1C522.1 488.3 524.0 487.4 524.7 486.7C525.5 486.0 526.6 484.2 526.4 484.0C526.2 483.8 524.3 484.8 523.5 485.4C522.8 486.1 521.7 487.9 521.9 488.1Z" fill="#4fd089" stroke="#4fd089" stroke-width="1.1" stroke-linejoin="round"/><path d="M521.9 488.1C522.1 488.1 522.7 486.3 522.8 485.4C522.9 484.4 522.5 482.5 522.2 482.5C522.0 482.5 521.4 484.3 521.3 485.3C521.2 486.2 521.6 488.1 521.9 488.1Z" fill="#4fd089" stroke="#4fd089" stroke-width="1.1" stroke-linejoin="round"/>
<path d="M514.8 483.4C514.9 483.3 514.2 481.6 513.6 480.9C513.1 480.2 511.6 479.1 511.4 479.2C511.3 479.4 512.0 481.1 512.6 481.8C513.1 482.4 514.6 483.6 514.8 483.4Z" fill="#4fd089" stroke="#4fd089" stroke-width="1.1" stroke-linejoin="round"/><path d="M514.8 483.4C514.9 483.6 516.4 482.8 517.0 482.3C517.6 481.7 518.5 480.3 518.4 480.1C518.2 480.0 516.7 480.7 516.1 481.3C515.5 481.8 514.6 483.3 514.8 483.4Z" fill="#4fd089" stroke="#4fd089" stroke-width="1.1" stroke-linejoin="round"/><path d="M514.8 483.4C515.0 483.5 515.5 482.0 515.5 481.2C515.5 480.5 515.2 479.0 515.0 478.9C514.8 478.9 514.3 480.4 514.3 481.1C514.2 481.9 514.5 483.4 514.8 483.4Z" fill="#4fd089" stroke="#4fd089" stroke-width="1.1" stroke-linejoin="round"/>
<path d="M537.8 489.6C538.0 489.5 537.2 487.8 536.7 487.1C536.1 486.4 534.7 485.3 534.5 485.4C534.3 485.6 535.1 487.2 535.6 487.9C536.2 488.6 537.6 489.8 537.8 489.6Z" fill="#4fd089" stroke="#4fd089" stroke-width="1.1" stroke-linejoin="round"/><path d="M537.8 489.6C538.0 489.8 539.5 489.0 540.1 488.5C540.7 487.9 541.6 486.5 541.4 486.3C541.3 486.2 539.8 486.9 539.2 487.5C538.6 488.0 537.7 489.5 537.8 489.6Z" fill="#4fd089" stroke="#4fd089" stroke-width="1.1" stroke-linejoin="round"/><path d="M537.8 489.6C538.0 489.6 538.5 488.2 538.6 487.4C538.6 486.7 538.3 485.1 538.1 485.1C537.9 485.1 537.4 486.6 537.4 487.3C537.3 488.1 537.6 489.6 537.8 489.6Z" fill="#4fd089" stroke="#4fd089" stroke-width="1.1" stroke-linejoin="round"/>
<path d="M557.1 494.7C557.3 494.6 556.6 493.1 556.1 492.5C555.7 491.9 554.4 490.9 554.2 491.0C554.1 491.1 554.7 492.6 555.2 493.2C555.7 493.8 557.0 494.8 557.1 494.7Z" fill="#4fd089" stroke="#4fd089" stroke-width="1.1" stroke-linejoin="round"/><path d="M557.1 494.7C557.3 494.8 558.6 494.2 559.1 493.7C559.6 493.2 560.4 491.9 560.3 491.8C560.1 491.7 558.8 492.3 558.3 492.8C557.8 493.3 557.0 494.5 557.1 494.7Z" fill="#4fd089" stroke="#4fd089" stroke-width="1.1" stroke-linejoin="round"/><path d="M557.1 494.7C557.3 494.7 557.7 493.4 557.8 492.8C557.8 492.1 557.6 490.8 557.4 490.8C557.2 490.7 556.8 492.0 556.7 492.7C556.7 493.3 556.9 494.7 557.1 494.7Z" fill="#4fd089" stroke="#4fd089" stroke-width="1.1" stroke-linejoin="round"/>
<path d="M572.9 507.8C573.1 507.7 572.2 505.8 571.6 505.0C571.0 504.2 569.4 502.9 569.2 503.1C569.0 503.2 569.8 505.1 570.4 505.9C571.0 506.7 572.7 508.0 572.9 507.8Z" fill="#4fd089" stroke="#4fd089" stroke-width="1.1" stroke-linejoin="round"/><path d="M572.9 507.8C573.0 508.0 574.7 507.1 575.4 506.5C576.1 505.9 577.1 504.3 576.9 504.1C576.8 503.9 575.1 504.8 574.4 505.4C573.7 506.0 572.7 507.6 572.9 507.8Z" fill="#4fd089" stroke="#4fd089" stroke-width="1.1" stroke-linejoin="round"/><path d="M572.9 507.8C573.1 507.8 573.7 506.2 573.7 505.3C573.8 504.5 573.4 502.8 573.2 502.8C573.0 502.7 572.4 504.4 572.4 505.2C572.3 506.1 572.7 507.8 572.9 507.8Z" fill="#4fd089" stroke="#4fd089" stroke-width="1.1" stroke-linejoin="round"/>
<path d="M529.4 488.1C530.2 487.7 530.1 481.9 528.9 479.7C527.6 477.5 522.7 474.5 521.9 475.0C521.1 475.5 522.8 480.3 524.0 482.5C525.2 484.7 528.6 488.6 529.4 488.1Z" fill="#c6dd6c" stroke="#c6dd6c" stroke-width="1.1" stroke-linejoin="round"/>
<path d="M529.4 488.1C530.2 488.4 532.5 484.0 533.3 481.6C534.1 479.3 534.9 474.3 534.1 474.1C533.2 473.8 529.1 477.6 528.3 480.0C527.6 482.3 528.5 487.8 529.4 488.1Z" fill="#c6dd6c" stroke="#c6dd6c" stroke-width="1.1" stroke-linejoin="round"/>
<path d="M550.0 465.6C549.2 467.2 546.4 471.2 545.3 475.0C544.2 478.8 543.8 485.9 543.4 488.1" fill="none" stroke="#c6dd6c" stroke-width="1.3" stroke-linecap="round" stroke-linejoin="round" />
<path d="M542.9 494.7C543.6 494.5 544.9 489.3 544.4 486.9C543.9 484.6 540.4 480.5 539.7 480.6C539.0 480.8 539.5 485.6 540.0 487.9C540.5 490.3 542.1 494.9 542.9 494.7Z" fill="#c6dd6c" stroke="#c6dd6c" stroke-width="1.1" stroke-linejoin="round"/>
<path d="M542.9 494.7C543.8 495.3 547.9 490.5 549.6 487.8C551.2 485.2 553.7 479.3 552.8 478.8C551.9 478.2 545.8 481.8 544.2 484.4C542.5 487.1 542.0 494.1 542.9 494.7Z" fill="#c6dd6c" stroke="#c6dd6c" stroke-width="1.1" stroke-linejoin="round"/>
<path d="M568.8 484.4C568.1 485.2 566.2 487.5 565.0 489.1C563.8 490.6 561.9 493.0 561.2 493.8" fill="none" stroke="#c6dd6c" stroke-width="1.3" stroke-linecap="round" stroke-linejoin="round" />
<path d="M581.5 480.6C582.0 481.9 584.1 485.3 584.7 488.1C585.3 490.9 585.2 495.9 585.2 497.5" fill="none" stroke="#c6dd6c" stroke-width="1.3" stroke-linecap="round" stroke-linejoin="round" />
<path d="M578.1 505.0C578.7 505.9 585.1 502.8 587.9 500.7C590.7 498.7 595.6 493.7 595.0 492.8C594.4 491.9 587.0 493.5 584.1 495.6C581.3 497.6 577.5 504.1 578.1 505.0Z" fill="#c6dd6c" stroke="#c6dd6c" stroke-width="1.1" stroke-linejoin="round"/>
<path d="M578.1 505.0C578.4 504.6 577.3 502.8 576.5 502.3C575.8 501.8 573.7 501.8 573.4 502.2C573.2 502.6 574.2 504.4 575.0 504.9C575.8 505.3 577.9 505.4 578.1 505.0Z" fill="#c6dd6c" stroke="#c6dd6c" stroke-width="1.1" stroke-linejoin="round"/>
<ellipse cx="523.9" cy="467.7" rx="3.7" ry="1.4" fill="#e24b86" transform="rotate(3 523.9 467.7)"/><ellipse cx="522.6" cy="469.7" rx="3.4" ry="1.3" fill="#f0629c" transform="rotate(44 522.6 469.7)"/><ellipse cx="520.2" cy="471.6" rx="4.3" ry="1.7" fill="#e24b86" transform="rotate(88 520.2 471.6)"/><ellipse cx="516.9" cy="470.3" rx="4.2" ry="1.6" fill="#f0629c" transform="rotate(134 516.9 470.3)"/><ellipse cx="516.0" cy="468.5" rx="3.9" ry="1.5" fill="#e24b86" transform="rotate(165 516.0 468.5)"/><ellipse cx="516.7" cy="466.1" rx="3.5" ry="1.3" fill="#f0629c" transform="rotate(206 516.7 466.1)"/><ellipse cx="518.3" cy="464.5" rx="3.5" ry="1.4" fill="#e24b86" transform="rotate(243 518.3 464.5)"/><ellipse cx="522.0" cy="463.9" rx="4.2" ry="1.6" fill="#f0629c" transform="rotate(296 522.0 463.9)"/><ellipse cx="524.0" cy="465.8" rx="4.2" ry="1.6" fill="#e24b86" transform="rotate(334 524.0 465.8)"/><circle cx="520.0" cy="467.5" r="1.6" fill="#f3a24e"/>
<ellipse cx="558.5" cy="461.9" rx="6.2" ry="2.4" fill="#e24b86" transform="rotate(29 558.5 461.9)"/><ellipse cx="554.8" cy="464.6" rx="6.1" ry="2.3" fill="#f0629c" transform="rotate(72 554.8 464.6)"/><ellipse cx="550.9" cy="463.4" rx="4.9" ry="1.9" fill="#e24b86" transform="rotate(112 550.9 463.4)"/><ellipse cx="547.3" cy="462.6" rx="6.4" ry="2.5" fill="#f0629c" transform="rotate(144 547.3 462.6)"/><ellipse cx="546.1" cy="458.3" rx="6.4" ry="2.4" fill="#e24b86" transform="rotate(187 546.1 458.3)"/><ellipse cx="548.2" cy="455.7" rx="5.6" ry="2.2" fill="#f0629c" transform="rotate(219 548.2 455.7)"/><ellipse cx="551.8" cy="453.6" rx="5.8" ry="2.2" fill="#e24b86" transform="rotate(261 551.8 453.6)"/><ellipse cx="555.8" cy="455.3" rx="4.9" ry="1.9" fill="#f0629c" transform="rotate(306 555.8 455.3)"/><ellipse cx="558.1" cy="457.4" rx="5.3" ry="2.0" fill="#e24b86" transform="rotate(340 558.1 457.4)"/><circle cx="552.81" cy="459.06" r="2.3" fill="#f3a24e"/>
<ellipse cx="572.9" cy="481.3" rx="3.8" ry="1.5" fill="#e24b86" transform="rotate(37 572.9 481.3)"/><ellipse cx="571.0" cy="482.0" rx="3.3" ry="1.3" fill="#f0629c" transform="rotate(68 571.0 482.0)"/><ellipse cx="568.0" cy="482.4" rx="3.8" ry="1.5" fill="#e24b86" transform="rotate(114 568.0 482.4)"/><ellipse cx="566.1" cy="480.6" rx="3.7" ry="1.4" fill="#f0629c" transform="rotate(156 566.1 480.6)"/><ellipse cx="566.0" cy="478.2" rx="3.6" ry="1.4" fill="#e24b86" transform="rotate(196 566.0 478.2)"/><ellipse cx="567.3" cy="475.9" rx="4.1" ry="1.6" fill="#f0629c" transform="rotate(237 567.3 475.9)"/><ellipse cx="569.7" cy="475.4" rx="3.9" ry="1.5" fill="#e24b86" transform="rotate(270 569.7 475.4)"/><ellipse cx="572.3" cy="476.8" rx="3.5" ry="1.3" fill="#f0629c" transform="rotate(315 572.3 476.8)"/><ellipse cx="574.1" cy="478.6" rx="4.2" ry="1.6" fill="#e24b86" transform="rotate(353 574.1 478.6)"/><circle cx="569.69" cy="479.12" r="1.6" fill="#f3a24e"/>
<ellipse cx="584.6" cy="474.7" rx="3.4" ry="1.3" fill="#e24b86" transform="rotate(7 584.6 474.7)"/><ellipse cx="583.4" cy="476.5" rx="3.3" ry="1.3" fill="#f0629c" transform="rotate(46 583.4 476.5)"/><ellipse cx="580.9" cy="477.0" rx="2.9" ry="1.1" fill="#e24b86" transform="rotate(91 580.9 477.0)"/><ellipse cx="578.9" cy="476.2" rx="2.8" ry="1.1" fill="#f0629c" transform="rotate(133 578.9 476.2)"/><ellipse cx="577.9" cy="474.6" rx="2.9" ry="1.1" fill="#e24b86" transform="rotate(172 577.9 474.6)"/><ellipse cx="577.9" cy="472.9" rx="3.2" ry="1.2" fill="#f0629c" transform="rotate(206 577.9 472.9)"/><ellipse cx="580.3" cy="471.5" rx="2.9" ry="1.1" fill="#e24b86" transform="rotate(258 580.3 471.5)"/><ellipse cx="582.1" cy="471.2" rx="3.4" ry="1.3" fill="#f0629c" transform="rotate(289 582.1 471.2)"/><ellipse cx="584.3" cy="473.2" rx="3.4" ry="1.3" fill="#e24b86" transform="rotate(340 584.3 473.2)"/><circle cx="580.94" cy="474.25" r="1.4" fill="#f3a24e"/>
<ellipse cx="599.5" cy="482.3" rx="2.2" ry="0.8" fill="#e24b86" transform="rotate(16 599.5 482.3)"/><ellipse cx="598.7" cy="483.4" rx="2.2" ry="0.8" fill="#f0629c" transform="rotate(52 598.7 483.4)"/><ellipse cx="597.5" cy="484.4" rx="2.8" ry="1.1" fill="#e24b86" transform="rotate(85 597.5 484.4)"/><ellipse cx="595.7" cy="483.8" rx="2.6" ry="1.0" fill="#f0629c" transform="rotate(124 595.7 483.8)"/><ellipse cx="594.7" cy="482.2" rx="2.4" ry="0.9" fill="#e24b86" transform="rotate(168 594.7 482.2)"/><ellipse cx="595.2" cy="480.7" rx="2.2" ry="0.9" fill="#f0629c" transform="rotate(209 595.2 480.7)"/><ellipse cx="596.6" cy="479.8" rx="2.2" ry="0.8" fill="#e24b86" transform="rotate(254 596.6 479.8)"/><ellipse cx="597.8" cy="479.8" rx="2.1" ry="0.8" fill="#f0629c" transform="rotate(285 597.8 479.8)"/><ellipse cx="599.3" cy="480.4" rx="2.4" ry="0.9" fill="#e24b86" transform="rotate(325 599.3 480.4)"/><circle cx="597.25" cy="481.75" r="1.0" fill="#f3a24e"/>
<path d="M601.6 477.2C602.7 477.0 606.4 476.3 608.1 475.9C609.8 475.6 611.3 475.2 611.9 475.0" fill="none" stroke="#c6dd6c" stroke-width="1.3" stroke-linecap="round" stroke-linejoin="round" />
<path d="M608.1 478.8C608.5 479.0 610.9 477.4 611.7 476.3C612.5 475.2 613.2 472.5 612.8 472.2C612.4 471.9 610.0 473.5 609.2 474.6C608.5 475.7 607.7 478.5 608.1 478.8Z" fill="#c6dd6c" stroke="#c6dd6c" stroke-width="1.1" stroke-linejoin="round"/>
<circle cx="624.3" cy="478.8" r="1.1" fill="#7a5fd2"/><circle cx="623.5" cy="479.9" r="1.1" fill="#7a5fd2"/><circle cx="622.1" cy="479.5" r="1.1" fill="#7a5fd2"/><circle cx="622.1" cy="478.0" r="1.1" fill="#7a5fd2"/><circle cx="623.5" cy="477.6" r="1.1" fill="#7a5fd2"/>
<circle cx="634.8" cy="476.5" r="1.1" fill="#7a5fd2"/><circle cx="634.0" cy="477.6" r="1.1" fill="#7a5fd2"/><circle cx="632.6" cy="477.2" r="1.1" fill="#7a5fd2"/><circle cx="632.6" cy="475.8" r="1.1" fill="#7a5fd2"/><circle cx="634.0" cy="475.4" r="1.1" fill="#7a5fd2"/>
<path d="M611.9 465.6C612.1 465.4 611.2 463.4 610.5 462.5C609.8 461.6 608.0 460.2 607.8 460.4C607.5 460.6 608.5 462.6 609.1 463.5C609.8 464.4 611.7 465.8 611.9 465.6Z" fill="#4fd089" stroke="#4fd089" stroke-width="1.1" stroke-linejoin="round"/><path d="M611.9 465.6C612.1 465.8 614.0 464.9 614.7 464.2C615.5 463.5 616.6 461.7 616.4 461.5C616.2 461.3 614.3 462.3 613.5 462.9C612.8 463.6 611.7 465.4 611.9 465.6Z" fill="#4fd089" stroke="#4fd089" stroke-width="1.1" stroke-linejoin="round"/><path d="M611.9 465.6C612.1 465.6 612.7 463.8 612.8 462.9C612.9 461.9 612.5 460.0 612.2 460.0C612.0 460.0 611.4 461.8 611.3 462.8C611.2 463.7 611.6 465.6 611.9 465.6Z" fill="#4fd089" stroke="#4fd089" stroke-width="1.1" stroke-linejoin="round"/>
<path d="M630.6 485.3C630.8 485.1 629.9 483.0 629.2 482.2C628.5 481.3 626.7 479.9 626.5 480.1C626.3 480.2 627.2 482.3 627.9 483.2C628.6 484.1 630.4 485.5 630.6 485.3Z" fill="#4fd089" stroke="#4fd089" stroke-width="1.1" stroke-linejoin="round"/><path d="M630.6 485.3C630.8 485.5 632.7 484.6 633.5 483.9C634.2 483.2 635.3 481.4 635.1 481.2C634.9 481.0 633.0 481.9 632.3 482.6C631.5 483.3 630.4 485.1 630.6 485.3Z" fill="#4fd089" stroke="#4fd089" stroke-width="1.1" stroke-linejoin="round"/><path d="M630.6 485.3C630.9 485.3 631.5 483.5 631.6 482.6C631.6 481.6 631.2 479.7 631.0 479.7C630.8 479.7 630.1 481.5 630.1 482.4C630.0 483.4 630.4 485.3 630.6 485.3Z" fill="#4fd089" stroke="#4fd089" stroke-width="1.1" stroke-linejoin="round"/>
<path d="M599.1 457.2C599.3 457.1 598.6 455.6 598.1 455.0C597.7 454.4 596.4 453.4 596.2 453.5C596.1 453.6 596.7 455.1 597.2 455.7C597.7 456.3 599.0 457.3 599.1 457.2Z" fill="#4fd089" stroke="#4fd089" stroke-width="1.1" stroke-linejoin="round"/><path d="M599.1 457.2C599.3 457.3 600.6 456.7 601.1 456.2C601.6 455.7 602.4 454.4 602.3 454.3C602.1 454.2 600.8 454.8 600.3 455.3C599.8 455.8 599.0 457.0 599.1 457.2Z" fill="#4fd089" stroke="#4fd089" stroke-width="1.1" stroke-linejoin="round"/><path d="M599.1 457.2C599.3 457.2 599.7 455.9 599.8 455.2C599.8 454.6 599.6 453.3 599.4 453.2C599.2 453.2 598.8 454.5 598.7 455.2C598.7 455.8 598.9 457.2 599.1 457.2Z" fill="#4fd089" stroke="#4fd089" stroke-width="1.1" stroke-linejoin="round"/>
<path d="M611.9 439.4C612.0 441.3 612.5 446.9 612.8 450.6C613.1 454.4 613.6 460.0 613.8 461.9" fill="none" stroke="#c6dd6c" stroke-width="1.3" stroke-linecap="round" stroke-linejoin="round" />
<path d="M627.8 445.0C627.0 446.6 624.5 451.4 623.1 454.4C621.8 457.3 620.3 461.4 619.8 462.8" fill="none" stroke="#c6dd6c" stroke-width="1.3" stroke-linecap="round" stroke-linejoin="round" />
<path d="M613.8 464.7C614.5 464.3 614.1 457.8 612.7 455.2C611.3 452.6 606.1 448.7 605.3 449.1C604.5 449.5 606.6 455.1 608.0 457.7C609.5 460.3 613.0 465.1 613.8 464.7Z" fill="#c6dd6c" stroke="#c6dd6c" stroke-width="1.1" stroke-linejoin="round"/>
<path d="M619.4 464.7C620.1 465.3 624.0 462.2 625.7 460.3C627.3 458.4 629.8 454.1 629.1 453.4C628.4 452.8 623.0 454.7 621.4 456.6C619.8 458.5 618.7 464.1 619.4 464.7Z" fill="#c6dd6c" stroke="#c6dd6c" stroke-width="1.1" stroke-linejoin="round"/>
<path d="M627.8 472.2C628.4 472.5 630.9 468.7 631.8 466.6C632.8 464.6 634.1 460.3 633.4 460.0C632.8 459.7 629.0 462.9 628.1 464.9C627.1 467.0 627.2 471.9 627.8 472.2Z" fill="#c6dd6c" stroke="#c6dd6c" stroke-width="1.1" stroke-linejoin="round"/>
<ellipse cx="613.9" cy="433.2" rx="4.7" ry="1.8" fill="#e24b86" transform="rotate(16 613.9 433.2)"/><ellipse cx="611.1" cy="435.8" rx="4.5" ry="1.7" fill="#f0629c" transform="rotate(64 611.1 435.8)"/><ellipse cx="608.1" cy="437.5" rx="5.9" ry="2.3" fill="#e24b86" transform="rotate(99 608.1 437.5)"/><ellipse cx="605.3" cy="435.7" rx="5.4" ry="2.1" fill="#f0629c" transform="rotate(132 605.3 435.7)"/><ellipse cx="604.2" cy="431.9" rx="4.6" ry="1.8" fill="#e24b86" transform="rotate(180 604.2 431.9)"/><ellipse cx="604.3" cy="428.7" rx="5.6" ry="2.2" fill="#f0629c" transform="rotate(217 604.3 428.7)"/><ellipse cx="607.8" cy="426.6" rx="5.7" ry="2.2" fill="#e24b86" transform="rotate(258 607.8 426.6)"/><ellipse cx="611.1" cy="427.6" rx="4.9" ry="1.9" fill="#f0629c" transform="rotate(293 611.1 427.6)"/><ellipse cx="614.0" cy="429.5" rx="5.3" ry="2.0" fill="#e24b86" transform="rotate(332 614.0 429.5)"/><circle cx="609.06" cy="431.88" r="2.2" fill="#f3a24e"/>
<ellipse cx="637.6" cy="441.2" rx="4.2" ry="1.6" fill="#e24b86" transform="rotate(22 637.6 441.2)"/><ellipse cx="636.0" cy="443.4" rx="4.5" ry="1.7" fill="#f0629c" transform="rotate(58 636.0 443.4)"/><ellipse cx="632.0" cy="443.7" rx="4.3" ry="1.7" fill="#e24b86" transform="rotate(108 632.0 443.7)"/><ellipse cx="630.2" cy="442.4" rx="4.1" ry="1.6" fill="#f0629c" transform="rotate(137 630.2 442.4)"/><ellipse cx="629.4" cy="439.7" rx="3.8" ry="1.5" fill="#e24b86" transform="rotate(180 629.4 439.7)"/><ellipse cx="630.2" cy="436.3" rx="4.7" ry="1.8" fill="#f0629c" transform="rotate(230 630.2 436.3)"/><ellipse cx="632.2" cy="435.5" rx="4.6" ry="1.8" fill="#e24b86" transform="rotate(256 632.2 435.5)"/><ellipse cx="635.8" cy="436.6" rx="4.0" ry="1.5" fill="#f0629c" transform="rotate(305 635.8 436.6)"/><ellipse cx="637.7" cy="438.3" rx="4.3" ry="1.7" fill="#e24b86" transform="rotate(339 637.7 438.3)"/><circle cx="633.44" cy="439.75" r="1.7" fill="#f3a24e"/>
<ellipse cx="639.8" cy="456.0" rx="2.1" ry="0.8" fill="#e24b86" transform="rotate(19 639.8 456.0)"/><ellipse cx="638.8" cy="456.8" rx="1.8" ry="0.8" fill="#f0629c" transform="rotate(58 638.8 456.8)"/><ellipse cx="637.5" cy="456.9" rx="1.7" ry="0.8" fill="#e24b86" transform="rotate(99 637.5 456.9)"/><ellipse cx="636.2" cy="456.5" rx="1.9" ry="0.8" fill="#f0629c" transform="rotate(138 636.2 456.5)"/><ellipse cx="636.0" cy="455.2" rx="1.6" ry="0.8" fill="#e24b86" transform="rotate(183 636.0 455.2)"/><ellipse cx="636.4" cy="454.4" rx="1.6" ry="0.8" fill="#f0629c" transform="rotate(215 636.4 454.4)"/><ellipse cx="637.5" cy="453.5" rx="1.9" ry="0.8" fill="#e24b86" transform="rotate(263 637.5 453.5)"/><ellipse cx="638.5" cy="453.4" rx="2.1" ry="0.8" fill="#f0629c" transform="rotate(291 638.5 453.4)"/><ellipse cx="639.7" cy="454.9" rx="1.9" ry="0.8" fill="#e24b86" transform="rotate(346 639.7 454.9)"/><circle cx="637.75" cy="455.31" r="0.8" fill="#f3a24e"/>
<circle cx="624.0" cy="479.0" r="1.1" fill="#7a5fd2"/><circle cx="623.2" cy="480.1" r="1.1" fill="#7a5fd2"/><circle cx="621.8" cy="479.7" r="1.1" fill="#7a5fd2"/><circle cx="621.8" cy="478.3" r="1.1" fill="#7a5fd2"/><circle cx="623.2" cy="477.9" r="1.1" fill="#7a5fd2"/>
<circle cx="634.7" cy="476.0" r="1.1" fill="#7a5fd2"/><circle cx="633.9" cy="477.1" r="1.1" fill="#7a5fd2"/><circle cx="632.5" cy="476.7" r="1.1" fill="#7a5fd2"/><circle cx="632.5" cy="475.3" r="1.1" fill="#7a5fd2"/><circle cx="633.9" cy="474.9" r="1.1" fill="#7a5fd2"/>
<path d="M630.3 485.9C630.5 485.8 629.6 483.7 628.9 482.8C628.2 481.9 626.4 480.5 626.2 480.7C626.0 480.9 626.9 483.0 627.6 483.8C628.3 484.7 630.1 486.1 630.3 485.9Z" fill="#4fd089" stroke="#4fd089" stroke-width="1.1" stroke-linejoin="round"/><path d="M630.3 485.9C630.5 486.1 632.4 485.2 633.1 484.5C633.9 483.8 635.0 482.0 634.8 481.8C634.6 481.6 632.7 482.6 632.0 483.2C631.2 483.9 630.1 485.7 630.3 485.9Z" fill="#4fd089" stroke="#4fd089" stroke-width="1.1" stroke-linejoin="round"/><path d="M630.3 485.9C630.6 486.0 631.2 484.1 631.2 483.2C631.3 482.2 630.9 480.3 630.7 480.3C630.4 480.3 629.8 482.1 629.8 483.1C629.7 484.0 630.1 485.9 630.3 485.9Z" fill="#4fd089" stroke="#4fd089" stroke-width="1.1" stroke-linejoin="round"/>
<path d="M642.5 486.9C642.7 486.8 642.0 485.3 641.5 484.7C641.0 484.1 639.8 483.1 639.6 483.2C639.5 483.3 640.1 484.8 640.6 485.4C641.1 486.0 642.3 487.0 642.5 486.9Z" fill="#4fd089" stroke="#4fd089" stroke-width="1.1" stroke-linejoin="round"/><path d="M642.5 486.9C642.6 487.0 643.9 486.4 644.5 485.9C645.0 485.4 645.8 484.1 645.6 484.0C645.5 483.8 644.2 484.5 643.7 485.0C643.2 485.5 642.4 486.7 642.5 486.9Z" fill="#4fd089" stroke="#4fd089" stroke-width="1.1" stroke-linejoin="round"/><path d="M642.5 486.9C642.7 486.9 643.1 485.6 643.2 484.9C643.2 484.3 642.9 483.0 642.8 482.9C642.6 482.9 642.2 484.2 642.1 484.9C642.1 485.5 642.3 486.9 642.5 486.9Z" fill="#4fd089" stroke="#4fd089" stroke-width="1.1" stroke-linejoin="round"/>
<path d="M648.1 492.5C648.3 492.4 647.6 490.9 647.1 490.3C646.7 489.7 645.4 488.7 645.2 488.8C645.1 488.9 645.7 490.4 646.2 491.0C646.7 491.6 648.0 492.6 648.1 492.5Z" fill="#4fd089" stroke="#4fd089" stroke-width="1.1" stroke-linejoin="round"/><path d="M648.1 492.5C648.3 492.6 649.6 492.0 650.1 491.5C650.6 491.0 651.4 489.8 651.3 489.6C651.1 489.5 649.8 490.1 649.3 490.6C648.8 491.1 648.0 492.4 648.1 492.5Z" fill="#4fd089" stroke="#4fd089" stroke-width="1.1" stroke-linejoin="round"/><path d="M648.1 492.5C648.3 492.5 648.7 491.2 648.8 490.6C648.8 489.9 648.6 488.6 648.4 488.6C648.2 488.5 647.8 489.8 647.7 490.5C647.7 491.2 647.9 492.5 648.1 492.5Z" fill="#4fd089" stroke="#4fd089" stroke-width="1.1" stroke-linejoin="round"/>
<path d="M607.8 466.2C608.0 466.1 607.3 464.7 606.8 464.1C606.3 463.4 605.1 462.4 604.9 462.6C604.8 462.7 605.4 464.2 605.9 464.8C606.4 465.4 607.7 466.4 607.8 466.2Z" fill="#4fd089" stroke="#4fd089" stroke-width="1.1" stroke-linejoin="round"/><path d="M607.8 466.2C607.9 466.4 609.3 465.7 609.8 465.2C610.3 464.8 611.1 463.5 611.0 463.4C610.8 463.2 609.5 463.9 609.0 464.4C608.5 464.9 607.7 466.1 607.8 466.2Z" fill="#4fd089" stroke="#4fd089" stroke-width="1.1" stroke-linejoin="round"/><path d="M607.8 466.2C608.0 466.3 608.4 465.0 608.5 464.3C608.5 463.7 608.3 462.3 608.1 462.3C607.9 462.3 607.5 463.6 607.4 464.2C607.4 464.9 607.6 466.2 607.8 466.2Z" fill="#4fd089" stroke="#4fd089" stroke-width="1.1" stroke-linejoin="round"/>
<path d="M599.4 459.1C599.5 459.0 598.9 457.5 598.4 456.9C597.9 456.3 596.6 455.3 596.5 455.4C596.3 455.6 597.0 457.0 597.5 457.6C598.0 458.3 599.2 459.2 599.4 459.1Z" fill="#4fd089" stroke="#4fd089" stroke-width="1.1" stroke-linejoin="round"/><path d="M599.4 459.1C599.5 459.3 600.8 458.6 601.4 458.1C601.9 457.6 602.7 456.4 602.5 456.2C602.4 456.1 601.1 456.8 600.5 457.2C600.0 457.7 599.2 459.0 599.4 459.1Z" fill="#4fd089" stroke="#4fd089" stroke-width="1.1" stroke-linejoin="round"/><path d="M599.4 459.1C599.6 459.1 600.0 457.8 600.0 457.2C600.1 456.5 599.8 455.2 599.6 455.2C599.5 455.2 599.0 456.5 599.0 457.1C598.9 457.8 599.2 459.1 599.4 459.1Z" fill="#4fd089" stroke="#4fd089" stroke-width="1.1" stroke-linejoin="round"/>
<path d="M627.5 471.9C628.1 472.2 630.7 468.2 631.7 466.1C632.7 463.9 634.1 459.4 633.5 459.1C632.9 458.8 629.0 462.2 628.0 464.3C627.0 466.4 626.9 471.6 627.5 471.9Z" fill="#c6dd6c" stroke="#c6dd6c" stroke-width="1.1" stroke-linejoin="round"/>
<path d="M609.1 479.8C609.6 479.9 611.1 476.9 611.7 475.4C612.3 473.8 613.0 470.6 612.5 470.4C612.0 470.2 609.1 472.7 608.5 474.2C608.0 475.8 608.6 479.6 609.1 479.8Z" fill="#c6dd6c" stroke="#c6dd6c" stroke-width="1.1" stroke-linejoin="round"/>
<path d="M600.3 477.1L609.1 475.6" fill="none" stroke="#c6dd6c" stroke-width="1.3" stroke-linecap="round" stroke-linejoin="round" />
<ellipse cx="641.0" cy="456.2" rx="2.3" ry="0.9" fill="#e24b86" transform="rotate(22 641.0 456.2)"/><ellipse cx="639.9" cy="456.8" rx="1.9" ry="0.8" fill="#f0629c" transform="rotate(53 639.9 456.8)"/><ellipse cx="638.5" cy="457.3" rx="2.1" ry="0.8" fill="#e24b86" transform="rotate(97 638.5 457.3)"/><ellipse cx="636.8" cy="456.7" rx="2.3" ry="0.9" fill="#f0629c" transform="rotate(144 636.8 456.7)"/><ellipse cx="636.4" cy="455.4" rx="2.2" ry="0.9" fill="#e24b86" transform="rotate(181 636.4 455.4)"/><ellipse cx="637.2" cy="454.1" rx="2.0" ry="0.8" fill="#f0629c" transform="rotate(222 637.2 454.1)"/><ellipse cx="638.3" cy="453.5" rx="2.0" ry="0.8" fill="#e24b86" transform="rotate(258 638.3 453.5)"/><ellipse cx="639.9" cy="453.9" rx="1.9" ry="0.8" fill="#f0629c" transform="rotate(305 639.9 453.9)"/><ellipse cx="640.7" cy="454.9" rx="1.9" ry="0.8" fill="#e24b86" transform="rotate(344 640.7 454.9)"/><circle cx="638.75" cy="455.38" r="0.9" fill="#f3a24e"/>
<ellipse cx="600.1" cy="482.2" rx="2.5" ry="1.0" fill="#e24b86" transform="rotate(13 600.1 482.2)"/><ellipse cx="598.8" cy="483.3" rx="2.2" ry="0.8" fill="#f0629c" transform="rotate(56 598.8 483.3)"/><ellipse cx="597.7" cy="483.6" rx="2.1" ry="0.8" fill="#e24b86" transform="rotate(86 597.7 483.6)"/><ellipse cx="595.9" cy="483.6" rx="2.5" ry="1.0" fill="#f0629c" transform="rotate(126 595.9 483.6)"/><ellipse cx="595.0" cy="482.2" rx="2.4" ry="0.9" fill="#e24b86" transform="rotate(164 595.0 482.2)"/><ellipse cx="595.4" cy="480.7" rx="2.2" ry="0.9" fill="#f0629c" transform="rotate(206 595.4 480.7)"/><ellipse cx="596.5" cy="479.3" rx="2.6" ry="1.0" fill="#e24b86" transform="rotate(249 596.5 479.3)"/><ellipse cx="598.3" cy="479.8" rx="2.0" ry="0.8" fill="#f0629c" transform="rotate(292 598.3 479.8)"/><ellipse cx="599.4" cy="480.5" rx="2.1" ry="0.8" fill="#e24b86" transform="rotate(327 599.4 480.5)"/><circle cx="597.5" cy="481.62" r="1.0" fill="#f3a24e"/>
<path d="M571.2 485.0C570.2 485.9 566.4 489.2 564.7 490.6C563.0 492.0 561.6 493.0 560.9 493.4" fill="none" stroke="#c6dd6c" stroke-width="1.3" stroke-linecap="round" stroke-linejoin="round" />
<path d="M581.0 481.2C581.5 482.8 583.4 487.8 584.0 490.6C584.6 493.4 584.6 496.9 584.8 498.1" fill="none" stroke="#c6dd6c" stroke-width="1.3" stroke-linecap="round" stroke-linejoin="round" />
<path d="M582.5 503.8C583.1 504.5 588.1 501.4 590.3 499.6C592.5 497.7 596.2 493.2 595.6 492.5C595.0 491.8 588.8 493.4 586.6 495.3C584.4 497.2 581.9 503.0 582.5 503.8Z" fill="#c6dd6c" stroke="#c6dd6c" stroke-width="1.1" stroke-linejoin="round"/>
<path d="M582.5 503.8C582.5 503.3 580.0 502.4 578.8 502.4C577.5 502.4 575.0 503.3 575.0 503.8C575.0 504.2 577.5 505.1 578.8 505.1C580.0 505.1 582.5 504.2 582.5 503.8Z" fill="#c6dd6c" stroke="#c6dd6c" stroke-width="1.1" stroke-linejoin="round"/>
<path d="M571.6 507.5C571.8 507.3 571.0 505.5 570.4 504.7C569.8 503.9 568.1 502.6 567.9 502.8C567.7 502.9 568.6 504.8 569.2 505.6C569.8 506.4 571.4 507.7 571.6 507.5Z" fill="#4fd089" stroke="#4fd089" stroke-width="1.1" stroke-linejoin="round"/><path d="M571.6 507.5C571.8 507.7 573.5 506.8 574.2 506.2C574.8 505.6 575.8 504.0 575.7 503.8C575.5 503.6 573.8 504.5 573.1 505.1C572.5 505.7 571.5 507.3 571.6 507.5Z" fill="#4fd089" stroke="#4fd089" stroke-width="1.1" stroke-linejoin="round"/><path d="M571.6 507.5C571.8 507.5 572.4 505.9 572.5 505.0C572.5 504.2 572.2 502.5 572.0 502.4C571.7 502.4 571.2 504.1 571.1 504.9C571.1 505.8 571.4 507.5 571.6 507.5Z" fill="#4fd089" stroke="#4fd089" stroke-width="1.1" stroke-linejoin="round"/>
<ellipse cx="575.3" cy="479.9" rx="3.8" ry="1.5" fill="#e24b86" transform="rotate(8 575.3 479.9)"/><ellipse cx="573.5" cy="481.9" rx="3.4" ry="1.3" fill="#f0629c" transform="rotate(51 573.5 481.9)"/><ellipse cx="571.9" cy="483.1" rx="3.9" ry="1.5" fill="#e24b86" transform="rotate(80 571.9 483.1)"/><ellipse cx="569.1" cy="482.0" rx="3.5" ry="1.3" fill="#f0629c" transform="rotate(127 569.1 482.0)"/><ellipse cx="567.6" cy="480.1" rx="3.6" ry="1.4" fill="#e24b86" transform="rotate(167 567.6 480.1)"/><ellipse cx="568.2" cy="477.9" rx="3.2" ry="1.2" fill="#f0629c" transform="rotate(209 568.2 477.9)"/><ellipse cx="569.1" cy="476.0" rx="4.1" ry="1.6" fill="#e24b86" transform="rotate(240 569.1 476.0)"/><ellipse cx="572.0" cy="476.2" rx="3.4" ry="1.3" fill="#f0629c" transform="rotate(282 572.0 476.2)"/><ellipse cx="574.7" cy="477.5" rx="3.8" ry="1.5" fill="#e24b86" transform="rotate(329 574.7 477.5)"/><circle cx="571.25" cy="479.38" r="1.5" fill="#f3a24e"/>
<ellipse cx="583.8" cy="476.4" rx="3.5" ry="1.4" fill="#e24b86" transform="rotate(31 583.8 476.4)"/><ellipse cx="581.8" cy="478.1" rx="3.8" ry="1.5" fill="#f0629c" transform="rotate(73 581.8 478.1)"/><ellipse cx="579.2" cy="478.0" rx="3.7" ry="1.4" fill="#e24b86" transform="rotate(111 579.2 478.0)"/><ellipse cx="577.0" cy="475.8" rx="3.7" ry="1.4" fill="#f0629c" transform="rotate(162 577.0 475.8)"/><ellipse cx="577.7" cy="473.4" rx="3.0" ry="1.2" fill="#e24b86" transform="rotate(207 577.7 473.4)"/><ellipse cx="578.5" cy="471.9" rx="3.5" ry="1.3" fill="#f0629c" transform="rotate(236 578.5 471.9)"/><ellipse cx="580.9" cy="471.8" rx="3.1" ry="1.2" fill="#e24b86" transform="rotate(275 580.9 471.8)"/><ellipse cx="583.3" cy="472.2" rx="3.7" ry="1.4" fill="#f0629c" transform="rotate(314 583.3 472.2)"/><ellipse cx="584.4" cy="475.0" rx="3.6" ry="1.4" fill="#e24b86" transform="rotate(365 584.4 475.0)"/><circle cx="580.62" cy="474.69" r="1.4" fill="#f3a24e"/>
<ellipse cx="563.0" cy="458.8" rx="2.0" ry="0.8" fill="#e24b86" transform="rotate(14 563.0 458.8)"/><ellipse cx="562.2" cy="459.9" rx="2.0" ry="0.8" fill="#f0629c" transform="rotate(54 562.2 459.9)"/><ellipse cx="560.7" cy="460.1" rx="1.9" ry="0.8" fill="#e24b86" transform="rotate(97 560.7 460.1)"/><ellipse cx="559.6" cy="459.5" rx="1.7" ry="0.8" fill="#f0629c" transform="rotate(137 559.6 459.5)"/><ellipse cx="558.9" cy="458.7" rx="1.9" ry="0.8" fill="#e24b86" transform="rotate(171 558.9 458.7)"/><ellipse cx="558.9" cy="457.4" rx="2.2" ry="0.8" fill="#f0629c" transform="rotate(209 558.9 457.4)"/><ellipse cx="560.2" cy="456.4" rx="2.2" ry="0.8" fill="#e24b86" transform="rotate(251 560.2 456.4)"/><ellipse cx="562.0" cy="456.9" rx="1.9" ry="0.8" fill="#f0629c" transform="rotate(302 562.0 456.9)"/><ellipse cx="563.1" cy="457.7" rx="2.2" ry="0.8" fill="#e24b86" transform="rotate(341 563.1 457.7)"/><circle cx="560.94" cy="458.38" r="0.8" fill="#f3a24e"/>
<path d="M716.6 496.2C716.7 498.1 717.0 504.4 717.1 507.5C717.3 510.6 717.4 513.8 717.5 515.0" fill="none" stroke="#c6dd6c" stroke-width="1.3" stroke-linecap="round" stroke-linejoin="round" />
<path d="M716.6 518.8C717.3 519.5 722.6 515.6 724.8 513.2C727.0 510.9 730.5 505.4 729.7 504.7C728.9 504.0 722.3 506.6 720.1 508.9C717.9 511.2 715.8 518.0 716.6 518.8Z" fill="#c6dd6c" stroke="#c6dd6c" stroke-width="1.1" stroke-linejoin="round"/>
<circle cx="732.2" cy="512.8" r="1.1" fill="#7a5fd2"/><circle cx="731.4" cy="513.9" r="1.1" fill="#7a5fd2"/><circle cx="730.0" cy="513.5" r="1.1" fill="#7a5fd2"/><circle cx="730.0" cy="512.0" r="1.1" fill="#7a5fd2"/><circle cx="731.4" cy="511.6" r="1.1" fill="#7a5fd2"/>
<path d="M684.1 530.0C684.3 529.8 683.4 527.7 682.7 526.9C682.0 526.0 680.2 524.6 680.0 524.8C679.8 524.9 680.7 527.0 681.4 527.9C682.1 528.8 683.9 530.2 684.1 530.0Z" fill="#4fd089" stroke="#4fd089" stroke-width="1.1" stroke-linejoin="round"/><path d="M684.1 530.0C684.3 530.2 686.2 529.2 687.0 528.6C687.7 527.9 688.8 526.1 688.6 525.9C688.4 525.7 686.5 526.6 685.8 527.3C685.0 528.0 683.9 529.8 684.1 530.0Z" fill="#4fd089" stroke="#4fd089" stroke-width="1.1" stroke-linejoin="round"/><path d="M684.1 530.0C684.4 530.0 685.0 528.2 685.1 527.2C685.1 526.3 684.8 524.4 684.5 524.4C684.2 524.4 683.6 526.2 683.6 527.1C683.5 528.1 683.9 530.0 684.1 530.0Z" fill="#4fd089" stroke="#4fd089" stroke-width="1.1" stroke-linejoin="round"/>
<path d="M703.4 529.1C703.6 528.9 702.9 527.2 702.3 526.5C701.8 525.8 700.3 524.7 700.1 524.9C700.0 525.0 700.7 526.7 701.3 527.4C701.8 528.1 703.3 529.2 703.4 529.1Z" fill="#4fd089" stroke="#4fd089" stroke-width="1.1" stroke-linejoin="round"/><path d="M703.4 529.1C703.6 529.2 705.1 528.5 705.7 527.9C706.3 527.4 707.2 525.9 707.0 525.8C706.9 525.6 705.4 526.4 704.8 526.9C704.2 527.5 703.3 528.9 703.4 529.1Z" fill="#4fd089" stroke="#4fd089" stroke-width="1.1" stroke-linejoin="round"/><path d="M703.4 529.1C703.6 529.1 704.1 527.6 704.2 526.9C704.2 526.1 703.9 524.6 703.7 524.6C703.5 524.5 703.0 526.0 703.0 526.8C702.9 527.5 703.2 529.0 703.4 529.1Z" fill="#4fd089" stroke="#4fd089" stroke-width="1.1" stroke-linejoin="round"/>
<path d="M721.2 522.5C721.4 522.3 720.6 520.5 720.0 519.7C719.4 518.9 717.7 517.6 717.5 517.8C717.3 517.9 718.2 519.8 718.8 520.6C719.4 521.4 721.1 522.7 721.2 522.5Z" fill="#4fd089" stroke="#4fd089" stroke-width="1.1" stroke-linejoin="round"/><path d="M721.2 522.5C721.4 522.7 723.1 521.8 723.8 521.2C724.5 520.6 725.5 519.0 725.3 518.8C725.1 518.6 723.4 519.5 722.8 520.1C722.1 520.7 721.1 522.3 721.2 522.5Z" fill="#4fd089" stroke="#4fd089" stroke-width="1.1" stroke-linejoin="round"/><path d="M721.2 522.5C721.5 522.5 722.0 520.9 722.1 520.0C722.1 519.2 721.8 517.5 721.6 517.4C721.4 517.4 720.8 519.1 720.8 519.9C720.7 520.8 721.0 522.5 721.2 522.5Z" fill="#4fd089" stroke="#4fd089" stroke-width="1.1" stroke-linejoin="round"/>
<path d="M710.0 524.8C710.4 524.5 709.6 521.0 708.7 519.7C707.8 518.4 704.7 516.6 704.4 516.9C704.0 517.1 705.6 519.9 706.6 521.2C707.5 522.6 709.6 525.0 710.0 524.8Z" fill="#c6dd6c" stroke="#c6dd6c" stroke-width="1.1" stroke-linejoin="round"/>
<path d="M680.0 520.6C679.6 520.7 679.9 524.1 680.3 525.6C680.8 527.2 682.5 530.1 682.8 530.0C683.2 529.9 682.9 526.6 682.5 525.0C682.0 523.4 680.4 520.5 680.0 520.6Z" fill="#c6dd6c" stroke="#c6dd6c" stroke-width="1.1" stroke-linejoin="round"/>
<path d="M692.2 503.8C692.3 503.6 691.7 502.2 691.2 501.6C690.7 500.9 689.5 499.9 689.3 500.1C689.1 500.2 689.8 501.7 690.3 502.3C690.8 502.9 692.0 503.9 692.2 503.8Z" fill="#4fd089" stroke="#4fd089" stroke-width="1.1" stroke-linejoin="round"/><path d="M692.2 503.8C692.3 503.9 693.6 503.2 694.2 502.7C694.7 502.3 695.5 501.0 695.3 500.9C695.2 500.7 693.9 501.4 693.4 501.9C692.8 502.4 692.1 503.6 692.2 503.8Z" fill="#4fd089" stroke="#4fd089" stroke-width="1.1" stroke-linejoin="round"/><path d="M692.2 503.8C692.4 503.8 692.8 502.5 692.8 501.8C692.9 501.2 692.6 499.8 692.5 499.8C692.3 499.8 691.8 501.1 691.8 501.8C691.7 502.4 692.0 503.7 692.2 503.8Z" fill="#4fd089" stroke="#4fd089" stroke-width="1.1" stroke-linejoin="round"/>
<ellipse cx="721.7" cy="491.9" rx="5.4" ry="2.1" fill="#e24b86" transform="rotate(26 721.7 491.9)"/><ellipse cx="719.5" cy="493.8" rx="5.1" ry="2.0" fill="#f0629c" transform="rotate(58 719.5 493.8)"/><ellipse cx="715.3" cy="494.3" rx="5.0" ry="1.9" fill="#e24b86" transform="rotate(104 715.3 494.3)"/><ellipse cx="713.5" cy="492.5" rx="4.1" ry="1.6" fill="#f0629c" transform="rotate(135 713.5 492.5)"/><ellipse cx="711.2" cy="489.8" rx="5.1" ry="2.0" fill="#e24b86" transform="rotate(179 711.2 489.8)"/><ellipse cx="712.5" cy="487.0" rx="4.8" ry="1.8" fill="#f0629c" transform="rotate(217 712.5 487.0)"/><ellipse cx="715.4" cy="484.8" rx="5.3" ry="2.0" fill="#e24b86" transform="rotate(258 715.4 484.8)"/><ellipse cx="719.6" cy="486.2" rx="4.6" ry="1.8" fill="#f0629c" transform="rotate(308 719.6 486.2)"/><ellipse cx="720.9" cy="488.9" rx="4.1" ry="1.6" fill="#e24b86" transform="rotate(349 720.9 488.9)"/><circle cx="716.56" cy="489.69" r="2.0" fill="#f3a24e"/>
<path d="M923.4 438.4C923.5 435.8 925.4 435.5 926.6 434.7C927.7 433.8 928.9 433.0 930.3 433.4C931.7 433.8 933.3 435.6 935.0 437.1C936.7 438.7 939.2 440.8 940.6 442.8C942.0 444.8 944.4 447.7 943.4 449.1C942.5 450.6 938.0 451.4 935.0 451.6C932.0 451.7 927.6 452.4 925.6 450.2C923.7 448.1 923.2 441.0 923.4 438.4Z" fill="#4b3327"/>
<path d="M881.0 463.8C881.2 460.8 881.9 456.3 883.4 453.4C884.9 450.6 887.9 448.2 890.0 446.5C892.1 444.8 893.9 443.1 896.0 443.1C898.1 443.1 900.7 444.3 902.8 446.5C904.8 448.7 906.8 452.8 908.4 456.2C910.0 459.8 911.8 464.1 912.5 467.5C913.2 470.9 914.2 474.3 912.5 476.9C910.8 479.4 906.3 482.9 902.2 482.9C898.1 482.9 891.5 478.8 888.1 476.9C884.8 474.9 883.3 473.4 882.1 471.2C880.9 469.1 880.8 466.7 881.0 463.8Z" fill="#4b3327"/>
<ellipse cx="886.25" cy="461.88" rx="2.25" ry="1.8" fill="#5f4536"/><ellipse cx="899.38" cy="462.81" rx="1.88" ry="1.5" fill="#5f4536"/><ellipse cx="908.75" cy="455.31" rx="1.69" ry="1.35" fill="#5f4536"/><ellipse cx="905.94" cy="475.0" rx="2.25" ry="1.8" fill="#5f4536"/><ellipse cx="917.19" cy="450.62" rx="1.88" ry="1.5" fill="#5f4536"/><ellipse cx="891.88" cy="474.06" rx="1.69" ry="1.35" fill="#5f4536"/>
<path d="M921.9 438.4C923.1 439.1 927.6 440.6 929.4 442.2C931.2 443.8 932.1 444.8 932.8 447.8C933.4 450.8 933.3 455.9 933.5 460.0C933.7 464.1 934.0 470.2 934.1 472.2" fill="none" stroke="#e2384e" stroke-width="5.6" stroke-linecap="round" stroke-linejoin="round" />
<path d="M934.1 475.4C933.6 473.3 939.2 470.5 941.6 469.0C944.0 467.5 946.4 465.9 948.5 466.6C950.6 467.2 952.5 470.9 954.1 473.1C955.7 475.3 959.9 478.3 958.2 479.7C956.6 481.1 948.4 482.5 944.4 481.8C940.3 481.0 934.5 477.5 934.1 475.4Z" fill="#4b3327"/>
<path d="M987.1 483.4C987.3 481.2 990.4 478.6 992.8 477.8C995.1 477.0 998.4 477.4 1001.0 478.8C1003.6 480.1 1006.1 482.8 1008.1 485.9C1010.1 489.0 1012.6 494.3 1013.0 497.5C1013.4 500.7 1012.6 504.2 1010.4 505.0C1008.2 505.8 1002.8 504.4 999.7 502.2C996.6 499.9 993.7 494.6 991.6 491.5C989.5 488.4 986.9 485.7 987.1 483.4Z" fill="#4b3327"/>
<ellipse cx="965.0" cy="485.31" rx="1.88" ry="1.5" fill="#5f4536"/><ellipse cx="978.12" cy="490.0" rx="1.69" ry="1.35" fill="#5f4536"/><ellipse cx="1004.38" cy="506.88" rx="1.69" ry="1.35" fill="#5f4536"/><ellipse cx="1014.69" cy="502.19" rx="1.5" ry="1.2" fill="#5f4536"/><ellipse cx="972.5" cy="483.44" rx="1.5" ry="1.2" fill="#5f4536"/>
<path d="M913.8 544.0C912.2 542.9 916.3 540.9 918.1 539.1C919.9 537.4 922.7 535.4 924.7 533.5C926.7 531.6 928.7 529.3 930.3 527.9C931.9 526.5 932.8 525.0 934.2 525.2C935.7 525.5 937.7 527.3 938.8 529.4C939.8 531.5 940.2 535.3 940.6 537.8C941.0 540.3 943.2 543.0 941.0 544.4C938.8 545.7 932.0 545.9 927.5 545.9C923.0 545.8 915.4 545.1 913.8 544.0Z" fill="#4b3327"/>
<ellipse cx="931.25" cy="536.88" rx="1.88" ry="1.5" fill="#5f4536"/><ellipse cx="923.75" cy="541.56" rx="1.5" ry="1.2" fill="#5f4536"/>
<path d="M979.1 520.0C978.9 517.5 977.5 509.1 978.1 505.0C978.7 500.9 980.3 497.7 982.8 495.6C985.3 493.5 990.0 492.7 993.1 492.2C996.2 491.8 999.7 492.1 1001.6 493.0C1003.4 493.9 1003.6 496.8 1004.0 497.5" fill="none" stroke="#e2384e" stroke-width="6.6" stroke-linecap="round" stroke-linejoin="round" />
<path d="M910.6 475.0C910.9 474.2 913.4 474.3 914.4 473.5C915.4 472.7 915.4 470.9 916.6 470.3C917.9 469.7 920.8 469.2 921.9 469.8C922.9 470.3 922.1 472.8 922.8 473.5C923.5 474.2 925.5 473.4 926.0 474.1C926.5 474.7 927.9 476.6 925.6 477.2C923.4 477.9 915.0 478.4 912.5 478.0C910.0 477.6 910.3 475.8 910.6 475.0Z" fill="#e8c33c"/>
<path d="M910.2 477.2L913.4 474.6" fill="none" stroke="#e8c33c" stroke-width="1.4" stroke-linecap="round" stroke-linejoin="round" />
<path d="M949.2 477.2C949.9 476.0 950.7 476.1 953.8 475.9C956.8 475.8 965.0 475.9 967.8 476.5C970.6 477.1 969.9 478.3 970.6 479.7C971.3 481.1 973.7 483.8 972.1 484.8C970.6 485.7 964.9 485.5 961.2 485.3C957.6 485.1 952.0 484.8 950.0 483.4C948.0 482.1 948.6 478.5 949.2 477.2Z" fill="#e8c33c"/>
<path d="M959.4 477.2L959.4 482.5" fill="none" stroke="#6b5a2a" stroke-width="0.8" stroke-linecap="round" stroke-linejoin="round" />
<path d="M965.9 477.8L967.8 482.5" fill="none" stroke="#6b5a2a" stroke-width="0.8" stroke-linecap="round" stroke-linejoin="round" />
<ellipse cx="965.0" cy="485.88" rx="3.0" ry="1.69" fill="#4b4a48"/>
<path d="M984.7 477.2L985.2 482.5" fill="none" stroke="#3aa3cc" stroke-width="2.2" stroke-linecap="round" stroke-linejoin="round" />
<path d="M982.2 482.5L987.9 483.4" fill="none" stroke="#3aa3cc" stroke-width="1.8" stroke-linecap="round" stroke-linejoin="round" />
<path d="M983.8 488.1C984.0 487.3 984.7 483.4 985.2 483.4C985.8 483.4 986.8 487.3 987.1 488.1" fill="none" stroke="#3aa3cc" stroke-width="1.8" stroke-linecap="round" stroke-linejoin="round" />
<path d="M1027.5 450.3C1028.1 447.7 1032.8 446.7 1035.0 445.2C1037.2 443.8 1038.9 442.4 1040.6 441.5C1042.4 440.6 1044.0 439.2 1045.5 440.0C1047.0 440.8 1048.6 443.9 1049.6 446.6C1050.7 449.2 1050.0 453.7 1051.9 455.9C1053.8 458.2 1058.4 458.5 1060.9 460.2C1063.4 462.0 1065.5 463.7 1066.9 466.2C1068.3 468.8 1071.3 473.4 1069.1 475.6C1066.9 477.9 1058.8 480.6 1053.8 479.8C1048.8 478.9 1042.8 473.5 1039.1 470.4C1035.4 467.3 1033.6 464.3 1031.6 461.0C1029.7 457.7 1026.9 452.9 1027.5 450.3Z" fill="#4b3327"/>
<ellipse cx="1032.19" cy="456.88" rx="1.88" ry="1.5" fill="#5f4536"/><ellipse cx="1043.44" cy="470.94" rx="2.25" ry="1.8" fill="#5f4536"/><ellipse cx="1046.25" cy="450.31" rx="1.5" ry="1.2" fill="#5f4536"/>
<path d="M1035.9 434.8L1036.1 442.8" fill="none" stroke="#3aa3cc" stroke-width="2.2" stroke-linecap="round" stroke-linejoin="round" />
<path d="M1033.1 442.8L1039.1 443.8" fill="none" stroke="#3aa3cc" stroke-width="1.8" stroke-linecap="round" stroke-linejoin="round" />
<path d="M1034.2 447.5C1034.6 446.9 1035.5 443.8 1036.1 443.8C1036.7 443.7 1037.7 446.6 1038.0 447.1" fill="none" stroke="#3aa3cc" stroke-width="1.6" stroke-linecap="round" stroke-linejoin="round" />
<path d="M1050.4 469.6L1059.8 464.0L1066.5 470.4L1065.9 478.4L1056.6 479.8L1050.4 476.0Z" fill="#e8404f"/>
<path d="M1051.9 466.2L1056.0 461.0L1064.1 462.5L1060.9 466.2L1054.7 469.6Z" fill="#5a3a30"/>
<path d="M1060.9 473.4L1063.5 473.0L1063.5 477.9L1060.9 478.2Z" fill="#7a2a30"/>
<path d="M990.0 484.1C990.9 480.6 993.2 479.9 995.6 479.4C998.1 478.9 1002.2 479.2 1004.6 480.9C1007.1 482.6 1008.9 486.6 1010.2 489.7C1011.6 492.8 1014.0 497.3 1012.5 499.6C1011.0 502.0 1005.0 503.6 1001.2 503.8C997.5 503.9 991.9 503.7 990.0 500.4C988.1 497.1 989.1 487.6 990.0 484.1Z" fill="#4b3327"/>
<path d="M989.1 493.4C990.2 493.0 993.5 491.2 995.6 491.0C997.7 490.8 1000.3 490.9 1001.6 492.1C1002.9 493.3 1003.2 497.1 1003.5 498.1" fill="none" stroke="#e2384e" stroke-width="6.0" stroke-linecap="round" stroke-linejoin="round" />
<ellipse cx="997.5" cy="503.75" rx="1.88" ry="1.5" fill="#5f4536"/><ellipse cx="1015.31" cy="501.88" rx="1.5" ry="1.2" fill="#5f4536"/>
<path d="M1143.4 519.7C1143.0 516.6 1146.6 508.8 1148.4 504.7C1150.3 500.5 1152.6 496.9 1154.6 494.8C1156.6 492.6 1158.8 491.0 1160.6 491.6C1162.4 492.1 1164.5 494.8 1165.5 498.1C1166.5 501.4 1167.7 507.4 1166.6 511.2C1165.6 515.1 1161.7 519.0 1159.1 521.0C1156.5 523.0 1153.5 523.5 1150.9 523.2C1148.3 523.0 1143.8 522.8 1143.4 519.7Z" fill="#4b3327"/>
<ellipse cx="1113.75" cy="523.44" rx="2.62" ry="2.1" fill="#5f4536"/><ellipse cx="1140.0" cy="522.5" rx="2.44" ry="1.95" fill="#5f4536"/><ellipse cx="1155.0" cy="500.0" rx="1.69" ry="1.35" fill="#5f4536"/><ellipse cx="1147.5" cy="515.0" rx="1.69" ry="1.35" fill="#5f4536"/>
<ellipse cx="1009.69" cy="537.5" rx="3.75" ry="3.38" fill="#4b3327"/>
<path d="M1174.7 560.2L1183.1 549.4" fill="none" stroke="#69c780" stroke-width="2.4" stroke-linecap="round" stroke-linejoin="round" />
<path d="M1155.8 573.8C1155.4 570.9 1156.2 562.7 1157.6 558.8C1159.0 554.8 1161.8 551.3 1164.0 550.1C1166.2 548.9 1169.1 549.9 1170.9 551.6C1172.8 553.3 1172.7 557.9 1174.9 560.2C1177.0 562.6 1182.1 563.6 1183.9 565.9C1185.6 568.1 1187.6 572.1 1185.4 573.8C1183.1 575.4 1174.7 575.2 1170.4 575.6C1166.1 576.0 1162.1 576.3 1159.7 576.0C1157.3 575.7 1156.1 576.6 1155.8 573.8Z" fill="#4b3327"/>
<ellipse cx="1167.19" cy="557.44" rx="1.88" ry="1.5" fill="#5f4536"/><ellipse cx="1161.56" cy="569.62" rx="2.62" ry="2.1" fill="#5f4536"/><ellipse cx="1177.5" cy="569.62" rx="1.88" ry="1.5" fill="#5f4536"/>

<text x="505.3" y="353.5" font-size="21" textLength="174.4" lengthAdjust="spacingAndGlyphs">Greens and hearbs</text>
<text x="955.3" y="353.5" font-size="21" textLength="129.4" lengthAdjust="spacingAndGlyphs">Natural plants</text>
<text x="555.6" y="651.8" font-size="21" textLength="67.8" lengthAdjust="spacingAndGlyphs">Flowers</text>
<text x="954.4" y="655.4" font-size="21" textLength="113.4" lengthAdjust="spacingAndGlyphs">Play and fun</text>
</svg></body></html>
